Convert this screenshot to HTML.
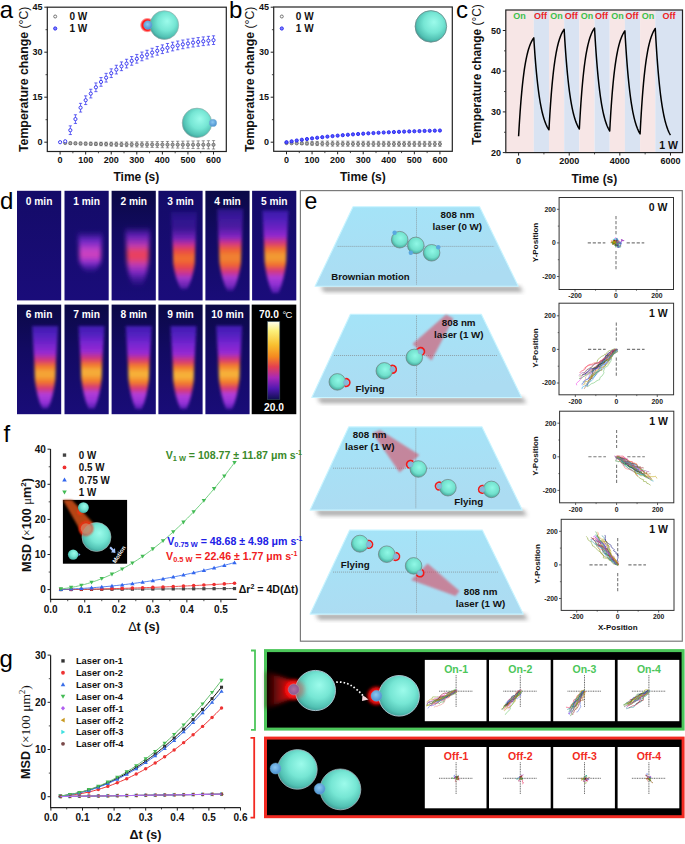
<!DOCTYPE html>
<html><head><meta charset="utf-8"><title>Figure</title>
<style>html,body{margin:0;padding:0;background:#fff;} svg{display:block;} text{font-family:"Liberation Sans", sans-serif;}</style>
</head><body>
<svg width="685" height="844" viewBox="0 0 685 844"><defs>
<radialGradient id="sph" cx="0.56" cy="0.42" r="0.62" fx="0.6" fy="0.36">
  <stop offset="0" stop-color="#9cfbeb"/>
  <stop offset="0.5" stop-color="#76e6d4"/>
  <stop offset="0.82" stop-color="#52c2b4"/>
  <stop offset="1" stop-color="#3a9690"/>
</radialGradient>
<radialGradient id="cap" cx="0.45" cy="0.4" r="0.6">
  <stop offset="0" stop-color="#8cc8f0"/>
  <stop offset="1" stop-color="#4a90d0"/>
</radialGradient>
<radialGradient id="redglow" cx="0.5" cy="0.5" r="0.5">
  <stop offset="0" stop-color="#ff2020" stop-opacity="1"/>
  <stop offset="0.7" stop-color="#ff1010" stop-opacity="0.95"/>
  <stop offset="1" stop-color="#ff0000" stop-opacity="0"/>
</radialGradient>
<filter id="blur1" x="-50%" y="-50%" width="200%" height="200%"><feGaussianBlur stdDeviation="1"/></filter>
<filter id="blur2" x="-50%" y="-50%" width="200%" height="200%"><feGaussianBlur stdDeviation="2"/></filter>
<filter id="blur3" x="-50%" y="-50%" width="200%" height="200%"><feGaussianBlur stdDeviation="3"/></filter>
<filter id="blur15" x="-50%" y="-50%" width="200%" height="200%"><feGaussianBlur stdDeviation="1.5"/></filter>


<linearGradient id="bgr1" x1="0" y1="0" x2="0" y2="1">
  <stop offset="0" stop-color="#140b68"/><stop offset="1" stop-color="#1a0c7a"/>
</linearGradient>
<linearGradient id="bgr2" x1="0" y1="0" x2="0" y2="1">
  <stop offset="0" stop-color="#0b0946"/><stop offset="0.4" stop-color="#120a62"/><stop offset="1" stop-color="#190c78"/>
</linearGradient>
<linearGradient id="cbar" x1="0" y1="0" x2="0" y2="1">
  <stop offset="0" stop-color="#fffff0"/>
  <stop offset="0.12" stop-color="#fbf07a"/>
  <stop offset="0.3" stop-color="#f8c030"/>
  <stop offset="0.45" stop-color="#f58a20"/>
  <stop offset="0.58" stop-color="#e44050"/>
  <stop offset="0.72" stop-color="#a828b8"/>
  <stop offset="0.86" stop-color="#5018b0"/>
  <stop offset="1" stop-color="#101050"/>
</linearGradient>

<linearGradient id="tg1_1" gradientUnits="userSpaceOnUse" x1="0" y1="228" x2="0" y2="274"><stop offset="0.07" stop-color="#7a2ae0" stop-opacity="0"/><stop offset="0.27" stop-color="#8a30e0" stop-opacity="0.75"/><stop offset="0.47" stop-color="#c040c8" stop-opacity="1"/><stop offset="0.6" stop-color="#d042bc" stop-opacity="1"/><stop offset="0.73" stop-color="#a436d8" stop-opacity="0.9"/><stop offset="0.86" stop-color="#8a2ee0" stop-opacity="0.45"/><stop offset="0.97" stop-color="#7a2ad8" stop-opacity="0"/></linearGradient>
<filter id="fb_tg1_1" x="-50%" y="-20%" width="200%" height="140%"><feGaussianBlur stdDeviation="2.2"/></filter>
<linearGradient id="tg1_2" gradientUnits="userSpaceOnUse" x1="0" y1="224" x2="0" y2="290"><stop offset="0.04" stop-color="#7a2ae0" stop-opacity="0"/><stop offset="0.17" stop-color="#8a2ae0" stop-opacity="0.65"/><stop offset="0.33" stop-color="#c03cb0" stop-opacity="1"/><stop offset="0.42" stop-color="#e84262" stop-opacity="1"/><stop offset="0.52" stop-color="#e84060" stop-opacity="1"/><stop offset="0.61" stop-color="#c23cb0" stop-opacity="1"/><stop offset="0.73" stop-color="#9a30d8" stop-opacity="0.8"/><stop offset="0.87" stop-color="#7a28d0" stop-opacity="0.3"/><stop offset="0.96" stop-color="#6a20c8" stop-opacity="0"/></linearGradient>
<filter id="fb_tg1_2" x="-50%" y="-20%" width="200%" height="140%"><feGaussianBlur stdDeviation="2.2"/></filter>
<linearGradient id="tg1_3" gradientUnits="userSpaceOnUse" x1="0" y1="211.5" x2="0" y2="289.4"><stop offset="0" stop-color="#4a1ec2" stop-opacity="0.23"/><stop offset="0.1" stop-color="#5822ca" stop-opacity="0.36"/><stop offset="0.21" stop-color="#7a26d6" stop-opacity="0.33"/><stop offset="0.34" stop-color="#982ad2" stop-opacity="0.72"/><stop offset="0.43" stop-color="#cb3390" stop-opacity="1"/><stop offset="0.5" stop-color="#e84848" stop-opacity="1"/><stop offset="0.58" stop-color="#f06a30" stop-opacity="1"/><stop offset="0.63" stop-color="#f06a30" stop-opacity="1"/><stop offset="0.71" stop-color="#e84848" stop-opacity="1"/><stop offset="0.79" stop-color="#cb3390" stop-opacity="1"/><stop offset="0.86" stop-color="#b23cd8" stop-opacity="0.86"/><stop offset="0.97" stop-color="#9632d8" stop-opacity="0.56"/><stop offset="1" stop-color="#6a20c4" stop-opacity="0.28"/></linearGradient>
<filter id="fb_tg1_3" x="-50%" y="-20%" width="200%" height="140%"><feGaussianBlur stdDeviation="1.6"/></filter>
<linearGradient id="tg1_4" gradientUnits="userSpaceOnUse" x1="0" y1="208.8" x2="0" y2="290.7"><stop offset="0" stop-color="#4a1ec2" stop-opacity="0.46"/><stop offset="0.1" stop-color="#5822ca" stop-opacity="0.59"/><stop offset="0.22" stop-color="#7a26d6" stop-opacity="0.56"/><stop offset="0.34" stop-color="#982ad2" stop-opacity="0.84"/><stop offset="0.42" stop-color="#d23684" stop-opacity="1"/><stop offset="0.5" stop-color="#ee6136" stop-opacity="1"/><stop offset="0.57" stop-color="#f08030" stop-opacity="1"/><stop offset="0.62" stop-color="#f08030" stop-opacity="1"/><stop offset="0.69" stop-color="#ee6136" stop-opacity="1"/><stop offset="0.77" stop-color="#d23684" stop-opacity="1"/><stop offset="0.84" stop-color="#b23cd8" stop-opacity="0.92"/><stop offset="0.94" stop-color="#9632d8" stop-opacity="0.75"/><stop offset="1" stop-color="#6a20c4" stop-opacity="0.5"/></linearGradient>
<filter id="fb_tg1_4" x="-50%" y="-20%" width="200%" height="140%"><feGaussianBlur stdDeviation="1.6"/></filter>
<linearGradient id="tg1_5" gradientUnits="userSpaceOnUse" x1="0" y1="210.4" x2="0" y2="293"><stop offset="0" stop-color="#4a1ec2" stop-opacity="0.69"/><stop offset="0.1" stop-color="#5822ca" stop-opacity="0.82"/><stop offset="0.19" stop-color="#7a26d6" stop-opacity="0.79"/><stop offset="0.31" stop-color="#982ad2" stop-opacity="0.96"/><stop offset="0.39" stop-color="#d5387a" stop-opacity="1"/><stop offset="0.47" stop-color="#f1702e" stop-opacity="1"/><stop offset="0.54" stop-color="#f29a32" stop-opacity="1"/><stop offset="0.59" stop-color="#f29a32" stop-opacity="1"/><stop offset="0.66" stop-color="#f1702e" stop-opacity="1"/><stop offset="0.73" stop-color="#d5387a" stop-opacity="1"/><stop offset="0.81" stop-color="#b23cd8" stop-opacity="0.98"/><stop offset="0.9" stop-color="#9632d8" stop-opacity="0.94"/><stop offset="1" stop-color="#6a20c4" stop-opacity="0.72"/></linearGradient>
<filter id="fb_tg1_5" x="-50%" y="-20%" width="200%" height="140%"><feGaussianBlur stdDeviation="1.6"/></filter>
<linearGradient id="tg2_0" gradientUnits="userSpaceOnUse" x1="0" y1="326" x2="0" y2="408.3"><stop offset="0" stop-color="#4a1ec2" stop-opacity="0.8"/><stop offset="0.1" stop-color="#5822ca" stop-opacity="0.9"/><stop offset="0.21" stop-color="#7a26d6" stop-opacity="0.9"/><stop offset="0.33" stop-color="#982ad2" stop-opacity="1"/><stop offset="0.42" stop-color="#d63975" stop-opacity="1"/><stop offset="0.49" stop-color="#f1752d" stop-opacity="1"/><stop offset="0.56" stop-color="#f4a435" stop-opacity="1"/><stop offset="0.61" stop-color="#f4a435" stop-opacity="1"/><stop offset="0.68" stop-color="#f1752d" stop-opacity="1"/><stop offset="0.76" stop-color="#d63975" stop-opacity="1"/><stop offset="0.83" stop-color="#b23cd8" stop-opacity="1"/><stop offset="0.93" stop-color="#9632d8" stop-opacity="1"/><stop offset="1" stop-color="#6a20c4" stop-opacity="0.8"/></linearGradient>
<filter id="fb_tg2_0" x="-50%" y="-20%" width="200%" height="140%"><feGaussianBlur stdDeviation="1.5"/></filter>
<linearGradient id="tg2_1" gradientUnits="userSpaceOnUse" x1="0" y1="326" x2="0" y2="408.5"><stop offset="0" stop-color="#4a1ec2" stop-opacity="0.85"/><stop offset="0.1" stop-color="#5822ca" stop-opacity="0.9"/><stop offset="0.19" stop-color="#7a26d6" stop-opacity="0.95"/><stop offset="0.31" stop-color="#982ad2" stop-opacity="1"/><stop offset="0.4" stop-color="#d73a72" stop-opacity="1"/><stop offset="0.47" stop-color="#f2782c" stop-opacity="1"/><stop offset="0.54" stop-color="#f5ac37" stop-opacity="1"/><stop offset="0.59" stop-color="#f5ac37" stop-opacity="1"/><stop offset="0.67" stop-color="#f2782c" stop-opacity="1"/><stop offset="0.74" stop-color="#d73a72" stop-opacity="1"/><stop offset="0.81" stop-color="#b23cd8" stop-opacity="1"/><stop offset="0.91" stop-color="#9632d8" stop-opacity="1"/><stop offset="1" stop-color="#6a20c4" stop-opacity="0.8"/></linearGradient>
<filter id="fb_tg2_1" x="-50%" y="-20%" width="200%" height="140%"><feGaussianBlur stdDeviation="1.5"/></filter>
<linearGradient id="tg2_2" gradientUnits="userSpaceOnUse" x1="0" y1="326" x2="0" y2="409"><stop offset="0" stop-color="#4a1ec2" stop-opacity="0.85"/><stop offset="0.1" stop-color="#5822ca" stop-opacity="0.9"/><stop offset="0.21" stop-color="#7a26d6" stop-opacity="0.95"/><stop offset="0.33" stop-color="#982ad2" stop-opacity="1"/><stop offset="0.41" stop-color="#d83a70" stop-opacity="1"/><stop offset="0.48" stop-color="#f27a2c" stop-opacity="1"/><stop offset="0.56" stop-color="#f6b038" stop-opacity="1"/><stop offset="0.6" stop-color="#f6b038" stop-opacity="1"/><stop offset="0.68" stop-color="#f27a2c" stop-opacity="1"/><stop offset="0.75" stop-color="#d83a70" stop-opacity="1"/><stop offset="0.82" stop-color="#b23cd8" stop-opacity="1"/><stop offset="0.92" stop-color="#9632d8" stop-opacity="1"/><stop offset="1" stop-color="#6a20c4" stop-opacity="0.8"/></linearGradient>
<filter id="fb_tg2_2" x="-50%" y="-20%" width="200%" height="140%"><feGaussianBlur stdDeviation="1.5"/></filter>
<linearGradient id="tg2_3" gradientUnits="userSpaceOnUse" x1="0" y1="326" x2="0" y2="409"><stop offset="0" stop-color="#4a1ec2" stop-opacity="0.85"/><stop offset="0.1" stop-color="#5822ca" stop-opacity="0.9"/><stop offset="0.22" stop-color="#7a26d6" stop-opacity="0.95"/><stop offset="0.34" stop-color="#982ad2" stop-opacity="1"/><stop offset="0.43" stop-color="#d83a70" stop-opacity="1"/><stop offset="0.5" stop-color="#f27a2c" stop-opacity="1"/><stop offset="0.57" stop-color="#f6b038" stop-opacity="1"/><stop offset="0.62" stop-color="#f6b038" stop-opacity="1"/><stop offset="0.69" stop-color="#f27a2c" stop-opacity="1"/><stop offset="0.77" stop-color="#d83a70" stop-opacity="1"/><stop offset="0.84" stop-color="#b23cd8" stop-opacity="1"/><stop offset="0.93" stop-color="#9632d8" stop-opacity="1"/><stop offset="1" stop-color="#6a20c4" stop-opacity="0.8"/></linearGradient>
<filter id="fb_tg2_3" x="-50%" y="-20%" width="200%" height="140%"><feGaussianBlur stdDeviation="1.5"/></filter>
<linearGradient id="tg2_4" gradientUnits="userSpaceOnUse" x1="0" y1="325.7" x2="0" y2="409"><stop offset="0" stop-color="#4a1ec2" stop-opacity="0.85"/><stop offset="0.1" stop-color="#5822ca" stop-opacity="0.9"/><stop offset="0.21" stop-color="#7a26d6" stop-opacity="0.95"/><stop offset="0.33" stop-color="#982ad2" stop-opacity="1"/><stop offset="0.41" stop-color="#d83a70" stop-opacity="1"/><stop offset="0.48" stop-color="#f27a2c" stop-opacity="1"/><stop offset="0.56" stop-color="#f6b038" stop-opacity="1"/><stop offset="0.6" stop-color="#f6b038" stop-opacity="1"/><stop offset="0.68" stop-color="#f27a2c" stop-opacity="1"/><stop offset="0.75" stop-color="#d83a70" stop-opacity="1"/><stop offset="0.82" stop-color="#b23cd8" stop-opacity="1"/><stop offset="0.92" stop-color="#9632d8" stop-opacity="1"/><stop offset="1" stop-color="#6a20c4" stop-opacity="0.8"/></linearGradient>
<filter id="fb_tg2_4" x="-50%" y="-20%" width="200%" height="140%"><feGaussianBlur stdDeviation="1.5"/></filter>

<linearGradient id="trap" x1="0" y1="0" x2="0.25" y2="1">
  <stop offset="0" stop-color="#a4e4f8"/>
  <stop offset="1" stop-color="#acdcf2"/>
</linearGradient>
<radialGradient id="sphe" cx="0.55" cy="0.4" r="0.65">
  <stop offset="0" stop-color="#90f8e6"/>
  <stop offset="0.6" stop-color="#70e0cc"/>
  <stop offset="1" stop-color="#3c9a90"/>
</radialGradient>
<linearGradient id="laser" x1="0" y1="0" x2="1" y2="0">
  <stop offset="0" stop-color="#e03050" stop-opacity="0.75"/>
  <stop offset="1" stop-color="#e03050" stop-opacity="0.55"/>
</linearGradient>


<radialGradient id="glow2" cx="0.5" cy="0.5" r="0.5">
  <stop offset="0" stop-color="#ff2a2a"/>
  <stop offset="0.55" stop-color="#ff1010" stop-opacity="0.95"/>
  <stop offset="1" stop-color="#ff0000" stop-opacity="0"/>
</radialGradient>
<linearGradient id="cone" x1="1" y1="0" x2="0" y2="0">
  <stop offset="0" stop-color="#ff1a1a" stop-opacity="0.9"/>
  <stop offset="0.5" stop-color="#b01010" stop-opacity="0.6"/>
  <stop offset="1" stop-color="#700808" stop-opacity="0.15"/>
</linearGradient>
<radialGradient id="capp" cx="0.5" cy="0.5" r="0.5">
  <stop offset="0" stop-color="#b070a0"/><stop offset="1" stop-color="#8a5a90"/>
</radialGradient>

<linearGradient id="cone2" x1="0" y1="0" x2="1" y2="0">
  <stop offset="0" stop-color="#300303" stop-opacity="0.5"/><stop offset="0.45" stop-color="#780a0a"/><stop offset="1" stop-color="#e81414"/></linearGradient>
<radialGradient id="glow3" cx="0.5" cy="0.5" r="0.5">
  <stop offset="0" stop-color="#ff2020"/><stop offset="0.6" stop-color="#ff1010"/><stop offset="0.8" stop-color="#e00808" stop-opacity="0.6"/><stop offset="1" stop-color="#a00000" stop-opacity="0"/></radialGradient></defs><text x="-0.3" y="17.9" font-size="24" font-weight="normal" text-anchor="start" fill="#000" font-family='"Liberation Sans", sans-serif' >a</text>
<rect x="47.3" y="7.2" width="179" height="144.3" fill="none" stroke="#222" stroke-width="1.2" />
<line x1="44.3" y1="142.2" x2="47.3" y2="142.2" stroke="#222" stroke-width="1" />
<text x="42.5" y="145.4" font-size="9" font-weight="bold" text-anchor="end" fill="#111" font-family='"Liberation Sans", sans-serif' >0</text>
<line x1="44.3" y1="97.2" x2="47.3" y2="97.2" stroke="#222" stroke-width="1" />
<text x="42.5" y="100.4" font-size="9" font-weight="bold" text-anchor="end" fill="#111" font-family='"Liberation Sans", sans-serif' >15</text>
<line x1="44.3" y1="52.2" x2="47.3" y2="52.2" stroke="#222" stroke-width="1" />
<text x="42.5" y="55.4" font-size="9" font-weight="bold" text-anchor="end" fill="#111" font-family='"Liberation Sans", sans-serif' >30</text>
<line x1="44.3" y1="7.2" x2="47.3" y2="7.2" stroke="#222" stroke-width="1" />
<text x="42.5" y="10.4" font-size="9" font-weight="bold" text-anchor="end" fill="#111" font-family='"Liberation Sans", sans-serif' >45</text>
<line x1="45.5" y1="119.7" x2="47.3" y2="119.7" stroke="#222" stroke-width="0.8" />
<line x1="45.5" y1="74.7" x2="47.3" y2="74.7" stroke="#222" stroke-width="0.8" />
<line x1="45.5" y1="29.7" x2="47.3" y2="29.7" stroke="#222" stroke-width="0.8" />
<line x1="60.1" y1="151.5" x2="60.1" y2="154.5" stroke="#222" stroke-width="1" />
<text x="60.1" y="162.9" font-size="9" font-weight="bold" text-anchor="middle" fill="#111" font-family='"Liberation Sans", sans-serif' >0</text>
<line x1="85.67" y1="151.5" x2="85.67" y2="154.5" stroke="#222" stroke-width="1" />
<text x="85.67" y="162.9" font-size="9" font-weight="bold" text-anchor="middle" fill="#111" font-family='"Liberation Sans", sans-serif' >100</text>
<line x1="111.24" y1="151.5" x2="111.24" y2="154.5" stroke="#222" stroke-width="1" />
<text x="111.24" y="162.9" font-size="9" font-weight="bold" text-anchor="middle" fill="#111" font-family='"Liberation Sans", sans-serif' >200</text>
<line x1="136.81" y1="151.5" x2="136.81" y2="154.5" stroke="#222" stroke-width="1" />
<text x="136.81" y="162.9" font-size="9" font-weight="bold" text-anchor="middle" fill="#111" font-family='"Liberation Sans", sans-serif' >300</text>
<line x1="162.38" y1="151.5" x2="162.38" y2="154.5" stroke="#222" stroke-width="1" />
<text x="162.38" y="162.9" font-size="9" font-weight="bold" text-anchor="middle" fill="#111" font-family='"Liberation Sans", sans-serif' >400</text>
<line x1="187.95" y1="151.5" x2="187.95" y2="154.5" stroke="#222" stroke-width="1" />
<text x="187.95" y="162.9" font-size="9" font-weight="bold" text-anchor="middle" fill="#111" font-family='"Liberation Sans", sans-serif' >500</text>
<line x1="213.52" y1="151.5" x2="213.52" y2="154.5" stroke="#222" stroke-width="1" />
<text x="213.52" y="162.9" font-size="9" font-weight="bold" text-anchor="middle" fill="#111" font-family='"Liberation Sans", sans-serif' >600</text>
<line x1="72.88" y1="151.5" x2="72.88" y2="153.3" stroke="#222" stroke-width="0.8" />
<line x1="98.45" y1="151.5" x2="98.45" y2="153.3" stroke="#222" stroke-width="0.8" />
<line x1="124.02" y1="151.5" x2="124.02" y2="153.3" stroke="#222" stroke-width="0.8" />
<line x1="149.59" y1="151.5" x2="149.59" y2="153.3" stroke="#222" stroke-width="0.8" />
<line x1="175.16" y1="151.5" x2="175.16" y2="153.3" stroke="#222" stroke-width="0.8" />
<line x1="200.73" y1="151.5" x2="200.73" y2="153.3" stroke="#222" stroke-width="0.8" />
<text transform="translate(27.7,152) rotate(-90)" font-size="12.3" font-family='"Liberation Sans", sans-serif' fill="#111"><tspan font-weight="bold">Temperature change </tspan><tspan font-weight="normal">(°C)</tspan></text>
<text x="113.5" y="181" font-size="12" font-weight="bold" text-anchor="start" fill="#111" font-family='"Liberation Sans", sans-serif' >Time (s)</text>
<circle cx="65.21" cy="143" r="1.6" fill="#aaa" stroke="#555" stroke-width="0.7"/>
<line x1="70.33" y1="142.06" x2="70.33" y2="144.3" stroke="#555" stroke-width="0.6" />
<line x1="68.73" y1="142.06" x2="71.93" y2="142.06" stroke="#555" stroke-width="0.6" />
<line x1="68.73" y1="144.3" x2="71.93" y2="144.3" stroke="#555" stroke-width="0.6" />
<circle cx="70.33" cy="143.18" r="1.6" fill="#aaa" stroke="#555" stroke-width="0.7"/>
<line x1="75.44" y1="142.11" x2="75.44" y2="144.57" stroke="#555" stroke-width="0.6" />
<line x1="73.84" y1="142.11" x2="77.04" y2="142.11" stroke="#555" stroke-width="0.6" />
<line x1="73.84" y1="144.57" x2="77.04" y2="144.57" stroke="#555" stroke-width="0.6" />
<circle cx="75.44" cy="143.34" r="1.6" fill="#aaa" stroke="#555" stroke-width="0.7"/>
<line x1="80.56" y1="142.15" x2="80.56" y2="144.83" stroke="#555" stroke-width="0.6" />
<line x1="78.96" y1="142.15" x2="82.16" y2="142.15" stroke="#555" stroke-width="0.6" />
<line x1="78.96" y1="144.83" x2="82.16" y2="144.83" stroke="#555" stroke-width="0.6" />
<circle cx="80.56" cy="143.49" r="1.6" fill="#aaa" stroke="#555" stroke-width="0.7"/>
<line x1="85.67" y1="142.18" x2="85.67" y2="145.08" stroke="#555" stroke-width="0.6" />
<line x1="84.07" y1="142.18" x2="87.27" y2="142.18" stroke="#555" stroke-width="0.6" />
<line x1="84.07" y1="145.08" x2="87.27" y2="145.08" stroke="#555" stroke-width="0.6" />
<circle cx="85.67" cy="143.63" r="1.6" fill="#aaa" stroke="#555" stroke-width="0.7"/>
<line x1="90.78" y1="142.19" x2="90.78" y2="145.31" stroke="#555" stroke-width="0.6" />
<line x1="89.18" y1="142.19" x2="92.38" y2="142.19" stroke="#555" stroke-width="0.6" />
<line x1="89.18" y1="145.31" x2="92.38" y2="145.31" stroke="#555" stroke-width="0.6" />
<circle cx="90.78" cy="143.75" r="1.6" fill="#aaa" stroke="#555" stroke-width="0.7"/>
<line x1="95.9" y1="142.19" x2="95.9" y2="145.53" stroke="#555" stroke-width="0.6" />
<line x1="94.3" y1="142.19" x2="97.5" y2="142.19" stroke="#555" stroke-width="0.6" />
<line x1="94.3" y1="145.53" x2="97.5" y2="145.53" stroke="#555" stroke-width="0.6" />
<circle cx="95.9" cy="143.86" r="1.6" fill="#aaa" stroke="#555" stroke-width="0.7"/>
<line x1="101.01" y1="142.18" x2="101.01" y2="145.74" stroke="#555" stroke-width="0.6" />
<line x1="99.41" y1="142.18" x2="102.61" y2="142.18" stroke="#555" stroke-width="0.6" />
<line x1="99.41" y1="145.74" x2="102.61" y2="145.74" stroke="#555" stroke-width="0.6" />
<circle cx="101.01" cy="143.96" r="1.6" fill="#aaa" stroke="#555" stroke-width="0.7"/>
<line x1="106.13" y1="142.16" x2="106.13" y2="145.94" stroke="#555" stroke-width="0.6" />
<line x1="104.53" y1="142.16" x2="107.73" y2="142.16" stroke="#555" stroke-width="0.6" />
<line x1="104.53" y1="145.94" x2="107.73" y2="145.94" stroke="#555" stroke-width="0.6" />
<circle cx="106.13" cy="144.05" r="1.6" fill="#aaa" stroke="#555" stroke-width="0.7"/>
<line x1="111.24" y1="142.13" x2="111.24" y2="146.13" stroke="#555" stroke-width="0.6" />
<line x1="109.64" y1="142.13" x2="112.84" y2="142.13" stroke="#555" stroke-width="0.6" />
<line x1="109.64" y1="146.13" x2="112.84" y2="146.13" stroke="#555" stroke-width="0.6" />
<circle cx="111.24" cy="144.13" r="1.6" fill="#aaa" stroke="#555" stroke-width="0.7"/>
<line x1="116.35" y1="142.09" x2="116.35" y2="146.31" stroke="#555" stroke-width="0.6" />
<line x1="114.75" y1="142.09" x2="117.95" y2="142.09" stroke="#555" stroke-width="0.6" />
<line x1="114.75" y1="146.31" x2="117.95" y2="146.31" stroke="#555" stroke-width="0.6" />
<circle cx="116.35" cy="144.2" r="1.6" fill="#aaa" stroke="#555" stroke-width="0.7"/>
<line x1="121.47" y1="142.05" x2="121.47" y2="146.49" stroke="#555" stroke-width="0.6" />
<line x1="119.87" y1="142.05" x2="123.07" y2="142.05" stroke="#555" stroke-width="0.6" />
<line x1="119.87" y1="146.49" x2="123.07" y2="146.49" stroke="#555" stroke-width="0.6" />
<circle cx="121.47" cy="144.27" r="1.6" fill="#aaa" stroke="#555" stroke-width="0.7"/>
<line x1="126.58" y1="142" x2="126.58" y2="146.66" stroke="#555" stroke-width="0.6" />
<line x1="124.98" y1="142" x2="128.18" y2="142" stroke="#555" stroke-width="0.6" />
<line x1="124.98" y1="146.66" x2="128.18" y2="146.66" stroke="#555" stroke-width="0.6" />
<circle cx="126.58" cy="144.33" r="1.6" fill="#aaa" stroke="#555" stroke-width="0.7"/>
<line x1="131.7" y1="141.94" x2="131.7" y2="146.82" stroke="#555" stroke-width="0.6" />
<line x1="130.1" y1="141.94" x2="133.3" y2="141.94" stroke="#555" stroke-width="0.6" />
<line x1="130.1" y1="146.82" x2="133.3" y2="146.82" stroke="#555" stroke-width="0.6" />
<circle cx="131.7" cy="144.38" r="1.6" fill="#aaa" stroke="#555" stroke-width="0.7"/>
<line x1="136.81" y1="141.88" x2="136.81" y2="146.98" stroke="#555" stroke-width="0.6" />
<line x1="135.21" y1="141.88" x2="138.41" y2="141.88" stroke="#555" stroke-width="0.6" />
<line x1="135.21" y1="146.98" x2="138.41" y2="146.98" stroke="#555" stroke-width="0.6" />
<circle cx="136.81" cy="144.43" r="1.6" fill="#aaa" stroke="#555" stroke-width="0.7"/>
<line x1="141.92" y1="141.82" x2="141.92" y2="147.14" stroke="#555" stroke-width="0.6" />
<line x1="140.32" y1="141.82" x2="143.52" y2="141.82" stroke="#555" stroke-width="0.6" />
<line x1="140.32" y1="147.14" x2="143.52" y2="147.14" stroke="#555" stroke-width="0.6" />
<circle cx="141.92" cy="144.48" r="1.6" fill="#aaa" stroke="#555" stroke-width="0.7"/>
<line x1="147.04" y1="141.75" x2="147.04" y2="147.29" stroke="#555" stroke-width="0.6" />
<line x1="145.44" y1="141.75" x2="148.64" y2="141.75" stroke="#555" stroke-width="0.6" />
<line x1="145.44" y1="147.29" x2="148.64" y2="147.29" stroke="#555" stroke-width="0.6" />
<circle cx="147.04" cy="144.52" r="1.6" fill="#aaa" stroke="#555" stroke-width="0.7"/>
<line x1="152.15" y1="141.67" x2="152.15" y2="147.43" stroke="#555" stroke-width="0.6" />
<line x1="150.55" y1="141.67" x2="153.75" y2="141.67" stroke="#555" stroke-width="0.6" />
<line x1="150.55" y1="147.43" x2="153.75" y2="147.43" stroke="#555" stroke-width="0.6" />
<circle cx="152.15" cy="144.55" r="1.6" fill="#aaa" stroke="#555" stroke-width="0.7"/>
<line x1="157.27" y1="141.6" x2="157.27" y2="147.58" stroke="#555" stroke-width="0.6" />
<line x1="155.67" y1="141.6" x2="158.87" y2="141.6" stroke="#555" stroke-width="0.6" />
<line x1="155.67" y1="147.58" x2="158.87" y2="147.58" stroke="#555" stroke-width="0.6" />
<circle cx="157.27" cy="144.59" r="1.6" fill="#aaa" stroke="#555" stroke-width="0.7"/>
<line x1="162.38" y1="141.52" x2="162.38" y2="147.72" stroke="#555" stroke-width="0.6" />
<line x1="160.78" y1="141.52" x2="163.98" y2="141.52" stroke="#555" stroke-width="0.6" />
<line x1="160.78" y1="147.72" x2="163.98" y2="147.72" stroke="#555" stroke-width="0.6" />
<circle cx="162.38" cy="144.62" r="1.6" fill="#aaa" stroke="#555" stroke-width="0.7"/>
<line x1="167.49" y1="141.43" x2="167.49" y2="147.85" stroke="#555" stroke-width="0.6" />
<line x1="165.89" y1="141.43" x2="169.09" y2="141.43" stroke="#555" stroke-width="0.6" />
<line x1="165.89" y1="147.85" x2="169.09" y2="147.85" stroke="#555" stroke-width="0.6" />
<circle cx="167.49" cy="144.64" r="1.6" fill="#aaa" stroke="#555" stroke-width="0.7"/>
<line x1="172.61" y1="141.35" x2="172.61" y2="147.99" stroke="#555" stroke-width="0.6" />
<line x1="171.01" y1="141.35" x2="174.21" y2="141.35" stroke="#555" stroke-width="0.6" />
<line x1="171.01" y1="147.99" x2="174.21" y2="147.99" stroke="#555" stroke-width="0.6" />
<circle cx="172.61" cy="144.67" r="1.6" fill="#aaa" stroke="#555" stroke-width="0.7"/>
<line x1="177.72" y1="141.26" x2="177.72" y2="148.12" stroke="#555" stroke-width="0.6" />
<line x1="176.12" y1="141.26" x2="179.32" y2="141.26" stroke="#555" stroke-width="0.6" />
<line x1="176.12" y1="148.12" x2="179.32" y2="148.12" stroke="#555" stroke-width="0.6" />
<circle cx="177.72" cy="144.69" r="1.6" fill="#aaa" stroke="#555" stroke-width="0.7"/>
<line x1="182.84" y1="141.17" x2="182.84" y2="148.25" stroke="#555" stroke-width="0.6" />
<line x1="181.24" y1="141.17" x2="184.44" y2="141.17" stroke="#555" stroke-width="0.6" />
<line x1="181.24" y1="148.25" x2="184.44" y2="148.25" stroke="#555" stroke-width="0.6" />
<circle cx="182.84" cy="144.71" r="1.6" fill="#aaa" stroke="#555" stroke-width="0.7"/>
<line x1="187.95" y1="141.08" x2="187.95" y2="148.38" stroke="#555" stroke-width="0.6" />
<line x1="186.35" y1="141.08" x2="189.55" y2="141.08" stroke="#555" stroke-width="0.6" />
<line x1="186.35" y1="148.38" x2="189.55" y2="148.38" stroke="#555" stroke-width="0.6" />
<circle cx="187.95" cy="144.73" r="1.6" fill="#aaa" stroke="#555" stroke-width="0.7"/>
<line x1="193.06" y1="140.98" x2="193.06" y2="148.5" stroke="#555" stroke-width="0.6" />
<line x1="191.46" y1="140.98" x2="194.66" y2="140.98" stroke="#555" stroke-width="0.6" />
<line x1="191.46" y1="148.5" x2="194.66" y2="148.5" stroke="#555" stroke-width="0.6" />
<circle cx="193.06" cy="144.74" r="1.6" fill="#aaa" stroke="#555" stroke-width="0.7"/>
<line x1="198.18" y1="140.89" x2="198.18" y2="148.63" stroke="#555" stroke-width="0.6" />
<line x1="196.58" y1="140.89" x2="199.78" y2="140.89" stroke="#555" stroke-width="0.6" />
<line x1="196.58" y1="148.63" x2="199.78" y2="148.63" stroke="#555" stroke-width="0.6" />
<circle cx="198.18" cy="144.76" r="1.6" fill="#aaa" stroke="#555" stroke-width="0.7"/>
<line x1="203.29" y1="140.79" x2="203.29" y2="148.75" stroke="#555" stroke-width="0.6" />
<line x1="201.69" y1="140.79" x2="204.89" y2="140.79" stroke="#555" stroke-width="0.6" />
<line x1="201.69" y1="148.75" x2="204.89" y2="148.75" stroke="#555" stroke-width="0.6" />
<circle cx="203.29" cy="144.77" r="1.6" fill="#aaa" stroke="#555" stroke-width="0.7"/>
<line x1="208.41" y1="140.69" x2="208.41" y2="148.87" stroke="#555" stroke-width="0.6" />
<line x1="206.81" y1="140.69" x2="210.01" y2="140.69" stroke="#555" stroke-width="0.6" />
<line x1="206.81" y1="148.87" x2="210.01" y2="148.87" stroke="#555" stroke-width="0.6" />
<circle cx="208.41" cy="144.78" r="1.6" fill="#aaa" stroke="#555" stroke-width="0.7"/>
<line x1="213.52" y1="140.6" x2="213.52" y2="149" stroke="#555" stroke-width="0.6" />
<line x1="211.92" y1="140.6" x2="215.12" y2="140.6" stroke="#555" stroke-width="0.6" />
<line x1="211.92" y1="149" x2="215.12" y2="149" stroke="#555" stroke-width="0.6" />
<circle cx="213.52" cy="144.8" r="1.6" fill="#aaa" stroke="#555" stroke-width="0.7"/>
<circle cx="60.1" cy="142.2" r="1.6" fill="#fff" stroke="#2b2bee" stroke-width="0.9"/>
<circle cx="65.21" cy="141.3" r="1.6" fill="#fff" stroke="#2b2bee" stroke-width="0.9"/>
<line x1="70.33" y1="125.85" x2="70.33" y2="134.55" stroke="#2b2bee" stroke-width="0.7" />
<line x1="68.73" y1="125.85" x2="71.93" y2="125.85" stroke="#2b2bee" stroke-width="0.7" />
<line x1="68.73" y1="134.55" x2="71.93" y2="134.55" stroke="#2b2bee" stroke-width="0.7" />
<circle cx="70.33" cy="130.2" r="1.6" fill="#fff" stroke="#2b2bee" stroke-width="0.9"/>
<line x1="75.44" y1="114.75" x2="75.44" y2="123.45" stroke="#2b2bee" stroke-width="0.7" />
<line x1="73.84" y1="114.75" x2="77.04" y2="114.75" stroke="#2b2bee" stroke-width="0.7" />
<line x1="73.84" y1="123.45" x2="77.04" y2="123.45" stroke="#2b2bee" stroke-width="0.7" />
<circle cx="75.44" cy="119.1" r="1.6" fill="#fff" stroke="#2b2bee" stroke-width="0.9"/>
<line x1="80.56" y1="103.35" x2="80.56" y2="112.05" stroke="#2b2bee" stroke-width="0.7" />
<line x1="78.96" y1="103.35" x2="82.16" y2="103.35" stroke="#2b2bee" stroke-width="0.7" />
<line x1="78.96" y1="112.05" x2="82.16" y2="112.05" stroke="#2b2bee" stroke-width="0.7" />
<circle cx="80.56" cy="107.7" r="1.6" fill="#fff" stroke="#2b2bee" stroke-width="0.9"/>
<line x1="85.67" y1="95.85" x2="85.67" y2="104.55" stroke="#2b2bee" stroke-width="0.7" />
<line x1="84.07" y1="95.85" x2="87.27" y2="95.85" stroke="#2b2bee" stroke-width="0.7" />
<line x1="84.07" y1="104.55" x2="87.27" y2="104.55" stroke="#2b2bee" stroke-width="0.7" />
<circle cx="85.67" cy="100.2" r="1.6" fill="#fff" stroke="#2b2bee" stroke-width="0.9"/>
<line x1="90.78" y1="89.25" x2="90.78" y2="97.95" stroke="#2b2bee" stroke-width="0.7" />
<line x1="89.18" y1="89.25" x2="92.38" y2="89.25" stroke="#2b2bee" stroke-width="0.7" />
<line x1="89.18" y1="97.95" x2="92.38" y2="97.95" stroke="#2b2bee" stroke-width="0.7" />
<circle cx="90.78" cy="93.6" r="1.6" fill="#fff" stroke="#2b2bee" stroke-width="0.9"/>
<line x1="95.9" y1="82.95" x2="95.9" y2="91.65" stroke="#2b2bee" stroke-width="0.7" />
<line x1="94.3" y1="82.95" x2="97.5" y2="82.95" stroke="#2b2bee" stroke-width="0.7" />
<line x1="94.3" y1="91.65" x2="97.5" y2="91.65" stroke="#2b2bee" stroke-width="0.7" />
<circle cx="95.9" cy="87.3" r="1.6" fill="#fff" stroke="#2b2bee" stroke-width="0.9"/>
<line x1="101.01" y1="77.55" x2="101.01" y2="86.25" stroke="#2b2bee" stroke-width="0.7" />
<line x1="99.41" y1="77.55" x2="102.61" y2="77.55" stroke="#2b2bee" stroke-width="0.7" />
<line x1="99.41" y1="86.25" x2="102.61" y2="86.25" stroke="#2b2bee" stroke-width="0.7" />
<circle cx="101.01" cy="81.9" r="1.6" fill="#fff" stroke="#2b2bee" stroke-width="0.9"/>
<line x1="106.13" y1="73.35" x2="106.13" y2="82.05" stroke="#2b2bee" stroke-width="0.7" />
<line x1="104.53" y1="73.35" x2="107.73" y2="73.35" stroke="#2b2bee" stroke-width="0.7" />
<line x1="104.53" y1="82.05" x2="107.73" y2="82.05" stroke="#2b2bee" stroke-width="0.7" />
<circle cx="106.13" cy="77.7" r="1.6" fill="#fff" stroke="#2b2bee" stroke-width="0.9"/>
<line x1="111.24" y1="68.85" x2="111.24" y2="77.55" stroke="#2b2bee" stroke-width="0.7" />
<line x1="109.64" y1="68.85" x2="112.84" y2="68.85" stroke="#2b2bee" stroke-width="0.7" />
<line x1="109.64" y1="77.55" x2="112.84" y2="77.55" stroke="#2b2bee" stroke-width="0.7" />
<circle cx="111.24" cy="73.2" r="1.6" fill="#fff" stroke="#2b2bee" stroke-width="0.9"/>
<line x1="116.35" y1="65.25" x2="116.35" y2="73.95" stroke="#2b2bee" stroke-width="0.7" />
<line x1="114.75" y1="65.25" x2="117.95" y2="65.25" stroke="#2b2bee" stroke-width="0.7" />
<line x1="114.75" y1="73.95" x2="117.95" y2="73.95" stroke="#2b2bee" stroke-width="0.7" />
<circle cx="116.35" cy="69.6" r="1.6" fill="#fff" stroke="#2b2bee" stroke-width="0.9"/>
<line x1="121.47" y1="61.95" x2="121.47" y2="70.65" stroke="#2b2bee" stroke-width="0.7" />
<line x1="119.87" y1="61.95" x2="123.07" y2="61.95" stroke="#2b2bee" stroke-width="0.7" />
<line x1="119.87" y1="70.65" x2="123.07" y2="70.65" stroke="#2b2bee" stroke-width="0.7" />
<circle cx="121.47" cy="66.3" r="1.6" fill="#fff" stroke="#2b2bee" stroke-width="0.9"/>
<line x1="126.58" y1="59.25" x2="126.58" y2="67.95" stroke="#2b2bee" stroke-width="0.7" />
<line x1="124.98" y1="59.25" x2="128.18" y2="59.25" stroke="#2b2bee" stroke-width="0.7" />
<line x1="124.98" y1="67.95" x2="128.18" y2="67.95" stroke="#2b2bee" stroke-width="0.7" />
<circle cx="126.58" cy="63.6" r="1.6" fill="#fff" stroke="#2b2bee" stroke-width="0.9"/>
<line x1="131.7" y1="56.55" x2="131.7" y2="65.25" stroke="#2b2bee" stroke-width="0.7" />
<line x1="130.1" y1="56.55" x2="133.3" y2="56.55" stroke="#2b2bee" stroke-width="0.7" />
<line x1="130.1" y1="65.25" x2="133.3" y2="65.25" stroke="#2b2bee" stroke-width="0.7" />
<circle cx="131.7" cy="60.9" r="1.6" fill="#fff" stroke="#2b2bee" stroke-width="0.9"/>
<line x1="136.81" y1="54.45" x2="136.81" y2="63.15" stroke="#2b2bee" stroke-width="0.7" />
<line x1="135.21" y1="54.45" x2="138.41" y2="54.45" stroke="#2b2bee" stroke-width="0.7" />
<line x1="135.21" y1="63.15" x2="138.41" y2="63.15" stroke="#2b2bee" stroke-width="0.7" />
<circle cx="136.81" cy="58.8" r="1.6" fill="#fff" stroke="#2b2bee" stroke-width="0.9"/>
<line x1="141.92" y1="52.05" x2="141.92" y2="60.75" stroke="#2b2bee" stroke-width="0.7" />
<line x1="140.32" y1="52.05" x2="143.52" y2="52.05" stroke="#2b2bee" stroke-width="0.7" />
<line x1="140.32" y1="60.75" x2="143.52" y2="60.75" stroke="#2b2bee" stroke-width="0.7" />
<circle cx="141.92" cy="56.4" r="1.6" fill="#fff" stroke="#2b2bee" stroke-width="0.9"/>
<line x1="147.04" y1="50.25" x2="147.04" y2="58.95" stroke="#2b2bee" stroke-width="0.7" />
<line x1="145.44" y1="50.25" x2="148.64" y2="50.25" stroke="#2b2bee" stroke-width="0.7" />
<line x1="145.44" y1="58.95" x2="148.64" y2="58.95" stroke="#2b2bee" stroke-width="0.7" />
<circle cx="147.04" cy="54.6" r="1.6" fill="#fff" stroke="#2b2bee" stroke-width="0.9"/>
<line x1="152.15" y1="48.26" x2="152.15" y2="56.96" stroke="#2b2bee" stroke-width="0.7" />
<line x1="150.55" y1="48.26" x2="153.75" y2="48.26" stroke="#2b2bee" stroke-width="0.7" />
<line x1="150.55" y1="56.96" x2="153.75" y2="56.96" stroke="#2b2bee" stroke-width="0.7" />
<circle cx="152.15" cy="52.61" r="1.6" fill="#fff" stroke="#2b2bee" stroke-width="0.9"/>
<line x1="157.27" y1="46.48" x2="157.27" y2="55.18" stroke="#2b2bee" stroke-width="0.7" />
<line x1="155.67" y1="46.48" x2="158.87" y2="46.48" stroke="#2b2bee" stroke-width="0.7" />
<line x1="155.67" y1="55.18" x2="158.87" y2="55.18" stroke="#2b2bee" stroke-width="0.7" />
<circle cx="157.27" cy="50.83" r="1.6" fill="#fff" stroke="#2b2bee" stroke-width="0.9"/>
<line x1="162.38" y1="44.89" x2="162.38" y2="53.59" stroke="#2b2bee" stroke-width="0.7" />
<line x1="160.78" y1="44.89" x2="163.98" y2="44.89" stroke="#2b2bee" stroke-width="0.7" />
<line x1="160.78" y1="53.59" x2="163.98" y2="53.59" stroke="#2b2bee" stroke-width="0.7" />
<circle cx="162.38" cy="49.24" r="1.6" fill="#fff" stroke="#2b2bee" stroke-width="0.9"/>
<line x1="167.49" y1="43.47" x2="167.49" y2="52.17" stroke="#2b2bee" stroke-width="0.7" />
<line x1="165.89" y1="43.47" x2="169.09" y2="43.47" stroke="#2b2bee" stroke-width="0.7" />
<line x1="165.89" y1="52.17" x2="169.09" y2="52.17" stroke="#2b2bee" stroke-width="0.7" />
<circle cx="167.49" cy="47.82" r="1.6" fill="#fff" stroke="#2b2bee" stroke-width="0.9"/>
<line x1="172.61" y1="42.19" x2="172.61" y2="50.89" stroke="#2b2bee" stroke-width="0.7" />
<line x1="171.01" y1="42.19" x2="174.21" y2="42.19" stroke="#2b2bee" stroke-width="0.7" />
<line x1="171.01" y1="50.89" x2="174.21" y2="50.89" stroke="#2b2bee" stroke-width="0.7" />
<circle cx="172.61" cy="46.54" r="1.6" fill="#fff" stroke="#2b2bee" stroke-width="0.9"/>
<line x1="177.72" y1="41.05" x2="177.72" y2="49.75" stroke="#2b2bee" stroke-width="0.7" />
<line x1="176.12" y1="41.05" x2="179.32" y2="41.05" stroke="#2b2bee" stroke-width="0.7" />
<line x1="176.12" y1="49.75" x2="179.32" y2="49.75" stroke="#2b2bee" stroke-width="0.7" />
<circle cx="177.72" cy="45.4" r="1.6" fill="#fff" stroke="#2b2bee" stroke-width="0.9"/>
<line x1="182.84" y1="40.03" x2="182.84" y2="48.73" stroke="#2b2bee" stroke-width="0.7" />
<line x1="181.24" y1="40.03" x2="184.44" y2="40.03" stroke="#2b2bee" stroke-width="0.7" />
<line x1="181.24" y1="48.73" x2="184.44" y2="48.73" stroke="#2b2bee" stroke-width="0.7" />
<circle cx="182.84" cy="44.38" r="1.6" fill="#fff" stroke="#2b2bee" stroke-width="0.9"/>
<line x1="187.95" y1="39.12" x2="187.95" y2="47.82" stroke="#2b2bee" stroke-width="0.7" />
<line x1="186.35" y1="39.12" x2="189.55" y2="39.12" stroke="#2b2bee" stroke-width="0.7" />
<line x1="186.35" y1="47.82" x2="189.55" y2="47.82" stroke="#2b2bee" stroke-width="0.7" />
<circle cx="187.95" cy="43.47" r="1.6" fill="#fff" stroke="#2b2bee" stroke-width="0.9"/>
<line x1="193.06" y1="38.3" x2="193.06" y2="47" stroke="#2b2bee" stroke-width="0.7" />
<line x1="191.46" y1="38.3" x2="194.66" y2="38.3" stroke="#2b2bee" stroke-width="0.7" />
<line x1="191.46" y1="47" x2="194.66" y2="47" stroke="#2b2bee" stroke-width="0.7" />
<circle cx="193.06" cy="42.65" r="1.6" fill="#fff" stroke="#2b2bee" stroke-width="0.9"/>
<line x1="198.18" y1="37.57" x2="198.18" y2="46.27" stroke="#2b2bee" stroke-width="0.7" />
<line x1="196.58" y1="37.57" x2="199.78" y2="37.57" stroke="#2b2bee" stroke-width="0.7" />
<line x1="196.58" y1="46.27" x2="199.78" y2="46.27" stroke="#2b2bee" stroke-width="0.7" />
<circle cx="198.18" cy="41.92" r="1.6" fill="#fff" stroke="#2b2bee" stroke-width="0.9"/>
<line x1="203.29" y1="36.92" x2="203.29" y2="45.62" stroke="#2b2bee" stroke-width="0.7" />
<line x1="201.69" y1="36.92" x2="204.89" y2="36.92" stroke="#2b2bee" stroke-width="0.7" />
<line x1="201.69" y1="45.62" x2="204.89" y2="45.62" stroke="#2b2bee" stroke-width="0.7" />
<circle cx="203.29" cy="41.27" r="1.6" fill="#fff" stroke="#2b2bee" stroke-width="0.9"/>
<line x1="208.41" y1="36.33" x2="208.41" y2="45.03" stroke="#2b2bee" stroke-width="0.7" />
<line x1="206.81" y1="36.33" x2="210.01" y2="36.33" stroke="#2b2bee" stroke-width="0.7" />
<line x1="206.81" y1="45.03" x2="210.01" y2="45.03" stroke="#2b2bee" stroke-width="0.7" />
<circle cx="208.41" cy="40.68" r="1.6" fill="#fff" stroke="#2b2bee" stroke-width="0.9"/>
<line x1="213.52" y1="35.81" x2="213.52" y2="44.51" stroke="#2b2bee" stroke-width="0.7" />
<line x1="211.92" y1="35.81" x2="215.12" y2="35.81" stroke="#2b2bee" stroke-width="0.7" />
<line x1="211.92" y1="44.51" x2="215.12" y2="44.51" stroke="#2b2bee" stroke-width="0.7" />
<circle cx="213.52" cy="40.16" r="1.6" fill="#fff" stroke="#2b2bee" stroke-width="0.9"/>
<circle cx="55.2" cy="16.5" r="1.5" fill="#fff" stroke="#555" stroke-width="0.8"/>
<circle cx="55.2" cy="28.5" r="1.6" fill="#8080ff" stroke="#2b2bee" stroke-width="1"/>
<text x="69.5" y="19.9" font-size="10" font-weight="bold" text-anchor="start" fill="#111" font-family='"Liberation Sans", sans-serif' >0 W</text>
<text x="69.5" y="32" font-size="10" font-weight="bold" text-anchor="start" fill="#111" font-family='"Liberation Sans", sans-serif' >1 W</text>
<circle cx="147.4" cy="25.1" r="7.6" fill="url(#redglow)"/>
<circle cx="164.3" cy="25.1" r="14.4" fill="url(#sph)" stroke="#9aa8a8" stroke-width="0.6"/>
<circle cx="147.9" cy="25.1" r="4.3" fill="url(#cap)" stroke="#7ab0d0" stroke-width="0.4"/>
<circle cx="197" cy="122.9" r="14.8" fill="url(#sph)" stroke="#9aa8a8" stroke-width="0.6"/>
<circle cx="213" cy="122.9" r="3.7" fill="url(#cap)" stroke="#7ab0d0" stroke-width="0.4"/>
<text x="229" y="18" font-size="24" font-weight="normal" text-anchor="start" fill="#000" font-family='"Liberation Sans", sans-serif' >b</text>
<rect x="273.7" y="7" width="178.6" height="144.3" fill="none" stroke="#222" stroke-width="1.2" />
<line x1="270.7" y1="142.2" x2="273.7" y2="142.2" stroke="#222" stroke-width="1" />
<text x="268.9" y="145.4" font-size="9" font-weight="bold" text-anchor="end" fill="#111" font-family='"Liberation Sans", sans-serif' >0</text>
<line x1="270.7" y1="97.2" x2="273.7" y2="97.2" stroke="#222" stroke-width="1" />
<text x="268.9" y="100.4" font-size="9" font-weight="bold" text-anchor="end" fill="#111" font-family='"Liberation Sans", sans-serif' >15</text>
<line x1="270.7" y1="52.2" x2="273.7" y2="52.2" stroke="#222" stroke-width="1" />
<text x="268.9" y="55.4" font-size="9" font-weight="bold" text-anchor="end" fill="#111" font-family='"Liberation Sans", sans-serif' >30</text>
<line x1="270.7" y1="7.2" x2="273.7" y2="7.2" stroke="#222" stroke-width="1" />
<text x="268.9" y="10.4" font-size="9" font-weight="bold" text-anchor="end" fill="#111" font-family='"Liberation Sans", sans-serif' >45</text>
<line x1="271.9" y1="119.7" x2="273.7" y2="119.7" stroke="#222" stroke-width="0.8" />
<line x1="271.9" y1="74.7" x2="273.7" y2="74.7" stroke="#222" stroke-width="0.8" />
<line x1="271.9" y1="29.7" x2="273.7" y2="29.7" stroke="#222" stroke-width="0.8" />
<line x1="286.5" y1="151.3" x2="286.5" y2="154.3" stroke="#222" stroke-width="1" />
<text x="286.5" y="162.7" font-size="9" font-weight="bold" text-anchor="middle" fill="#111" font-family='"Liberation Sans", sans-serif' >0</text>
<line x1="312.07" y1="151.3" x2="312.07" y2="154.3" stroke="#222" stroke-width="1" />
<text x="312.07" y="162.7" font-size="9" font-weight="bold" text-anchor="middle" fill="#111" font-family='"Liberation Sans", sans-serif' >100</text>
<line x1="337.64" y1="151.3" x2="337.64" y2="154.3" stroke="#222" stroke-width="1" />
<text x="337.64" y="162.7" font-size="9" font-weight="bold" text-anchor="middle" fill="#111" font-family='"Liberation Sans", sans-serif' >200</text>
<line x1="363.21" y1="151.3" x2="363.21" y2="154.3" stroke="#222" stroke-width="1" />
<text x="363.21" y="162.7" font-size="9" font-weight="bold" text-anchor="middle" fill="#111" font-family='"Liberation Sans", sans-serif' >300</text>
<line x1="388.78" y1="151.3" x2="388.78" y2="154.3" stroke="#222" stroke-width="1" />
<text x="388.78" y="162.7" font-size="9" font-weight="bold" text-anchor="middle" fill="#111" font-family='"Liberation Sans", sans-serif' >400</text>
<line x1="414.35" y1="151.3" x2="414.35" y2="154.3" stroke="#222" stroke-width="1" />
<text x="414.35" y="162.7" font-size="9" font-weight="bold" text-anchor="middle" fill="#111" font-family='"Liberation Sans", sans-serif' >500</text>
<line x1="439.92" y1="151.3" x2="439.92" y2="154.3" stroke="#222" stroke-width="1" />
<text x="439.92" y="162.7" font-size="9" font-weight="bold" text-anchor="middle" fill="#111" font-family='"Liberation Sans", sans-serif' >600</text>
<line x1="299.29" y1="151.3" x2="299.29" y2="153.1" stroke="#222" stroke-width="0.8" />
<line x1="324.86" y1="151.3" x2="324.86" y2="153.1" stroke="#222" stroke-width="0.8" />
<line x1="350.43" y1="151.3" x2="350.43" y2="153.1" stroke="#222" stroke-width="0.8" />
<line x1="376" y1="151.3" x2="376" y2="153.1" stroke="#222" stroke-width="0.8" />
<line x1="401.56" y1="151.3" x2="401.56" y2="153.1" stroke="#222" stroke-width="0.8" />
<line x1="427.13" y1="151.3" x2="427.13" y2="153.1" stroke="#222" stroke-width="0.8" />
<text transform="translate(254.1,152) rotate(-90)" font-size="12.3" font-family='"Liberation Sans", sans-serif' fill="#111"><tspan font-weight="bold">Temperature change </tspan><tspan font-weight="normal">(°C)</tspan></text>
<text x="340" y="181" font-size="12" font-weight="bold" text-anchor="start" fill="#111" font-family='"Liberation Sans", sans-serif' >Time (s)</text>
<circle cx="286.5" cy="143.1" r="1.6" fill="#aaa" stroke="#555" stroke-width="0.7"/>
<circle cx="291.61" cy="143.21" r="1.6" fill="#aaa" stroke="#555" stroke-width="0.7"/>
<circle cx="296.73" cy="143.31" r="1.6" fill="#aaa" stroke="#555" stroke-width="0.7"/>
<line x1="301.84" y1="142.07" x2="301.84" y2="144.52" stroke="#555" stroke-width="0.6" />
<line x1="300.24" y1="142.07" x2="303.44" y2="142.07" stroke="#555" stroke-width="0.6" />
<line x1="300.24" y1="144.52" x2="303.44" y2="144.52" stroke="#555" stroke-width="0.6" />
<circle cx="301.84" cy="143.4" r="1.6" fill="#aaa" stroke="#555" stroke-width="0.7"/>
<line x1="306.96" y1="141.86" x2="306.96" y2="144.88" stroke="#555" stroke-width="0.6" />
<line x1="305.36" y1="141.86" x2="308.56" y2="141.86" stroke="#555" stroke-width="0.6" />
<line x1="305.36" y1="144.88" x2="308.56" y2="144.88" stroke="#555" stroke-width="0.6" />
<circle cx="306.96" cy="143.47" r="1.6" fill="#aaa" stroke="#555" stroke-width="0.7"/>
<line x1="312.07" y1="141.64" x2="312.07" y2="145.24" stroke="#555" stroke-width="0.6" />
<line x1="310.47" y1="141.64" x2="313.67" y2="141.64" stroke="#555" stroke-width="0.6" />
<line x1="310.47" y1="145.24" x2="313.67" y2="145.24" stroke="#555" stroke-width="0.6" />
<circle cx="312.07" cy="143.54" r="1.6" fill="#aaa" stroke="#555" stroke-width="0.7"/>
<line x1="317.18" y1="141.41" x2="317.18" y2="145.58" stroke="#555" stroke-width="0.6" />
<line x1="315.58" y1="141.41" x2="318.78" y2="141.41" stroke="#555" stroke-width="0.6" />
<line x1="315.58" y1="145.58" x2="318.78" y2="145.58" stroke="#555" stroke-width="0.6" />
<circle cx="317.18" cy="143.6" r="1.6" fill="#aaa" stroke="#555" stroke-width="0.7"/>
<line x1="322.3" y1="141.17" x2="322.3" y2="145.92" stroke="#555" stroke-width="0.6" />
<line x1="320.7" y1="141.17" x2="323.9" y2="141.17" stroke="#555" stroke-width="0.6" />
<line x1="320.7" y1="145.92" x2="323.9" y2="145.92" stroke="#555" stroke-width="0.6" />
<circle cx="322.3" cy="143.65" r="1.6" fill="#aaa" stroke="#555" stroke-width="0.7"/>
<line x1="327.41" y1="141.07" x2="327.41" y2="146.11" stroke="#555" stroke-width="0.6" />
<line x1="325.81" y1="141.07" x2="329.01" y2="141.07" stroke="#555" stroke-width="0.6" />
<line x1="325.81" y1="146.11" x2="329.01" y2="146.11" stroke="#555" stroke-width="0.6" />
<circle cx="327.41" cy="143.69" r="1.6" fill="#aaa" stroke="#555" stroke-width="0.7"/>
<line x1="332.53" y1="141.11" x2="332.53" y2="146.15" stroke="#555" stroke-width="0.6" />
<line x1="330.93" y1="141.11" x2="334.13" y2="141.11" stroke="#555" stroke-width="0.6" />
<line x1="330.93" y1="146.15" x2="334.13" y2="146.15" stroke="#555" stroke-width="0.6" />
<circle cx="332.53" cy="143.73" r="1.6" fill="#aaa" stroke="#555" stroke-width="0.7"/>
<line x1="337.64" y1="141.14" x2="337.64" y2="146.18" stroke="#555" stroke-width="0.6" />
<line x1="336.04" y1="141.14" x2="339.24" y2="141.14" stroke="#555" stroke-width="0.6" />
<line x1="336.04" y1="146.18" x2="339.24" y2="146.18" stroke="#555" stroke-width="0.6" />
<circle cx="337.64" cy="143.76" r="1.6" fill="#aaa" stroke="#555" stroke-width="0.7"/>
<line x1="342.75" y1="141.17" x2="342.75" y2="146.21" stroke="#555" stroke-width="0.6" />
<line x1="341.15" y1="141.17" x2="344.35" y2="141.17" stroke="#555" stroke-width="0.6" />
<line x1="341.15" y1="146.21" x2="344.35" y2="146.21" stroke="#555" stroke-width="0.6" />
<circle cx="342.75" cy="143.79" r="1.6" fill="#aaa" stroke="#555" stroke-width="0.7"/>
<line x1="347.87" y1="141.2" x2="347.87" y2="146.24" stroke="#555" stroke-width="0.6" />
<line x1="346.27" y1="141.2" x2="349.47" y2="141.2" stroke="#555" stroke-width="0.6" />
<line x1="346.27" y1="146.24" x2="349.47" y2="146.24" stroke="#555" stroke-width="0.6" />
<circle cx="347.87" cy="143.82" r="1.6" fill="#aaa" stroke="#555" stroke-width="0.7"/>
<line x1="352.98" y1="141.22" x2="352.98" y2="146.26" stroke="#555" stroke-width="0.6" />
<line x1="351.38" y1="141.22" x2="354.58" y2="141.22" stroke="#555" stroke-width="0.6" />
<line x1="351.38" y1="146.26" x2="354.58" y2="146.26" stroke="#555" stroke-width="0.6" />
<circle cx="352.98" cy="143.84" r="1.6" fill="#aaa" stroke="#555" stroke-width="0.7"/>
<line x1="358.1" y1="141.24" x2="358.1" y2="146.28" stroke="#555" stroke-width="0.6" />
<line x1="356.5" y1="141.24" x2="359.7" y2="141.24" stroke="#555" stroke-width="0.6" />
<line x1="356.5" y1="146.28" x2="359.7" y2="146.28" stroke="#555" stroke-width="0.6" />
<circle cx="358.1" cy="143.86" r="1.6" fill="#aaa" stroke="#555" stroke-width="0.7"/>
<line x1="363.21" y1="141.26" x2="363.21" y2="146.3" stroke="#555" stroke-width="0.6" />
<line x1="361.61" y1="141.26" x2="364.81" y2="141.26" stroke="#555" stroke-width="0.6" />
<line x1="361.61" y1="146.3" x2="364.81" y2="146.3" stroke="#555" stroke-width="0.6" />
<circle cx="363.21" cy="143.88" r="1.6" fill="#aaa" stroke="#555" stroke-width="0.7"/>
<line x1="368.32" y1="141.27" x2="368.32" y2="146.31" stroke="#555" stroke-width="0.6" />
<line x1="366.72" y1="141.27" x2="369.92" y2="141.27" stroke="#555" stroke-width="0.6" />
<line x1="366.72" y1="146.31" x2="369.92" y2="146.31" stroke="#555" stroke-width="0.6" />
<circle cx="368.32" cy="143.89" r="1.6" fill="#aaa" stroke="#555" stroke-width="0.7"/>
<line x1="373.44" y1="141.29" x2="373.44" y2="146.33" stroke="#555" stroke-width="0.6" />
<line x1="371.84" y1="141.29" x2="375.04" y2="141.29" stroke="#555" stroke-width="0.6" />
<line x1="371.84" y1="146.33" x2="375.04" y2="146.33" stroke="#555" stroke-width="0.6" />
<circle cx="373.44" cy="143.91" r="1.6" fill="#aaa" stroke="#555" stroke-width="0.7"/>
<line x1="378.55" y1="141.3" x2="378.55" y2="146.34" stroke="#555" stroke-width="0.6" />
<line x1="376.95" y1="141.3" x2="380.15" y2="141.3" stroke="#555" stroke-width="0.6" />
<line x1="376.95" y1="146.34" x2="380.15" y2="146.34" stroke="#555" stroke-width="0.6" />
<circle cx="378.55" cy="143.92" r="1.6" fill="#aaa" stroke="#555" stroke-width="0.7"/>
<line x1="383.67" y1="141.31" x2="383.67" y2="146.35" stroke="#555" stroke-width="0.6" />
<line x1="382.07" y1="141.31" x2="385.27" y2="141.31" stroke="#555" stroke-width="0.6" />
<line x1="382.07" y1="146.35" x2="385.27" y2="146.35" stroke="#555" stroke-width="0.6" />
<circle cx="383.67" cy="143.93" r="1.6" fill="#aaa" stroke="#555" stroke-width="0.7"/>
<line x1="388.78" y1="141.32" x2="388.78" y2="146.36" stroke="#555" stroke-width="0.6" />
<line x1="387.18" y1="141.32" x2="390.38" y2="141.32" stroke="#555" stroke-width="0.6" />
<line x1="387.18" y1="146.36" x2="390.38" y2="146.36" stroke="#555" stroke-width="0.6" />
<circle cx="388.78" cy="143.94" r="1.6" fill="#aaa" stroke="#555" stroke-width="0.7"/>
<line x1="393.89" y1="141.33" x2="393.89" y2="146.37" stroke="#555" stroke-width="0.6" />
<line x1="392.29" y1="141.33" x2="395.49" y2="141.33" stroke="#555" stroke-width="0.6" />
<line x1="392.29" y1="146.37" x2="395.49" y2="146.37" stroke="#555" stroke-width="0.6" />
<circle cx="393.89" cy="143.95" r="1.6" fill="#aaa" stroke="#555" stroke-width="0.7"/>
<line x1="399.01" y1="141.33" x2="399.01" y2="146.37" stroke="#555" stroke-width="0.6" />
<line x1="397.41" y1="141.33" x2="400.61" y2="141.33" stroke="#555" stroke-width="0.6" />
<line x1="397.41" y1="146.37" x2="400.61" y2="146.37" stroke="#555" stroke-width="0.6" />
<circle cx="399.01" cy="143.95" r="1.6" fill="#aaa" stroke="#555" stroke-width="0.7"/>
<line x1="404.12" y1="141.34" x2="404.12" y2="146.38" stroke="#555" stroke-width="0.6" />
<line x1="402.52" y1="141.34" x2="405.72" y2="141.34" stroke="#555" stroke-width="0.6" />
<line x1="402.52" y1="146.38" x2="405.72" y2="146.38" stroke="#555" stroke-width="0.6" />
<circle cx="404.12" cy="143.96" r="1.6" fill="#aaa" stroke="#555" stroke-width="0.7"/>
<line x1="409.24" y1="141.34" x2="409.24" y2="146.38" stroke="#555" stroke-width="0.6" />
<line x1="407.64" y1="141.34" x2="410.84" y2="141.34" stroke="#555" stroke-width="0.6" />
<line x1="407.64" y1="146.38" x2="410.84" y2="146.38" stroke="#555" stroke-width="0.6" />
<circle cx="409.24" cy="143.96" r="1.6" fill="#aaa" stroke="#555" stroke-width="0.7"/>
<line x1="414.35" y1="141.35" x2="414.35" y2="146.39" stroke="#555" stroke-width="0.6" />
<line x1="412.75" y1="141.35" x2="415.95" y2="141.35" stroke="#555" stroke-width="0.6" />
<line x1="412.75" y1="146.39" x2="415.95" y2="146.39" stroke="#555" stroke-width="0.6" />
<circle cx="414.35" cy="143.97" r="1.6" fill="#aaa" stroke="#555" stroke-width="0.7"/>
<line x1="419.46" y1="141.35" x2="419.46" y2="146.39" stroke="#555" stroke-width="0.6" />
<line x1="417.86" y1="141.35" x2="421.06" y2="141.35" stroke="#555" stroke-width="0.6" />
<line x1="417.86" y1="146.39" x2="421.06" y2="146.39" stroke="#555" stroke-width="0.6" />
<circle cx="419.46" cy="143.97" r="1.6" fill="#aaa" stroke="#555" stroke-width="0.7"/>
<line x1="424.58" y1="141.36" x2="424.58" y2="146.4" stroke="#555" stroke-width="0.6" />
<line x1="422.98" y1="141.36" x2="426.18" y2="141.36" stroke="#555" stroke-width="0.6" />
<line x1="422.98" y1="146.4" x2="426.18" y2="146.4" stroke="#555" stroke-width="0.6" />
<circle cx="424.58" cy="143.98" r="1.6" fill="#aaa" stroke="#555" stroke-width="0.7"/>
<line x1="429.69" y1="141.36" x2="429.69" y2="146.4" stroke="#555" stroke-width="0.6" />
<line x1="428.09" y1="141.36" x2="431.29" y2="141.36" stroke="#555" stroke-width="0.6" />
<line x1="428.09" y1="146.4" x2="431.29" y2="146.4" stroke="#555" stroke-width="0.6" />
<circle cx="429.69" cy="143.98" r="1.6" fill="#aaa" stroke="#555" stroke-width="0.7"/>
<line x1="434.81" y1="141.36" x2="434.81" y2="146.4" stroke="#555" stroke-width="0.6" />
<line x1="433.21" y1="141.36" x2="436.41" y2="141.36" stroke="#555" stroke-width="0.6" />
<line x1="433.21" y1="146.4" x2="436.41" y2="146.4" stroke="#555" stroke-width="0.6" />
<circle cx="434.81" cy="143.98" r="1.6" fill="#aaa" stroke="#555" stroke-width="0.7"/>
<line x1="439.92" y1="141.36" x2="439.92" y2="146.4" stroke="#555" stroke-width="0.6" />
<line x1="438.32" y1="141.36" x2="441.52" y2="141.36" stroke="#555" stroke-width="0.6" />
<line x1="438.32" y1="146.4" x2="441.52" y2="146.4" stroke="#555" stroke-width="0.6" />
<circle cx="439.92" cy="143.98" r="1.6" fill="#aaa" stroke="#555" stroke-width="0.7"/>
<circle cx="286.5" cy="142.2" r="1.6" fill="#5555ff" stroke="#2020ee" stroke-width="0.9"/>
<circle cx="291.61" cy="141.33" r="1.6" fill="#5555ff" stroke="#2020ee" stroke-width="0.9"/>
<circle cx="296.73" cy="140.51" r="1.6" fill="#5555ff" stroke="#2020ee" stroke-width="0.9"/>
<circle cx="301.84" cy="139.75" r="1.6" fill="#5555ff" stroke="#2020ee" stroke-width="0.9"/>
<circle cx="306.96" cy="139.04" r="1.6" fill="#5555ff" stroke="#2020ee" stroke-width="0.9"/>
<circle cx="312.07" cy="138.37" r="1.6" fill="#5555ff" stroke="#2020ee" stroke-width="0.9"/>
<circle cx="317.18" cy="137.75" r="1.6" fill="#5555ff" stroke="#2020ee" stroke-width="0.9"/>
<circle cx="322.3" cy="137.17" r="1.6" fill="#5555ff" stroke="#2020ee" stroke-width="0.9"/>
<circle cx="327.41" cy="136.62" r="1.6" fill="#5555ff" stroke="#2020ee" stroke-width="0.9"/>
<circle cx="332.53" cy="136.11" r="1.6" fill="#5555ff" stroke="#2020ee" stroke-width="0.9"/>
<circle cx="337.64" cy="135.63" r="1.6" fill="#5555ff" stroke="#2020ee" stroke-width="0.9"/>
<circle cx="342.75" cy="135.18" r="1.6" fill="#5555ff" stroke="#2020ee" stroke-width="0.9"/>
<circle cx="347.87" cy="134.77" r="1.6" fill="#5555ff" stroke="#2020ee" stroke-width="0.9"/>
<circle cx="352.98" cy="134.37" r="1.6" fill="#5555ff" stroke="#2020ee" stroke-width="0.9"/>
<circle cx="358.1" cy="134.01" r="1.6" fill="#5555ff" stroke="#2020ee" stroke-width="0.9"/>
<circle cx="363.21" cy="133.67" r="1.6" fill="#5555ff" stroke="#2020ee" stroke-width="0.9"/>
<circle cx="368.32" cy="133.35" r="1.6" fill="#5555ff" stroke="#2020ee" stroke-width="0.9"/>
<circle cx="373.44" cy="133.05" r="1.6" fill="#5555ff" stroke="#2020ee" stroke-width="0.9"/>
<circle cx="378.55" cy="132.77" r="1.6" fill="#5555ff" stroke="#2020ee" stroke-width="0.9"/>
<circle cx="383.67" cy="132.5" r="1.6" fill="#5555ff" stroke="#2020ee" stroke-width="0.9"/>
<circle cx="388.78" cy="132.26" r="1.6" fill="#5555ff" stroke="#2020ee" stroke-width="0.9"/>
<circle cx="393.89" cy="132.03" r="1.6" fill="#5555ff" stroke="#2020ee" stroke-width="0.9"/>
<circle cx="399.01" cy="131.81" r="1.6" fill="#5555ff" stroke="#2020ee" stroke-width="0.9"/>
<circle cx="404.12" cy="131.61" r="1.6" fill="#5555ff" stroke="#2020ee" stroke-width="0.9"/>
<circle cx="409.24" cy="131.43" r="1.6" fill="#5555ff" stroke="#2020ee" stroke-width="0.9"/>
<circle cx="414.35" cy="131.25" r="1.6" fill="#5555ff" stroke="#2020ee" stroke-width="0.9"/>
<circle cx="419.46" cy="131.09" r="1.6" fill="#5555ff" stroke="#2020ee" stroke-width="0.9"/>
<circle cx="424.58" cy="130.93" r="1.6" fill="#5555ff" stroke="#2020ee" stroke-width="0.9"/>
<circle cx="429.69" cy="130.79" r="1.6" fill="#5555ff" stroke="#2020ee" stroke-width="0.9"/>
<circle cx="434.81" cy="130.65" r="1.6" fill="#5555ff" stroke="#2020ee" stroke-width="0.9"/>
<circle cx="439.92" cy="130.53" r="1.6" fill="#5555ff" stroke="#2020ee" stroke-width="0.9"/>
<circle cx="281.8" cy="16.5" r="1.5" fill="#fff" stroke="#555" stroke-width="0.8"/>
<circle cx="281.8" cy="28.5" r="1.6" fill="#8080ff" stroke="#2b2bee" stroke-width="1"/>
<text x="295.8" y="19.9" font-size="10" font-weight="bold" text-anchor="start" fill="#111" font-family='"Liberation Sans", sans-serif' >0 W</text>
<text x="295.8" y="32" font-size="10" font-weight="bold" text-anchor="start" fill="#111" font-family='"Liberation Sans", sans-serif' >1 W</text>
<circle cx="430.9" cy="26.4" r="15.8" fill="url(#sph)" stroke="#6a8888" stroke-width="0.8"/>
<text x="456" y="18" font-size="24" font-weight="normal" text-anchor="start" fill="#000" font-family='"Liberation Sans", sans-serif' >c</text>
<rect x="505.8" y="10" width="27.99" height="142.6" fill="#f7e6e6" stroke="none" stroke-width="1" />
<rect x="533.79" y="10" width="15.19" height="142.6" fill="#d9e3f2" stroke="none" stroke-width="1" />
<rect x="548.97" y="10" width="15.19" height="142.6" fill="#f7e6e6" stroke="none" stroke-width="1" />
<rect x="564.16" y="10" width="15.19" height="142.6" fill="#d9e3f2" stroke="none" stroke-width="1" />
<rect x="579.34" y="10" width="15.19" height="142.6" fill="#f7e6e6" stroke="none" stroke-width="1" />
<rect x="594.53" y="10" width="15.19" height="142.6" fill="#d9e3f2" stroke="none" stroke-width="1" />
<rect x="609.72" y="10" width="15.19" height="142.6" fill="#f7e6e6" stroke="none" stroke-width="1" />
<rect x="624.9" y="10" width="15.19" height="142.6" fill="#d9e3f2" stroke="none" stroke-width="1" />
<rect x="640.09" y="10" width="15.19" height="142.6" fill="#f7e6e6" stroke="none" stroke-width="1" />
<rect x="655.27" y="10" width="27.23" height="142.6" fill="#d9e3f2" stroke="none" stroke-width="1" />
<polyline points="518.6,136.32 518.98,129.61 519.36,123.32 519.74,117.43 520.12,111.91 520.5,106.73 520.88,101.89 521.26,97.35 521.64,93.1 522.02,89.11 522.4,85.38 522.78,81.89 523.16,78.61 523.54,75.54 523.92,72.66 524.29,69.97 524.67,67.45 525.05,65.08 525.43,62.87 525.81,60.79 526.19,58.85 526.57,57.03 526.95,55.32 527.33,53.72 527.71,52.22 528.09,50.82 528.47,49.51 528.85,48.27 529.23,47.12 529.61,46.04 529.99,45.03 530.37,44.08 530.75,43.19 531.13,42.36 531.51,41.58 531.89,40.84 532.27,40.16 532.65,39.52 533.03,38.92 533.41,38.35 533.79,37.83 533.79,37.83 534.17,43.72 534.55,49.27 534.92,54.49 535.3,59.41 535.68,64.04 536.06,68.41 536.44,72.52 536.82,76.39 537.2,80.03 537.58,83.47 537.96,86.7 538.34,89.75 538.72,92.61 539.1,95.31 539.48,97.86 539.86,100.25 540.24,102.51 540.62,104.63 541,106.63 541.38,108.52 541.76,110.29 542.14,111.96 542.52,113.54 542.9,115.02 543.28,116.41 543.66,117.73 544.04,118.97 544.42,120.13 544.8,121.23 545.18,122.26 545.56,123.24 545.93,124.15 546.31,125.02 546.69,125.83 547.07,126.6 547.45,127.32 547.83,128 548.21,128.64 548.59,129.24 548.97,129.81 548.97,129.81 549.35,122.96 549.73,116.54 550.11,110.52 550.49,104.89 550.87,99.61 551.25,94.67 551.63,90.03 552.01,85.69 552.39,81.63 552.77,77.82 553.15,74.25 553.53,70.9 553.91,67.77 554.29,64.84 554.67,62.09 555.05,59.51 555.43,57.1 555.81,54.84 556.19,52.72 556.57,50.74 556.94,48.88 557.32,47.13 557.7,45.5 558.08,43.97 558.46,42.54 558.84,41.2 559.22,39.94 559.6,38.76 559.98,37.66 560.36,36.63 560.74,35.66 561.12,34.75 561.5,33.9 561.88,33.11 562.26,32.36 562.64,31.66 563.02,31.01 563.4,30.39 563.78,29.82 564.16,29.28 564.16,29.28 564.54,35.67 564.92,41.68 565.3,47.34 565.68,52.68 566.06,57.7 566.44,62.43 566.82,66.89 567.2,71.08 567.57,75.04 567.95,78.76 568.33,82.26 568.71,85.56 569.09,88.67 569.47,91.6 569.85,94.36 570.23,96.95 570.61,99.4 570.99,101.7 571.37,103.87 571.75,105.91 572.13,107.84 572.51,109.65 572.89,111.35 573.27,112.96 573.65,114.47 574.03,115.9 574.41,117.24 574.79,118.5 575.17,119.69 575.55,120.82 575.93,121.87 576.31,122.87 576.69,123.8 577.07,124.68 577.45,125.51 577.83,126.3 578.21,127.03 578.58,127.73 578.96,128.38 579.34,128.99 579.34,128.99 579.72,122.11 580.1,115.67 580.48,109.63 580.86,103.98 581.24,98.68 581.62,93.71 582,89.06 582.38,84.7 582.76,80.62 583.14,76.79 583.52,73.21 583.9,69.85 584.28,66.71 584.66,63.76 585.04,61 585.42,58.41 585.8,55.99 586.18,53.72 586.56,51.59 586.94,49.6 587.32,47.73 587.7,45.99 588.08,44.35 588.46,42.81 588.84,41.37 589.21,40.03 589.59,38.76 589.97,37.58 590.35,36.47 590.73,35.44 591.11,34.46 591.49,33.55 591.87,32.7 592.25,31.9 592.63,31.15 593.01,30.45 593.39,29.79 593.77,29.18 594.15,28.6 594.53,28.06 594.53,28.06 594.91,34.65 595.29,40.86 595.67,46.71 596.05,52.22 596.43,57.41 596.81,62.29 597.19,66.9 597.57,71.23 597.95,75.31 598.33,79.15 598.71,82.77 599.09,86.18 599.47,89.39 599.85,92.41 600.22,95.26 600.6,97.94 600.98,100.47 601.36,102.85 601.74,105.08 602.12,107.19 602.5,109.18 602.88,111.05 603.26,112.81 603.64,114.47 604.02,116.03 604.4,117.51 604.78,118.89 605.16,120.2 605.54,121.43 605.92,122.58 606.3,123.67 606.68,124.7 607.06,125.67 607.44,126.58 607.82,127.43 608.2,128.24 608.58,129 608.96,129.72 609.34,130.39 609.72,131.03 609.72,131.03 610.1,124.21 610.48,117.81 610.85,111.82 611.23,106.21 611.61,100.95 611.99,96.03 612.37,91.42 612.75,87.09 613.13,83.04 613.51,79.25 613.89,75.69 614.27,72.36 614.65,69.24 615.03,66.32 615.41,63.58 615.79,61.02 616.17,58.61 616.55,56.36 616.93,54.25 617.31,52.28 617.69,50.42 618.07,48.69 618.45,47.06 618.83,45.54 619.21,44.12 619.59,42.78 619.97,41.53 620.35,40.35 620.73,39.26 621.11,38.23 621.49,37.26 621.86,36.36 622.24,35.51 622.62,34.72 623,33.98 623.38,33.28 623.76,32.63 624.14,32.02 624.52,31.44 624.9,30.91 624.9,30.91 625.28,37.5 625.66,43.71 626.04,49.56 626.42,55.07 626.8,60.26 627.18,65.14 627.56,69.74 627.94,74.08 628.32,78.16 628.7,82 629.08,85.62 629.46,89.03 629.84,92.24 630.22,95.26 630.6,98.11 630.98,100.79 631.36,103.32 631.74,105.69 632.12,107.93 632.5,110.04 632.87,112.03 633.25,113.9 633.63,115.66 634.01,117.32 634.39,118.88 634.77,120.35 635.15,121.74 635.53,123.05 635.91,124.27 636.29,125.43 636.67,126.52 637.05,127.55 637.43,128.52 637.81,129.43 638.19,130.28 638.57,131.09 638.95,131.85 639.33,132.57 639.71,133.24 640.09,133.88 640.09,133.88 640.47,126.69 640.85,119.96 641.23,113.66 641.61,107.75 641.99,102.21 642.37,97.03 642.75,92.17 643.13,87.62 643.5,83.36 643.88,79.36 644.26,75.62 644.64,72.11 645.02,68.83 645.4,65.75 645.78,62.87 646.16,60.17 646.54,57.64 646.92,55.27 647.3,53.04 647.68,50.96 648.06,49.01 648.44,47.19 648.82,45.48 649.2,43.87 649.58,42.37 649.96,40.96 650.34,39.65 650.72,38.41 651.1,37.25 651.48,36.17 651.86,35.16 652.24,34.2 652.62,33.31 653,32.48 653.38,31.7 653.76,30.96 654.14,30.28 654.51,29.63 654.89,29.03 655.27,28.46 655.27,28.46 655.65,35.29 656.03,41.73 656.41,47.78 656.79,53.49 657.17,58.86 657.55,63.92 657.93,68.68 658.31,73.17 658.69,77.4 659.07,81.38 659.45,85.13 659.83,88.65 660.21,91.98 660.59,95.11 660.97,98.06 661.35,100.83 661.73,103.45 662.11,105.91 662.49,108.23 662.87,110.42 663.25,112.47 663.63,114.41 664.01,116.23 664.39,117.95 664.77,119.57 665.14,121.09 665.52,122.53 665.9,123.88 666.28,125.15 666.66,126.35 667.04,127.48 667.42,128.54 667.8,129.55 668.18,130.49 668.56,131.38 668.94,132.21 669.32,133 669.7,133.74 670.08,134.44 670.46,135.1" fill="none" stroke="#000" stroke-width="1.5" stroke-linejoin="round"/>
<rect x="505.8" y="10" width="176.7" height="142.6" fill="none" stroke="#222" stroke-width="1.2" />
<line x1="502.8" y1="152.6" x2="505.8" y2="152.6" stroke="#222" stroke-width="1" />
<text x="501" y="155.8" font-size="9" font-weight="bold" text-anchor="end" fill="#111" font-family='"Liberation Sans", sans-serif' >20</text>
<line x1="502.8" y1="111.9" x2="505.8" y2="111.9" stroke="#222" stroke-width="1" />
<text x="501" y="115.1" font-size="9" font-weight="bold" text-anchor="end" fill="#111" font-family='"Liberation Sans", sans-serif' >30</text>
<line x1="502.8" y1="71.2" x2="505.8" y2="71.2" stroke="#222" stroke-width="1" />
<text x="501" y="74.4" font-size="9" font-weight="bold" text-anchor="end" fill="#111" font-family='"Liberation Sans", sans-serif' >40</text>
<line x1="502.8" y1="30.5" x2="505.8" y2="30.5" stroke="#222" stroke-width="1" />
<text x="501" y="33.7" font-size="9" font-weight="bold" text-anchor="end" fill="#111" font-family='"Liberation Sans", sans-serif' >50</text>
<line x1="504" y1="132.25" x2="505.8" y2="132.25" stroke="#222" stroke-width="0.8" />
<line x1="504" y1="91.55" x2="505.8" y2="91.55" stroke="#222" stroke-width="0.8" />
<line x1="504" y1="50.85" x2="505.8" y2="50.85" stroke="#222" stroke-width="0.8" />
<line x1="518.6" y1="152.6" x2="518.6" y2="155.6" stroke="#222" stroke-width="1" />
<text x="518.6" y="164" font-size="9" font-weight="bold" text-anchor="middle" fill="#111" font-family='"Liberation Sans", sans-serif' >0</text>
<line x1="569.22" y1="152.6" x2="569.22" y2="155.6" stroke="#222" stroke-width="1" />
<text x="569.22" y="164" font-size="9" font-weight="bold" text-anchor="middle" fill="#111" font-family='"Liberation Sans", sans-serif' >2000</text>
<line x1="619.84" y1="152.6" x2="619.84" y2="155.6" stroke="#222" stroke-width="1" />
<text x="619.84" y="164" font-size="9" font-weight="bold" text-anchor="middle" fill="#111" font-family='"Liberation Sans", sans-serif' >4000</text>
<line x1="670.46" y1="152.6" x2="670.46" y2="155.6" stroke="#222" stroke-width="1" />
<text x="670.46" y="164" font-size="9" font-weight="bold" text-anchor="middle" fill="#111" font-family='"Liberation Sans", sans-serif' >6000</text>
<line x1="543.91" y1="152.6" x2="543.91" y2="154.4" stroke="#222" stroke-width="0.8" />
<line x1="594.53" y1="152.6" x2="594.53" y2="154.4" stroke="#222" stroke-width="0.8" />
<line x1="645.15" y1="152.6" x2="645.15" y2="154.4" stroke="#222" stroke-width="0.8" />
<text x="519.6" y="19" font-size="9" font-weight="bold" text-anchor="middle" fill="#3cc04a" font-family='"Liberation Sans", sans-serif' >On</text>
<text x="540.5" y="19" font-size="9" font-weight="bold" text-anchor="middle" fill="#ee2222" font-family='"Liberation Sans", sans-serif' >Off</text>
<text x="556.6" y="19" font-size="9" font-weight="bold" text-anchor="middle" fill="#3cc04a" font-family='"Liberation Sans", sans-serif' >On</text>
<text x="571.3" y="19" font-size="9" font-weight="bold" text-anchor="middle" fill="#ee2222" font-family='"Liberation Sans", sans-serif' >Off</text>
<text x="587.1" y="19" font-size="9" font-weight="bold" text-anchor="middle" fill="#3cc04a" font-family='"Liberation Sans", sans-serif' >On</text>
<text x="601.5" y="19" font-size="9" font-weight="bold" text-anchor="middle" fill="#ee2222" font-family='"Liberation Sans", sans-serif' >Off</text>
<text x="617.6" y="19" font-size="9" font-weight="bold" text-anchor="middle" fill="#3cc04a" font-family='"Liberation Sans", sans-serif' >On</text>
<text x="632.1" y="19" font-size="9" font-weight="bold" text-anchor="middle" fill="#ee2222" font-family='"Liberation Sans", sans-serif' >Off</text>
<text x="647.9" y="19" font-size="9" font-weight="bold" text-anchor="middle" fill="#3cc04a" font-family='"Liberation Sans", sans-serif' >On</text>
<text x="669.1" y="19" font-size="9" font-weight="bold" text-anchor="middle" fill="#ee2222" font-family='"Liberation Sans", sans-serif' >Off</text>
<text x="678" y="148.9" font-size="10.5" font-weight="bold" text-anchor="end" fill="#111" font-family='"Liberation Sans", sans-serif' >1 W</text>
<text transform="translate(481,144.9) rotate(-90)" font-size="11.9" font-family='"Liberation Sans", sans-serif' fill="#111"><tspan font-weight="bold">Temperature change </tspan><tspan font-weight="normal">(°C)</tspan></text>
<text x="571.5" y="182.5" font-size="12" font-weight="bold" text-anchor="start" fill="#111" font-family='"Liberation Sans", sans-serif' >Time (s)</text>
<text x="0" y="209.3" font-size="24" font-weight="normal" text-anchor="start" fill="#000" font-family='"Liberation Sans", sans-serif' >d</text>
<rect x="17" y="190.8" width="44.2" height="109.6" fill="url(#bgr1)" stroke="none" stroke-width="1" />
<text x="39.1" y="204.9" font-size="10.2" font-weight="bold" text-anchor="middle" fill="#fff" font-family='"Liberation Sans", sans-serif' >0 min</text>
<rect x="64.5" y="190.8" width="44.2" height="109.6" fill="url(#bgr1)" stroke="none" stroke-width="1" />
<clipPath id="cl1_1"><rect x="64.5" y="190.8" width="44.2" height="109.6"/></clipPath>
<g clip-path="url(#cl1_1)">
<path d="M77.2,228 L103.2,228 L101.45,245.4 L100.95,261.4 Q98.8,267.82 93.2,274 L87.2,274 Q81.6,267.82 79.45,261.4 L78.95,245.4 Z" fill="url(#tg1_1)" filter="url(#fb_tg1_1)"/>
</g>
<text x="86.6" y="204.9" font-size="10.2" font-weight="bold" text-anchor="middle" fill="#fff" font-family='"Liberation Sans", sans-serif' >1 min</text>
<rect x="111.6" y="190.8" width="44.2" height="109.6" fill="url(#bgr2)" stroke="none" stroke-width="1" />
<clipPath id="cl1_2"><rect x="111.6" y="190.8" width="44.2" height="109.6"/></clipPath>
<g clip-path="url(#cl1_2)">
<path d="M124.7,224 L150.7,224 L148.95,246.5 L148.45,262.5 Q146.3,279.35 140.7,290 L134.7,290 Q129.1,279.35 126.95,262.5 L126.45,246.5 Z" fill="url(#tg1_2)" filter="url(#fb_tg1_2)"/>
</g>
<text x="133.7" y="204.9" font-size="10.2" font-weight="bold" text-anchor="middle" fill="#fff" font-family='"Liberation Sans", sans-serif' >2 min</text>
<rect x="158.4" y="190.8" width="44.2" height="109.6" fill="url(#bgr1)" stroke="none" stroke-width="1" />
<clipPath id="cl1_3"><rect x="158.4" y="190.8" width="44.2" height="109.6"/></clipPath>
<g clip-path="url(#cl1_3)">
<path d="M171,211.5 L197,211.5 L195.25,247.8 L194.75,263.8 Q192.6,279.32 187,289.4 L181,289.4 Q175.4,279.32 173.25,263.8 L172.75,247.8 Z" fill="url(#tg1_3)" filter="url(#fb_tg1_3)"/>
</g>
<text x="180.5" y="204.9" font-size="10.2" font-weight="bold" text-anchor="middle" fill="#fff" font-family='"Liberation Sans", sans-serif' >3 min</text>
<rect x="205.4" y="190.8" width="44.2" height="109.6" fill="url(#bgr2)" stroke="none" stroke-width="1" />
<clipPath id="cl1_4"><rect x="205.4" y="190.8" width="44.2" height="109.6"/></clipPath>
<g clip-path="url(#cl1_4)">
<path d="M217.2,208.8 L243.2,208.8 L241.45,246.5 L240.95,262.5 Q238.8,279.84 233.2,290.7 L227.2,290.7 Q221.6,279.84 219.45,262.5 L218.95,246.5 Z" fill="url(#tg1_4)" filter="url(#fb_tg1_4)"/>
</g>
<text x="227.5" y="204.9" font-size="10.2" font-weight="bold" text-anchor="middle" fill="#fff" font-family='"Liberation Sans", sans-serif' >4 min</text>
<rect x="252.1" y="190.8" width="44.2" height="109.6" fill="url(#bgr1)" stroke="none" stroke-width="1" />
<clipPath id="cl1_5"><rect x="252.1" y="190.8" width="44.2" height="109.6"/></clipPath>
<g clip-path="url(#cl1_5)">
<path d="M262.4,210.4 L288.4,210.4 L286.65,246 L286.15,262 Q284,281.3 278.4,293 L272.4,293 Q266.8,281.3 264.65,262 L264.15,246 Z" fill="url(#tg1_5)" filter="url(#fb_tg1_5)"/>
</g>
<text x="274.2" y="204.9" font-size="10.2" font-weight="bold" text-anchor="middle" fill="#fff" font-family='"Liberation Sans", sans-serif' >5 min</text>
<rect x="17" y="304.6" width="44.2" height="109.6" fill="url(#bgr2)" stroke="none" stroke-width="1" />
<clipPath id="cl2_0"><rect x="17" y="304.6" width="44.2" height="109.6"/></clipPath>
<g clip-path="url(#cl2_0)">
<path d="M32.1,326 L58.1,326 L55.85,363.2 L55.35,379.2 Q53.3,397.17 48.1,408.3 L42.1,408.3 Q36.9,397.17 34.85,379.2 L34.35,363.2 Z" fill="url(#tg2_0)" filter="url(#fb_tg2_0)"/>
</g>
<text x="39.1" y="318" font-size="10.2" font-weight="bold" text-anchor="middle" fill="#fff" font-family='"Liberation Sans", sans-serif' >6 min</text>
<rect x="64.5" y="304.6" width="44.2" height="109.6" fill="url(#bgr2)" stroke="none" stroke-width="1" />
<clipPath id="cl2_1"><rect x="64.5" y="304.6" width="44.2" height="109.6"/></clipPath>
<g clip-path="url(#cl2_1)">
<path d="M78.5,326 L104.5,326 L102.25,361.9 L101.75,377.9 Q99.7,396.92 94.5,408.5 L88.5,408.5 Q83.3,396.92 81.25,377.9 L80.75,361.9 Z" fill="url(#tg2_1)" filter="url(#fb_tg2_1)"/>
</g>
<text x="86.6" y="318" font-size="10.2" font-weight="bold" text-anchor="middle" fill="#fff" font-family='"Liberation Sans", sans-serif' >7 min</text>
<rect x="111.6" y="304.6" width="44.2" height="109.6" fill="url(#bgr2)" stroke="none" stroke-width="1" />
<clipPath id="cl2_2"><rect x="111.6" y="304.6" width="44.2" height="109.6"/></clipPath>
<g clip-path="url(#cl2_2)">
<path d="M125.7,326 L151.7,326 L149.45,363.2 L148.95,379.2 Q146.9,397.66 141.7,409 L135.7,409 Q130.5,397.66 128.45,379.2 L127.95,363.2 Z" fill="url(#tg2_2)" filter="url(#fb_tg2_2)"/>
</g>
<text x="133.7" y="318" font-size="10.2" font-weight="bold" text-anchor="middle" fill="#fff" font-family='"Liberation Sans", sans-serif' >8 min</text>
<rect x="158.4" y="304.6" width="44.2" height="109.6" fill="url(#bgr2)" stroke="none" stroke-width="1" />
<clipPath id="cl2_3"><rect x="158.4" y="304.6" width="44.2" height="109.6"/></clipPath>
<g clip-path="url(#cl2_3)">
<path d="M170.5,326 L196.5,326 L194.25,364.6 L193.75,380.6 Q191.7,398.08 186.5,409 L180.5,409 Q175.3,398.08 173.25,380.6 L172.75,364.6 Z" fill="url(#tg2_3)" filter="url(#fb_tg2_3)"/>
</g>
<text x="180.5" y="318" font-size="10.2" font-weight="bold" text-anchor="middle" fill="#fff" font-family='"Liberation Sans", sans-serif' >9 min</text>
<rect x="205.4" y="304.6" width="44.2" height="109.6" fill="url(#bgr2)" stroke="none" stroke-width="1" />
<clipPath id="cl2_4"><rect x="205.4" y="304.6" width="44.2" height="109.6"/></clipPath>
<g clip-path="url(#cl2_4)">
<path d="M216.2,325.7 L242.2,325.7 L239.95,363 L239.45,379 Q237.4,397.6 232.2,409 L226.2,409 Q221,397.6 218.95,379 L218.45,363 Z" fill="url(#tg2_4)" filter="url(#fb_tg2_4)"/>
</g>
<text x="227.5" y="318" font-size="10.2" font-weight="bold" text-anchor="middle" fill="#fff" font-family='"Liberation Sans", sans-serif' >10 min</text>
<rect x="251.7" y="304.6" width="44.6" height="109.6" fill="#000" stroke="none" stroke-width="1" />
<rect x="267.4" y="321.5" width="12.4" height="78" fill="url(#cbar)" stroke="#3a5060" stroke-width="0.6" />
<text x="259" y="317.6" font-size="10.2" font-weight="bold" text-anchor="start" fill="#fff" font-family='"Liberation Sans", sans-serif' >70.0</text>
<text x="282.6" y="317.6" font-size="9.5" font-weight="normal" text-anchor="start" fill="#fff" font-family='"Liberation Sans", sans-serif' letter-spacing="-0.8">°C</text>
<text x="274" y="410.6" font-size="10.2" font-weight="bold" text-anchor="middle" fill="#fff" font-family='"Liberation Sans", sans-serif' >20.0</text>
<rect x="300.4" y="190.6" width="381.9" height="450.6" fill="#fff" stroke="#7a7a7a" stroke-width="1.2" />
<text x="304.5" y="209" font-size="23" font-weight="normal" text-anchor="start" fill="#000" font-family='"Liberation Sans", sans-serif' >e</text>
<path d="M320.1,286.3 L519.3,286.3 L523.3,291.8 L324.1,291.8 Z" fill="#6a6a6a" filter="url(#blur2)" opacity="0.6"/>
<path d="M353,206.8 L479.6,206.8 L518.3,286.3 L315.1,286.3 Z" fill="url(#trap)" stroke="#c8f4ff" stroke-width="1.1" stroke-linejoin="round"/>
<line x1="416.5" y1="208.3" x2="416.5" y2="284.8" stroke="#808080" stroke-width="0.6" stroke-dasharray="1.1,0.9"/>
<line x1="337.6" y1="246.4" x2="494.1" y2="246.4" stroke="#808080" stroke-width="0.6" stroke-dasharray="1.1,0.9"/>
<circle cx="399.7" cy="239.7" r="8.3" fill="url(#sphe)" stroke="#6f7f7f" stroke-width="0.7"/>
<circle cx="394.6" cy="232.8" r="2.2" fill="#5aa8e0"/>
<circle cx="415.8" cy="245.4" r="8.3" fill="url(#sphe)" stroke="#6f7f7f" stroke-width="0.7"/>
<circle cx="410.8" cy="252.8" r="2.2" fill="#5aa8e0"/>
<circle cx="431.6" cy="252.8" r="8.3" fill="url(#sphe)" stroke="#6f7f7f" stroke-width="0.7"/>
<circle cx="438.2" cy="247.2" r="2.2" fill="#5aa8e0"/>
<text x="457.5" y="218" font-size="9.8" font-weight="bold" text-anchor="middle" fill="#111" font-family='"Liberation Sans", sans-serif' >808 nm</text>
<text x="457.3" y="229.7" font-size="9.8" font-weight="bold" text-anchor="middle" fill="#111" font-family='"Liberation Sans", sans-serif' >laser (0 W)</text>
<text x="370.5" y="280" font-size="9.6" font-weight="bold" text-anchor="middle" fill="#111" font-family='"Liberation Sans", sans-serif' >Brownian motion</text>
<path d="M316.8,397.5 L522.6,397.5 L526.6,403 L320.8,403 Z" fill="#6a6a6a" filter="url(#blur2)" opacity="0.6"/>
<path d="M350.4,314.2 L481.3,314.2 L521.6,397.5 L311.8,397.5 Z" fill="url(#trap)" stroke="#c8f4ff" stroke-width="1.1" stroke-linejoin="round"/>
<line x1="416.5" y1="315.7" x2="416.5" y2="396" stroke="#808080" stroke-width="0.6" stroke-dasharray="1.1,0.9"/>
<line x1="334" y1="355.5" x2="497" y2="355.5" stroke="#808080" stroke-width="0.6" stroke-dasharray="1.1,0.9"/>
<path d="M446,314.5 L453.5,318.5 L431.5,360.5 L412.5,344 Z" fill="#dc3c55" opacity="0.55" filter="url(#blur1)"/>
<circle cx="337.3" cy="381.9" r="8.3" fill="url(#sphe)" stroke="#6f7f7f" stroke-width="0.7"/>
<path d="M345.25,378.67 A3.9,3.9 0 1 1 344.73,386.19" fill="none" stroke="#f01a1a" stroke-width="1.6"/>
<circle cx="346" cy="382.5" r="2.6" fill="#84b8dc" stroke="#9aa0b0" stroke-width="0.3"/>
<circle cx="384.3" cy="370.9" r="8.3" fill="url(#sphe)" stroke="#6f7f7f" stroke-width="0.7"/>
<path d="M390.68,365.8 A3.9,3.9 0 1 1 392.14,373.19" fill="none" stroke="#f01a1a" stroke-width="1.6"/>
<circle cx="392.4" cy="369.3" r="2.6" fill="#84b8dc" stroke="#9aa0b0" stroke-width="0.3"/>
<circle cx="414.3" cy="357.4" r="8.3" fill="url(#sphe)" stroke="#6f7f7f" stroke-width="0.7"/>
<path d="M417.29,349.44 A3.9,3.9 0 1 1 422.44,354.94" fill="none" stroke="#f01a1a" stroke-width="1.6"/>
<circle cx="420.6" cy="351.5" r="2.6" fill="#84b8dc" stroke="#9aa0b0" stroke-width="0.3"/>
<text x="458.7" y="326" font-size="9.8" font-weight="bold" text-anchor="middle" fill="#111" font-family='"Liberation Sans", sans-serif' >808 nm</text>
<text x="458.8" y="337.6" font-size="9.8" font-weight="bold" text-anchor="middle" fill="#111" font-family='"Liberation Sans", sans-serif' >laser (1 W)</text>
<text x="370" y="391.7" font-size="9.8" font-weight="bold" text-anchor="middle" fill="#111" font-family='"Liberation Sans", sans-serif' >Flying</text>
<path d="M315.1,510.1 L523.3,510.1 L527.3,515.6 L319.1,515.6 Z" fill="#6a6a6a" filter="url(#blur2)" opacity="0.6"/>
<path d="M348.7,426.9 L482,426.9 L522.3,510.1 L310.1,510.1 Z" fill="url(#trap)" stroke="#c8f4ff" stroke-width="1.1" stroke-linejoin="round"/>
<line x1="415.8" y1="428.4" x2="415.8" y2="508.6" stroke="#808080" stroke-width="0.6" stroke-dasharray="1.1,0.9"/>
<line x1="333" y1="468.2" x2="497" y2="468.2" stroke="#808080" stroke-width="0.6" stroke-dasharray="1.1,0.9"/>
<path d="M372.5,433 L380,430 L419.5,455 L399.5,472.5 Z" fill="#dc3c55" opacity="0.55" filter="url(#blur1)"/>
<circle cx="418.3" cy="469" r="8.3" fill="url(#sphe)" stroke="#6f7f7f" stroke-width="0.7"/>
<path d="M409.46,468.16 A3.9,3.9 0 1 1 413.28,461.67" fill="none" stroke="#f01a1a" stroke-width="1.6"/>
<circle cx="410.5" cy="464.4" r="2.6" fill="#84b8dc" stroke="#9aa0b0" stroke-width="0.3"/>
<circle cx="447.9" cy="487.7" r="8.3" fill="url(#sphe)" stroke="#6f7f7f" stroke-width="0.7"/>
<path d="M439.6,489.99 A3.9,3.9 0 1 1 440.98,482.58" fill="none" stroke="#f01a1a" stroke-width="1.6"/>
<circle cx="439.3" cy="486.1" r="2.6" fill="#84b8dc" stroke="#9aa0b0" stroke-width="0.3"/>
<circle cx="491.4" cy="489.4" r="8.3" fill="url(#sphe)" stroke="#6f7f7f" stroke-width="0.7"/>
<path d="M483.51,493.17 A3.9,3.9 0 1 1 483.51,485.63" fill="none" stroke="#f01a1a" stroke-width="1.6"/>
<circle cx="482.5" cy="489.4" r="2.6" fill="#84b8dc" stroke="#9aa0b0" stroke-width="0.3"/>
<text x="369.7" y="438.2" font-size="9.8" font-weight="bold" text-anchor="middle" fill="#111" font-family='"Liberation Sans", sans-serif' >808 nm</text>
<text x="369.8" y="449.9" font-size="9.8" font-weight="bold" text-anchor="middle" fill="#111" font-family='"Liberation Sans", sans-serif' >laser (1 W)</text>
<text x="468.8" y="504.6" font-size="9.8" font-weight="bold" text-anchor="middle" fill="#111" font-family='"Liberation Sans", sans-serif' >Flying</text>
<path d="M315.1,614.1 L524.3,614.1 L528.3,619.6 L319.1,619.6 Z" fill="#6a6a6a" filter="url(#blur2)" opacity="0.6"/>
<path d="M349.7,530.1 L482.3,530.1 L523.3,614.1 L310.1,614.1 Z" fill="url(#trap)" stroke="#c8f4ff" stroke-width="1.1" stroke-linejoin="round"/>
<line x1="416.5" y1="531.6" x2="416.5" y2="612.6" stroke="#808080" stroke-width="0.6" stroke-dasharray="1.1,0.9"/>
<line x1="333" y1="572.1" x2="498" y2="572.1" stroke="#808080" stroke-width="0.6" stroke-dasharray="1.1,0.9"/>
<path d="M427.6,563.5 L459.5,591 L455.5,596 L411.2,580 Z" fill="#dc3c55" opacity="0.55" filter="url(#blur1)"/>
<circle cx="359.9" cy="543.7" r="8.5" fill="url(#sphe)" stroke="#6f7f7f" stroke-width="0.7"/>
<path d="M367.99,540.56 A3.9,3.9 0 1 1 367.4,548.08" fill="none" stroke="#f01a1a" stroke-width="1.6"/>
<circle cx="368.7" cy="544.4" r="2.6" fill="#84b8dc" stroke="#9aa0b0" stroke-width="0.3"/>
<circle cx="386.7" cy="554.2" r="8.3" fill="url(#sphe)" stroke="#6f7f7f" stroke-width="0.7"/>
<path d="M395.57,552.6 A3.9,3.9 0 1 1 393.68,559.89" fill="none" stroke="#f01a1a" stroke-width="1.6"/>
<circle cx="395.6" cy="556.5" r="2.6" fill="#84b8dc" stroke="#9aa0b0" stroke-width="0.3"/>
<circle cx="413.6" cy="565.9" r="8.3" fill="url(#sphe)" stroke="#6f7f7f" stroke-width="0.7"/>
<path d="M422.02,569.63 A3.9,3.9 0 1 1 416.42,574.67" fill="none" stroke="#f01a1a" stroke-width="1.6"/>
<circle cx="419.9" cy="572.9" r="2.6" fill="#84b8dc" stroke="#9aa0b0" stroke-width="0.3"/>
<text x="355.2" y="568.2" font-size="9.8" font-weight="bold" text-anchor="middle" fill="#111" font-family='"Liberation Sans", sans-serif' >Flying</text>
<text x="480.6" y="595.1" font-size="9.8" font-weight="bold" text-anchor="middle" fill="#111" font-family='"Liberation Sans", sans-serif' >808 nm</text>
<text x="480.5" y="606.8" font-size="9.8" font-weight="bold" text-anchor="middle" fill="#111" font-family='"Liberation Sans", sans-serif' >laser (1 W)</text>
<rect x="559.1" y="197.5" width="114.4" height="92" fill="#fff" stroke="#333" stroke-width="1" />
<line x1="575.04" y1="289.5" x2="575.04" y2="291.7" stroke="#222" stroke-width="0.7" />
<text x="575.04" y="298.3" font-size="6.8" font-weight="bold" text-anchor="middle" fill="#222" font-family='"Liberation Sans", sans-serif' >-200</text>
<line x1="556.9" y1="276.5" x2="559.1" y2="276.5" stroke="#222" stroke-width="0.7" />
<text x="555.8" y="278.9" font-size="6.8" font-weight="bold" text-anchor="end" fill="#222" font-family='"Liberation Sans", sans-serif' >-200</text>
<line x1="616" y1="289.5" x2="616" y2="291.7" stroke="#222" stroke-width="0.7" />
<text x="616" y="298.3" font-size="6.8" font-weight="bold" text-anchor="middle" fill="#222" font-family='"Liberation Sans", sans-serif' >0</text>
<line x1="556.9" y1="242.9" x2="559.1" y2="242.9" stroke="#222" stroke-width="0.7" />
<text x="555.8" y="245.3" font-size="6.8" font-weight="bold" text-anchor="end" fill="#222" font-family='"Liberation Sans", sans-serif' >0</text>
<line x1="656.96" y1="289.5" x2="656.96" y2="291.7" stroke="#222" stroke-width="0.7" />
<text x="656.96" y="298.3" font-size="6.8" font-weight="bold" text-anchor="middle" fill="#222" font-family='"Liberation Sans", sans-serif' >200</text>
<line x1="556.9" y1="209.3" x2="559.1" y2="209.3" stroke="#222" stroke-width="0.7" />
<text x="555.8" y="211.7" font-size="6.8" font-weight="bold" text-anchor="end" fill="#222" font-family='"Liberation Sans", sans-serif' >200</text>
<line x1="595.52" y1="289.5" x2="595.52" y2="290.8" stroke="#222" stroke-width="0.6" />
<line x1="557.8" y1="259.7" x2="559.1" y2="259.7" stroke="#222" stroke-width="0.6" />
<line x1="636.48" y1="289.5" x2="636.48" y2="290.8" stroke="#222" stroke-width="0.6" />
<line x1="557.8" y1="226.1" x2="559.1" y2="226.1" stroke="#222" stroke-width="0.6" />
<line x1="616" y1="216.02" x2="616" y2="234.84" stroke="#7a7a7a" stroke-width="1.1" stroke-dasharray="3.2,1.8"/>
<line x1="616" y1="250.96" x2="616" y2="269.78" stroke="#7a7a7a" stroke-width="1.1" stroke-dasharray="3.2,1.8"/>
<line x1="587.74" y1="242.9" x2="605.35" y2="242.9" stroke="#7a7a7a" stroke-width="1.1" stroke-dasharray="3.2,1.8"/>
<line x1="626.65" y1="242.9" x2="644.26" y2="242.9" stroke="#7a7a7a" stroke-width="1.1" stroke-dasharray="3.2,1.8"/>
<polyline points="616,242.9 616.26,243.19 615.98,243.29 614.74,243.41 614.21,241.74 614.34,241.91 614.17,242.25 613.52,242.45 613.82,242.57 614.41,242.67 614.42,241.89 614.76,242.14 614.65,241.87 615.83,242.01 615.69,241.5 615.14,241.65 615.68,241.36 615.74,241.02 614,240.51 613.41,241.35 613.58,240.99 613.31,241.54 613.32,241.56 614.19,241.19 614.31,240.63 614.18,241.09 614.54,240.8 614.41,241.19 614.55,242.45 614.97,242.2" fill="none" stroke="#e6194b" stroke-width="0.55" stroke-linejoin="round" opacity="0.95"/>
<polyline points="616,242.9 615.41,242.52 614.16,242.98 614.59,242.4 613.27,242.65 613.47,242.95 614.45,243.55 614.66,244.08 615.53,244.09 615.3,244.96 616.33,244.58 616.8,244.01 617.01,244.33 616.52,244.73 617.36,245.47 616.99,245.63 617.13,245.34 616.36,246.21 616.36,245.6 616.83,245.49 616.63,245.34 616.48,244.93 615.99,244.86 615.93,244.59 616.06,243.31 616.99,242.55 615.73,242.72 615.36,242.45 613.96,241.86 614.61,242.52" fill="none" stroke="#3cb44b" stroke-width="0.55" stroke-linejoin="round" opacity="0.95"/>
<polyline points="616,242.9 616.03,242.58 617.28,242.68 617.76,242.6 618.84,242.22 619.68,242.77 619.56,243.18 620.49,242.85 620.3,243.07 620.6,243.43 620.02,243.18 621.54,243.31 621.2,243.9 620.38,243.63 620.9,243.63 621.1,243.57 621.19,244.34 620.91,244.28 620.42,244.52 619.92,244.69 620.45,244.9 620.35,244.49 620.75,243.63 619.46,243.2 619.17,243.13 619.68,242.59 620.32,242.51 621.31,242.65 621.22,242.25 620.88,241.16" fill="none" stroke="#4363d8" stroke-width="0.55" stroke-linejoin="round" opacity="0.95"/>
<polyline points="616,242.9 615.98,243.09 616.09,242.72 615.73,242.53 615.72,241.72 615.31,241.19 614.91,241.67 614.48,242.27 614.57,241.75 614.67,241.44 615.67,241.3 615.79,241.44 614.8,241.06 613.72,240.73 613.71,240.16 613.67,240.58 613.89,240.86 613.78,240.84 613.7,240.93 613.19,241.03 611.87,241.11 611.14,240.54 611.92,241.53 612.01,241.59 611.36,241.32 611.08,242.21 610.92,242.29 610.98,242.91 611.36,242.54 610.65,242.87" fill="none" stroke="#f58231" stroke-width="0.55" stroke-linejoin="round" opacity="0.95"/>
<polyline points="616,242.9 617.07,242.79 616.45,243.19 616.42,242.04 616.31,241.97 616.62,241.99 618.02,242.26 618.48,242.18 618.86,242.77 619.95,242.83 619.97,243.3 619.52,243.02 620.13,242.64 620.87,242.28 620.89,241.86 621.25,241.91 621.7,241.26 621.84,241.44 622.28,240.48 622.15,240.53 622.07,239.91 620.94,239.73 621.67,240.14 622.59,239.87 622.25,239.77 621.31,240.05 622.43,240.5 623.56,240.54 624.18,240.52 622.8,240.81" fill="none" stroke="#911eb4" stroke-width="0.55" stroke-linejoin="round" opacity="0.95"/>
<polyline points="616,242.9 615.17,242.72 614.77,243.57 614.35,243.14 614.06,242.67 615,242.65 614.31,243.3 614.29,242.86 614.46,242.58 614.18,242.43 613.89,242.6 613.1,243.39 612.8,243.95 612.21,243.61 612.15,242.14 612.72,242.46 613.2,242.28 612.77,241.72 612.3,243.27 612.79,243.58 613.7,243.9 612.97,243.12 612.31,243.02 613.2,242.96 613.15,242.91 613.67,243.32 614.04,243.03 615.48,243.2 614.92,242.83 614.67,242.68" fill="none" stroke="#46a0a0" stroke-width="0.55" stroke-linejoin="round" opacity="0.95"/>
<polyline points="616,242.9 615.6,242.95 614.03,243.4 614.97,243.74 614.54,244.35 614.9,244.26 614.17,243.93 614.33,243.55 613.93,242.67 614.19,242.73 613.87,242.85 614.39,242.99 615.06,242.7 615.88,242.29 615.85,243.25 616.03,242.85 616.13,242.57 615.84,242.76 615.26,242.07 615.36,242.32 614.54,242.4 615.43,242.17 614.98,241.45 615.86,240.95 616.34,240.37 616.68,239.98 616.2,239.22 616.34,238.2 615.08,237.85 615.69,238.02" fill="none" stroke="#f032e6" stroke-width="0.55" stroke-linejoin="round" opacity="0.95"/>
<polyline points="616,242.9 616.35,243.17 616.27,242.66 617.05,242.61 617.1,242.51 617.74,243.04 616.92,242.98 616.24,243.27 616.29,243.03 615.64,242.62 614.55,242.35 613.58,242.99 613.97,243.2 613.48,243.42 613.77,243.45 613.75,242.92 613.31,243.15 612.99,242.57 613.6,241.92 613.58,242 614.1,242.19 614.61,241.83 614.18,241.87 614.11,241 615.7,241.05 615.71,242.2 615.84,242.2 615.18,241.81 614.22,241.91 614.3,242.54" fill="none" stroke="#7a9a1a" stroke-width="0.55" stroke-linejoin="round" opacity="0.95"/>
<polyline points="616,242.9 615.15,243.61 615.52,243.62 614.77,243.77 614.71,243.85 615.22,243.65 616.3,242.96 616.72,242.42 617.53,242.06 616.78,241.63 616.82,240.81 616.88,240.55 617.08,239.7 617.19,239.84 617.38,240.06 617.48,240.06 617.65,239.09 617.4,239.07 617.28,238.73 616.55,239.08 616.53,238.81 616.5,239.06 615.97,238.8 616.85,238.64 616.97,238.42 616.39,238.57 616.22,238.42 616.21,239.04 616.9,238.18 616.73,237.98" fill="none" stroke="#e08080" stroke-width="0.55" stroke-linejoin="round" opacity="0.95"/>
<polyline points="616,242.9 615.09,242.09 614.8,241.45 614.85,241.65 614.77,241.19 614.24,241.38 613.94,242.25 614.74,241.96 614.73,241.37 614.14,241.41 615.2,240.91 613.83,242.59 613.19,242.06 612.9,242.17 613.28,242.61 613.41,242.21 613.69,242.01 613.32,241.76 613.06,241.1 614.64,241.47 613.3,241.68 613.54,241.16 614.2,241.55 613.71,240.91 613.04,240.36 612.9,239.98 613.34,239.58 613.84,240.08 614.02,240.08 614.21,239.45" fill="none" stroke="#008080" stroke-width="0.55" stroke-linejoin="round" opacity="0.95"/>
<polyline points="616,242.9 615.55,243.06 616.02,243.47 616.73,243.32 616.59,243.99 616.74,243.64 615.65,243.04 616.67,242.87 616.97,241.66 617.73,242.11 617.72,242.19 617.62,243.38 618.09,243.7 618.19,243.77 618.72,243.92 618.23,243.65 619.1,243.81 619.94,243.68 619.61,242.91 619.11,242.4 618.8,242.17 618.04,242.59 618.7,242.5 618.72,242.72 619,243.42 618.31,243.5 617.8,243.86 617.75,243.93 617.62,243.09 618.24,242.47" fill="none" stroke="#9a6324" stroke-width="0.55" stroke-linejoin="round" opacity="0.95"/>
<polyline points="616,242.9 615.11,243.08 613.83,243.37 614.29,242.55 614.89,242.99 615.19,243.38 615.7,243.44 616.22,242.14 616.79,240.97 616.9,241.13 617.72,240.27 617.38,240.23 616.5,240.33 617.04,240.37 616.69,241.08 616.92,240.68 617.29,240.55 616.5,239.66 616.47,239.73 616.92,240.82 616.88,240.89 617.11,240.21 617.4,241.14 617.19,241.03 617.28,241.68 616.26,241.4 616.47,241.41 615.41,240.52 613.63,240.7 614.91,240.78" fill="none" stroke="#800000" stroke-width="0.55" stroke-linejoin="round" opacity="0.95"/>
<polyline points="616,242.9 616.83,243.55 616.99,243.48 616.35,243.04 615.48,243.38 615.46,243.59 615.75,243.12 615.56,243.4 615.25,243.58 615.74,243.69 616,243.74 615.48,243.3 614.84,243.3 615.75,243.85 615.72,244.65 615.41,245.4 615.18,245.67 615.26,244.87 615.44,244.54 615.41,244.66 614.89,245.57 614.94,244.75 615.23,245.02 616.24,245.24 615.86,245.85 615.27,245.97 616.5,246.08 615.87,246.38 615.73,247.25 615.81,246.89" fill="none" stroke="#308030" stroke-width="0.55" stroke-linejoin="round" opacity="0.95"/>
<polyline points="616,242.9 615.21,243.76 616,243.2 615.05,243.1 615.07,242.83 615.2,243.08 615.32,243 615.29,243.93 613.44,244.33 612.44,244.2 612.88,244.07 612.65,244.04 613.37,244.4 613.94,244.05 614.1,243.32 613.66,242.84 613.09,243.23 612.44,243 611.86,242.98 611.16,242.44 612.29,242.32 613.3,242.04 614.63,241.99 613.67,241.24 613.59,241.76 613.18,242.58 613.08,243.12 613.99,242.79 612.97,243.55 612.62,244.52" fill="none" stroke="#808000" stroke-width="0.55" stroke-linejoin="round" opacity="0.95"/>
<polyline points="616,242.9 615.53,243.18 615.83,242.46 616.75,242.44 617.28,242.81 617.53,243.3 617.98,243.92 617.38,243.93 617.73,244.65 617.4,244.58 617.54,245.01 617.6,245.14 618.46,244.86 617.65,245.97 617.71,245.37 617.81,244.93 617.52,245.62 617.98,245.57 618.4,246.26 618.51,246.58 619,246.87 618.63,247.17 619.41,247.15 618.94,247.67 618.3,246.93 617.18,247.36 617.58,246.76 617.48,246.37 617.95,245.87 617.98,245.04" fill="none" stroke="#000075" stroke-width="0.55" stroke-linejoin="round" opacity="0.95"/>
<polyline points="616,242.9 615.33,242.42 614.58,243.16 614.9,243.56 615.19,244.09 616.2,244.06 615.53,243.95 616.1,244.32 616.44,243.27 617,243.25 616.68,242.93 615.78,244.43 615.41,244.95 616.51,244.85 615.94,245.41 616.29,245.8 615.96,245.82 616.06,245.73 616.17,245.04 617.25,245.84 618.88,245.74 619.69,246.08 619.93,245.94 620.05,245.47 620.48,245.94 620.45,245.53 620.92,245.66 620.79,245.7 620.16,246.32 621.17,246.48" fill="none" stroke="#505050" stroke-width="0.55" stroke-linejoin="round" opacity="0.95"/>
<polyline points="616,242.9 616.84,241.98 616.75,241.68 616.34,240.75 616.95,241.14 617.77,240.92 618.07,240.7 617.7,240.94 618.13,240.92 617.59,239.86 617.51,240.11 617.12,239.73 617.76,239.57 618.34,240.29 618.15,240.49 618.2,240.21 616.98,238.6 616.49,238.4 617.04,237.94 617.22,239.37 616.59,238.96 616.06,239.47 614.64,238.83 614.98,239.26 614.93,239.29 614.26,239.41 614.44,239.12 615.24,239.09 614.97,238.87 614.6,239.49" fill="none" stroke="#20a0e0" stroke-width="0.55" stroke-linejoin="round" opacity="0.95"/>
<polyline points="616,242.9 616.09,242.56 615.42,242.23 615.71,242.27 615.96,242.64 614.62,242.77 614.07,242.33 614.24,242.58 614.28,241.89 614.99,241.7 615.27,241.83 615.2,241.52 615.14,241.36 614.46,242.2 613.43,242.41 614.25,241.81 613.65,242.58 614.15,242.34 613.32,241.8 613.43,241.12 613.65,240.67 613.86,241.14 613.73,241.47 614.24,241.97 613.31,241.62 614.02,240.88 614.7,241.64 614.28,241.91 614.28,242.98 614.28,242.84" fill="none" stroke="#c0a000" stroke-width="0.55" stroke-linejoin="round" opacity="0.95"/>
<polyline points="616,242.9 616.74,242.87 617.4,242.35 617.65,242.16 617.43,241.52 617.15,241.87 617.59,242.23 617.86,241.69 617.92,241.63 618.49,241.25 617.55,241.9 618.38,241.7 617.11,242.37 617.13,242.85 617.43,242.81 617.74,243.39 618.13,242.39 617.66,241.72 618.27,241.38 618.25,241.96 617.72,241.56 618.34,240.93 618.94,240.47 618.69,241.06 618.83,240.8 618.89,241.55 618.59,242.29 618.69,242.8 618.61,242.63 618.71,241.93" fill="none" stroke="#ff6060" stroke-width="0.55" stroke-linejoin="round" opacity="0.95"/>
<polyline points="616,242.9 616.6,242.18 617.49,242.02 617.84,241.95 617.06,242.22 617.39,242.5 618.58,243.26 618.33,242.68 617.97,243.24 617.16,243.59 618.1,243.37 618.44,243.61 618.98,243.54 618.43,243.76 618.58,243.15 618.56,242.88 619.82,243.27 619.08,242.75 619.37,242.79 619.55,242.93 619.89,243.09 620.41,243.66 619.92,243.58 619.66,243.21 619.65,243.47 619.81,243.72 618.87,244.27 618.4,244.49 618.48,244.01 618.85,243.09" fill="none" stroke="#60c060" stroke-width="0.55" stroke-linejoin="round" opacity="0.95"/>
<polyline points="616,242.9 617.04,242.28 616.79,242.1 617.49,241.96 618.14,241.74 618.6,241.87 618.86,242.03 619.31,242.86 619.54,242.21 619.93,242.2 620.29,242.6 619.8,242.76 619.74,242.25 619.22,241.72 618.28,242.09 618.29,241.48 617.94,242.54 618.23,242.53 617.59,243.03 617.19,242.96 617.63,243.68 619.07,243.68 618.86,243.32 618.96,242.12 619.66,242.28 619.45,242.51 619.27,242.15 618.9,241.31 618.87,241.36 619.48,242.34" fill="none" stroke="#6060ff" stroke-width="0.55" stroke-linejoin="round" opacity="0.95"/>
<polyline points="616,242.9 616.03,242.88 616.3,243.17 616.22,243.83 615.1,243.17 614.55,243.51 615.43,242.96 615.14,243.2 615.11,243.67 615.47,243.57 615.58,243.17 616.04,242.23 617,243.07 617.57,243.61 616.72,243.23 616.31,243.37 616.99,243.69 616.47,243.5 617.24,243.22 616.31,243.53 616.24,242.54 616.81,242.09 617.57,242.22 617.89,241.96 617.32,241.95 617.69,242.47 618.21,242.07 618.87,242.44 618.96,241.69 619.47,242.07" fill="none" stroke="#a0a000" stroke-width="0.55" stroke-linejoin="round" opacity="0.95"/>
<polyline points="616,242.9 615.98,242.69 617.58,242.69 617.53,243.18 617.15,242.41 617.09,242.99 616.54,242.97 617.03,243.33 617.48,243.56 617.72,243.29 618.11,243.49 618.02,243.22 617.24,243.13 617.56,242.59 617.55,242.68 617.64,243.05 617.52,242.84 617.7,243.36 617.5,244.42 617.99,244.69 618.14,245.25 618.08,245.03 618.68,245.72 619.19,245.81 618.71,245.57 618.52,245.73 618.08,245.62 618.09,245.72 617.49,245.99 617.73,245.35" fill="none" stroke="#a040a0" stroke-width="0.55" stroke-linejoin="round" opacity="0.95"/>
<polyline points="616,242.9 615.98,243.46 616.36,243.96 616.59,243.43 616.39,243.48 617.89,243.37 618.04,242.99 617.97,243.04 618.19,244.25 619.05,244.8 618.38,244.54 618.38,245.18 618.5,245.76 618.06,246.53 617.55,246.33 617.61,246.19 618.17,246.22 617.75,246.37 618.75,246.36 618.93,246.42 619.07,246.21 619.06,246.3 618.57,246.73 618.8,246.36 619.36,246.35 618.84,246.04 619.21,246.8 619.69,246.52 620.7,247.1 619.9,246.71" fill="none" stroke="#40a0a0" stroke-width="0.55" stroke-linejoin="round" opacity="0.95"/>
<text x="667.5" y="210.8" font-size="10.5" font-weight="bold" text-anchor="end" fill="#111" font-family='"Liberation Sans", sans-serif' >0 W</text>
<text transform="translate(537.6,242.5) rotate(-90)" font-size="8.1" font-weight="bold" text-anchor="middle" font-family='"Liberation Sans", sans-serif' fill="#111">Y-Position</text>
<rect x="559" y="303.2" width="114.6" height="91.6" fill="#fff" stroke="#333" stroke-width="1" />
<line x1="575.34" y1="394.8" x2="575.34" y2="397" stroke="#222" stroke-width="0.7" />
<text x="575.34" y="403.6" font-size="6.8" font-weight="bold" text-anchor="middle" fill="#222" font-family='"Liberation Sans", sans-serif' >-200</text>
<line x1="556.8" y1="383" x2="559" y2="383" stroke="#222" stroke-width="0.7" />
<text x="555.7" y="385.4" font-size="6.8" font-weight="bold" text-anchor="end" fill="#222" font-family='"Liberation Sans", sans-serif' >-200</text>
<line x1="616.3" y1="394.8" x2="616.3" y2="397" stroke="#222" stroke-width="0.7" />
<text x="616.3" y="403.6" font-size="6.8" font-weight="bold" text-anchor="middle" fill="#222" font-family='"Liberation Sans", sans-serif' >0</text>
<line x1="556.8" y1="349.4" x2="559" y2="349.4" stroke="#222" stroke-width="0.7" />
<text x="555.7" y="351.8" font-size="6.8" font-weight="bold" text-anchor="end" fill="#222" font-family='"Liberation Sans", sans-serif' >0</text>
<line x1="657.26" y1="394.8" x2="657.26" y2="397" stroke="#222" stroke-width="0.7" />
<text x="657.26" y="403.6" font-size="6.8" font-weight="bold" text-anchor="middle" fill="#222" font-family='"Liberation Sans", sans-serif' >200</text>
<line x1="556.8" y1="315.8" x2="559" y2="315.8" stroke="#222" stroke-width="0.7" />
<text x="555.7" y="318.2" font-size="6.8" font-weight="bold" text-anchor="end" fill="#222" font-family='"Liberation Sans", sans-serif' >200</text>
<line x1="595.82" y1="394.8" x2="595.82" y2="396.1" stroke="#222" stroke-width="0.6" />
<line x1="557.7" y1="366.2" x2="559" y2="366.2" stroke="#222" stroke-width="0.6" />
<line x1="636.78" y1="394.8" x2="636.78" y2="396.1" stroke="#222" stroke-width="0.6" />
<line x1="557.7" y1="332.6" x2="559" y2="332.6" stroke="#222" stroke-width="0.6" />
<line x1="616.3" y1="322.52" x2="616.3" y2="341.34" stroke="#7a7a7a" stroke-width="1.1" stroke-dasharray="3.2,1.8"/>
<line x1="616.3" y1="357.46" x2="616.3" y2="376.28" stroke="#7a7a7a" stroke-width="1.1" stroke-dasharray="3.2,1.8"/>
<line x1="588.04" y1="349.4" x2="605.65" y2="349.4" stroke="#7a7a7a" stroke-width="1.1" stroke-dasharray="3.2,1.8"/>
<line x1="626.95" y1="349.4" x2="644.56" y2="349.4" stroke="#7a7a7a" stroke-width="1.1" stroke-dasharray="3.2,1.8"/>
<polyline points="614.93,349.55 614.26,350.09 613.22,351.1 612.9,351.59 612.29,353.3 611.19,354.77 610.08,355.45 607.92,356.14 607.4,356.65 606.47,357.95 604.63,359.39 603.38,359.49 602.34,360.28 600.19,360.82 598.67,362.72 596.09,363.71 594.1,363.54 592.78,364.94 591.09,364.8 589.07,365.14 588.03,365.07 587.07,366.09 586.1,366.84 585.45,367.67 585.52,368.52 584.49,369.69 583.23,370.46 582.02,370.72 580.29,372 579.74,372.95" fill="none" stroke="#e6194b" stroke-width="0.55" stroke-linejoin="round" opacity="0.95"/>
<polyline points="616.04,348.93 615.49,350.32 615.47,351.86 614.16,352.87 613.01,353.48 612.6,354.59 612.46,356.07 611.17,356.14 610.1,356.6 608.66,357.83 607.45,358.81 606.07,359.88 605.42,360.25 604.36,360.94 603.88,362.65 601.63,362.78 601.44,363.82 600.56,365.44 598.44,366.33 596.25,366.87 594.63,367.77 594.88,367.75 593.56,368.2 591.69,369.61 590.82,369.88 589.28,370.64 588.22,372.45 586.99,372.65 585.79,373.44 585.25,374.95" fill="none" stroke="#3cb44b" stroke-width="0.55" stroke-linejoin="round" opacity="0.95"/>
<polyline points="615.99,349.73 614.45,351.49 612.9,352.14 612.96,353.75 612.56,355.72 611.34,357.54 609.19,358.74 608.26,360.21 606.9,362.03 605.82,363.62 605,365.56 604.18,366.5 604.08,367.12 603.22,368.76 600.92,370 600.94,370.27 598.13,371.95 596.88,373.81 596.02,375.03 594.66,376.29 592.53,378.1 590.89,378.81 588.73,380.18 588.3,381.45 587.88,383.08 587.2,383.79 587.81,384.6 587.83,385.84 586.91,386.15 586.34,386.56" fill="none" stroke="#4363d8" stroke-width="0.55" stroke-linejoin="round" opacity="0.95"/>
<polyline points="617.64,349.14 616.86,350.24 616.25,351.94 614.6,353.43 613.69,353.92 613.09,354.74 611.55,356.81 610.72,357.76 609.85,357.96 608.61,359.11 605.83,359.82 604.67,361.29 603.83,362.94 602.33,362.82 601.75,363.31 601.17,363.97 600.19,363.66 599.01,364.26 597.74,365.5 594.87,367.67 594.85,367.84 593.42,368.89 592.73,370.52 592.88,372.17 591.23,374.84 591.19,375.84 591.23,377.48 590.34,378.48 589.36,378.3 589.85,378.53" fill="none" stroke="#f58231" stroke-width="0.55" stroke-linejoin="round" opacity="0.95"/>
<polyline points="616.72,349.11 615.17,349.63 615.42,350.87 614.58,351.04 612.7,351.79 610.58,352.8 608.67,353.99 607.41,354.82 606.36,356.9 606.59,357.73 604.9,358.77 604.22,360.02 603.01,360.97 602.49,362.07 601.9,362.54 600.89,362.48 599.99,363.84 599.3,364.43 598.36,364.96 599.13,365.49 598.55,366.31 598.58,367.01 597.1,368.39 596.57,368.62 594.52,369.72 594.07,369.78 592.21,370.69 591.9,371.67 590.67,372.66 588.82,373.3" fill="none" stroke="#911eb4" stroke-width="0.55" stroke-linejoin="round" opacity="0.95"/>
<polyline points="616.45,348.84 614.98,349.21 613.34,349.28 611.95,350.88 610.23,352.3 608.8,353.88 607.49,354.67 607.05,356.04 606.86,357.8 605.05,359.64 604.41,361.73 602.33,362.16 602.48,362.54 600.34,363.72 599.86,364.84 597.62,366.22 595.33,368.12 595.79,368.9 593.66,370.96 592.91,372.5 592.24,374.06 591.02,375.1 589.2,377.41 587.27,379 586.04,380.22 584.91,381.1 583.19,381.46 583.54,382.42 582.59,382.87 581.97,383.95" fill="none" stroke="#46a0a0" stroke-width="0.55" stroke-linejoin="round" opacity="0.95"/>
<polyline points="617.14,350.03 615.57,350.91 613.75,352.37 611.95,354.54 610.39,355.72 610.4,356.18 608.63,357.2 608.35,357.26 606.96,358.35 604.41,359.55 602.77,361 602.49,363.11 600.88,363.88 599.68,363.9 597.16,365.35 595.71,366.28 593.91,367.74 593.17,369.37 591.24,369.54 590.96,370.04 588.83,371.55 586.67,373.23 584.85,373.49 583.49,374.95 581.42,376.65 580.76,378.85 579.44,380.71 577.16,382.6 576.33,383.67 576.77,385.29" fill="none" stroke="#f032e6" stroke-width="0.55" stroke-linejoin="round" opacity="0.95"/>
<polyline points="614.83,348.57 614.02,349.18 612.38,349.64 610.76,350.46 609.41,350.56 607.85,351.61 607.42,352.33 606.18,353.32 605.64,354.55 604.75,354.2 603.81,355.52 601.71,356.28 599.6,358.07 597.83,359.57 597.22,361.28 597.12,362.58 595.97,363.04 594.9,363.48 592.95,365.67 591.57,367.52 589.91,367.83 588.52,369.04 586.47,370.08 585.1,371.87 584.07,373.37 582.98,374.5 582.44,374.87 581.2,375.8 580.26,375.85 579.78,376.62" fill="none" stroke="#7a9a1a" stroke-width="0.55" stroke-linejoin="round" opacity="0.95"/>
<polyline points="615.61,348.63 614.07,349.82 612.1,350.93 611.48,351.05 609.39,352.42 611.02,352.97 609.84,353.77 606.76,353.92 605.71,355.86 605.39,357.33 603.49,358.12 602.61,359.48 601.4,361.37 599.2,361.93 598.99,362.77 598.1,364.09 596.85,365.74 596.95,367.17 596.09,368.26 593.92,368.21 592.5,369.76 591.42,371.38 590.28,373.03 589.53,374.09 587.39,374.58 586.37,376.32 585.47,377.16 585.65,378.75 585.11,379.9 584.4,381.14" fill="none" stroke="#e08080" stroke-width="0.55" stroke-linejoin="round" opacity="0.95"/>
<polyline points="616.3,349.66 615.44,350.28 614.36,350.57 613.41,351.5 613.08,352.15 612.1,353.07 610.65,354.42 609.81,354.93 608.58,355.43 609.07,355.15 608.18,355.51 607.71,356.03 607.41,356.7 607.1,357.57 606.02,358.39 605.48,358.65 604.85,359.19 604.98,360.71 603.9,361.37 603.02,362.94 602.84,363.96 601.22,363.81 599.41,364.8 598.03,365.71 597.54,367.17 596.56,368.23 594.94,368.52 594.17,369.67 592.79,370.85 591.99,372.1" fill="none" stroke="#008080" stroke-width="0.55" stroke-linejoin="round" opacity="0.95"/>
<polyline points="615.01,349.41 613.3,350.42 612.36,350.99 611.79,351.6 610.94,352.31 610.07,354.01 607.94,356.06 607.05,358.81 605.94,360.6 605.24,361.83 603.47,363.17 600.6,364.35 599.71,366.78 599.09,368.19 597.98,370.37 597.19,371.37 595.94,373.3 595.26,373.9 594.32,374.65 592.68,375.9 591.72,377.15 592.53,378.24 590.91,379.08 588.92,380.19 588.26,381.8 586.83,383.67 585.72,385.39 585.76,386.33 584.4,388.48 584.67,389.02" fill="none" stroke="#9a6324" stroke-width="0.55" stroke-linejoin="round" opacity="0.95"/>
<polyline points="617.72,349.22 615.68,350.62 612.81,351.24 612.34,351.21 612.83,352.68 612.14,353.11 611.69,354.42 611.25,355.15 611.21,356.18 610.02,357.5 608.73,358.97 607.46,359.69 606.77,359.93 606.52,360.59 604.67,361.28 604.47,363.07 602.64,364.66 600.86,365.86 599.14,366.67 597.23,367.78 595.83,369.39 595.52,370.41 594.86,371.65 594.32,372.33 593.16,374.41 592.7,375.04 591.78,375.94 590.83,376.87 589.06,377.94 588.24,379.34" fill="none" stroke="#800000" stroke-width="0.55" stroke-linejoin="round" opacity="0.95"/>
<polyline points="615.99,350.92 613.81,352.15 613.57,354.45 611.91,354.41 611.23,355.26 610.93,356.41 609.64,357.08 609.09,358.79 609.03,360.9 607.37,360.18 605.85,360.88 603.97,362.15 602.3,363.47 601.61,363.53 601.08,363.7 599.56,363.92 598.81,364.2 597.35,365.42 597.17,366.15 596.09,367.64 594.86,368.44 594.21,369.86 592.8,370.7 590.84,371.25 589.66,372.43 586.75,374.47 584.81,375.93 582.83,376.83 581.73,378.11 579.07,378.41" fill="none" stroke="#308030" stroke-width="0.55" stroke-linejoin="round" opacity="0.95"/>
<polyline points="616.8,349.26 616.88,350.08 617.71,351.9 616.71,352.04 615.92,353.01 614.05,353.02 612.08,353.43 611.61,353.63 612.04,354.76 610.85,355.66 609.01,355.9 608.11,356.52 606.68,357.24 605.62,358.01 604.21,358.13 603.12,360.36 602.96,361.26 601.7,360.52 601.03,362.04 599.96,362.55 599.16,362.55 599.3,363.75 598.69,364.1 597.76,365.11 597.76,365.57 596.13,366.63 595.2,367.43 594.05,367.37 592.73,368.75 592.25,370.8" fill="none" stroke="#808000" stroke-width="0.55" stroke-linejoin="round" opacity="0.95"/>
<polyline points="617.05,349.15 615.75,349.94 613.93,350.68 612.45,350.13 611.5,351.25 610.13,352.14 607.81,353.54 607.58,355.28 605.83,355.6 605.59,357.12 605.31,358.25 605.17,358.87 603.64,359.35 602.72,360.72 602.94,361.83 602.45,363.03 599.82,364.6 598.42,365.11 598.37,365.97 596.84,367.6 595.49,368.34 592.58,368.48 592.08,368.05 590.11,368.94 588.79,370.63 586.86,372.13 585.91,372.79 585.55,373.94 583.23,374.59 582.17,375.12" fill="none" stroke="#000075" stroke-width="0.55" stroke-linejoin="round" opacity="0.95"/>
<polyline points="616.4,349.01 615.33,349.99 613.35,351.48 612.47,353.3 610.88,352.98 610.08,354.58 608.35,354.88 605.34,356.22 604.76,357.7 604.1,359.47 603.04,360.61 602,361.69 600.98,362.2 599.74,363.72 598.48,365.07 596.32,367.37 594.29,368.37 592.75,369.79 593.75,370.3 592.53,371.85 592.46,373.48 592.28,374.31 592.21,375.92 591.8,378.16 590.61,378.7 590.04,380.96 589.47,381.87 588.36,383.47 587.09,384.99 586.7,385.89" fill="none" stroke="#505050" stroke-width="0.55" stroke-linejoin="round" opacity="0.95"/>
<polyline points="617.74,350.14 616.73,351.9 614.88,353.09 614.34,353.94 613.46,354.69 611.08,355.52 610.16,356.93 608.94,358.75 608.57,360.5 606.3,361.81 604.68,363.16 604.55,364.55 603.43,364.53 601.21,365.62 600.84,366.03 601.25,367.72 600.48,369.09 598.95,370.82 596.7,371.92 596.04,373.85 595.38,375.48 593.45,378.33 593.05,379.21 591.62,380.74 589.48,381.74 588.24,382.72 587.17,384.85 584.85,385.89 582.44,387.03 581.9,389.08" fill="none" stroke="#20a0e0" stroke-width="0.55" stroke-linejoin="round" opacity="0.95"/>
<polyline points="616.22,349.2 616.26,350.06 615.34,352.13 614.3,353.82 612.98,354.95 612.41,355.88 611.28,357.2 611,359.01 609.77,359.47 608.37,360.25 607.76,360.36 607.32,362.61 606.06,363.72 605.4,364.77 605.5,365.4 603.38,367.06 600.61,367.33 599.24,368.71 596.81,370.28 595.82,371.84 594.22,373.53 594.34,375.19 591.96,376.84 590.36,378.25 588.84,380.27 587.34,381.4 584.96,381.58 584.84,384.02 583.21,384.79 582.82,385.09" fill="none" stroke="#c0a000" stroke-width="0.55" stroke-linejoin="round" opacity="0.95"/>
<polyline points="615.38,349.25 614.6,349.76 612.56,350.58 611.52,351.76 611.37,352.86 611.34,354.13 611.5,354.06 609.83,354.77 608.99,356.26 608.5,356.81 606.81,357.64 606.4,358.63 604.84,358.54 603.08,359.22 602.86,359.63 600.49,360.7 599.37,361.7 598.8,362.24 597.88,362.94 597.61,363.05 595.23,362.6 593.83,362.98 591.65,364.14 589.74,364.33 589.39,365.17 588.28,365.78 586.61,366.99 585.07,367.34 584.1,368.94 583.36,369.47" fill="none" stroke="#ff6060" stroke-width="0.55" stroke-linejoin="round" opacity="0.95"/>
<polyline points="616.05,349.63 615.66,351.16 614.9,352.7 613.57,353.42 612.54,355.26 611.56,356.58 611.02,357.27 611.54,359.24 610.59,361.57 609.98,362.51 608.73,364.3 607.23,366.45 606.91,366.57 605.3,366.85 604.43,368.94 604.05,369.75 603.54,371.18 603.95,372.61 603.61,373.5 602.16,375.87 600.1,377.38 599.55,379.72 598.22,380.08 596.11,381.09 595.55,381.9 593.67,382.98 591.84,383.47 590.39,384.53 588.99,385.73 587.06,386.85" fill="none" stroke="#60c060" stroke-width="0.55" stroke-linejoin="round" opacity="0.95"/>
<polyline points="616.8,349.16 616.75,350.83 615.14,352.24 614.18,353.36 613.37,354.47 611.59,355.78 610.5,358.42 610.11,360.03 608.45,361.14 606.87,363.28 605.3,363.72 604.68,364.24 602.88,365.63 602.27,365.99 600.91,367.82 598.12,368.22 595.64,369.21 594.92,368.5 593.7,369.81 592.67,370.73 592.3,371.55 590.39,374.06 589.25,375.69 588.94,377.71 587.74,379.38 585.75,379.6 584.53,380.93 583.73,382.63 582.11,384.24 582.23,385.27" fill="none" stroke="#6060ff" stroke-width="0.55" stroke-linejoin="round" opacity="0.95"/>
<polyline points="615.09,349.11 614.39,350.08 614.39,351.89 613.8,353.44 612.06,354.29 612.15,355.74 610.52,357.2 611.12,357.6 610.52,357.06 609.81,359.07 608.54,360.52 609.15,362.1 608.49,363.14 607.26,363.85 606.27,364.99 604.45,366.11 602.78,367.38 601.97,368.2 601.43,369.07 601.96,370.24 600.32,370.34 598.89,370.99 598.72,371.78 597.55,371.91 596.9,372.96 595.11,373.92 592.97,375.18 591.25,375.73 590.91,376.86 589.68,378.26" fill="none" stroke="#a0a000" stroke-width="0.55" stroke-linejoin="round" opacity="0.95"/>
<polyline points="616.72,349.58 613.38,350.04 613.06,350.5 612.43,350.86 613.13,351.68 612.99,352.2 612.2,353.3 610.65,355 609.79,356.2 607.6,357.68 605.43,357.72 603.95,358.67 601.76,360.31 601.24,361.47 600.12,361.36 600.38,361.95 599.45,362.82 597.95,362.6 595.75,363.66 593.03,365.45 592.04,366.18 591,367.39 589.18,368.73 587.61,369.08 587.4,369.82 585.71,371.4 584.65,372.55 582,372.73 580.7,373.93 578.77,375.48" fill="none" stroke="#a040a0" stroke-width="0.55" stroke-linejoin="round" opacity="0.95"/>
<polyline points="617.67,349.03 616.74,350.22 616.46,350.52 615.23,351.08 614.21,352.99 612.55,353.42 612.71,353.92 611.65,355.28 611.13,355.99 609.02,356.51 607.58,357.02 607.06,357.5 606.95,357.98 605.25,359.52 605.12,360.15 603.03,362.3 602.79,361.85 602.49,362.92 601.78,365.5 600.12,365.8 599.85,368.01 599.82,368.6 599.61,369.64 598.7,371.22 598.03,371.59 596.42,372.28 595.11,372.56 594.93,374.92 594.36,375.21 593.03,376.26" fill="none" stroke="#40a0a0" stroke-width="0.55" stroke-linejoin="round" opacity="0.95"/>
<text x="667.6" y="316.5" font-size="10.5" font-weight="bold" text-anchor="end" fill="#111" font-family='"Liberation Sans", sans-serif' >1 W</text>
<text transform="translate(537.5,348) rotate(-90)" font-size="8.1" font-weight="bold" text-anchor="middle" font-family='"Liberation Sans", sans-serif' fill="#111">Y-Position</text>
<rect x="559.6" y="411.2" width="114.2" height="91.6" fill="#fff" stroke="#333" stroke-width="1" />
<line x1="575.64" y1="502.8" x2="575.64" y2="505" stroke="#222" stroke-width="0.7" />
<text x="575.64" y="511.6" font-size="6.8" font-weight="bold" text-anchor="middle" fill="#222" font-family='"Liberation Sans", sans-serif' >-200</text>
<line x1="557.4" y1="490.4" x2="559.6" y2="490.4" stroke="#222" stroke-width="0.7" />
<text x="556.3" y="492.8" font-size="6.8" font-weight="bold" text-anchor="end" fill="#222" font-family='"Liberation Sans", sans-serif' >-200</text>
<line x1="616.6" y1="502.8" x2="616.6" y2="505" stroke="#222" stroke-width="0.7" />
<text x="616.6" y="511.6" font-size="6.8" font-weight="bold" text-anchor="middle" fill="#222" font-family='"Liberation Sans", sans-serif' >0</text>
<line x1="557.4" y1="456.8" x2="559.6" y2="456.8" stroke="#222" stroke-width="0.7" />
<text x="556.3" y="459.2" font-size="6.8" font-weight="bold" text-anchor="end" fill="#222" font-family='"Liberation Sans", sans-serif' >0</text>
<line x1="657.56" y1="502.8" x2="657.56" y2="505" stroke="#222" stroke-width="0.7" />
<text x="657.56" y="511.6" font-size="6.8" font-weight="bold" text-anchor="middle" fill="#222" font-family='"Liberation Sans", sans-serif' >200</text>
<line x1="557.4" y1="423.2" x2="559.6" y2="423.2" stroke="#222" stroke-width="0.7" />
<text x="556.3" y="425.6" font-size="6.8" font-weight="bold" text-anchor="end" fill="#222" font-family='"Liberation Sans", sans-serif' >200</text>
<line x1="596.12" y1="502.8" x2="596.12" y2="504.1" stroke="#222" stroke-width="0.6" />
<line x1="558.3" y1="473.6" x2="559.6" y2="473.6" stroke="#222" stroke-width="0.6" />
<line x1="637.08" y1="502.8" x2="637.08" y2="504.1" stroke="#222" stroke-width="0.6" />
<line x1="558.3" y1="440" x2="559.6" y2="440" stroke="#222" stroke-width="0.6" />
<line x1="616.6" y1="429.92" x2="616.6" y2="448.74" stroke="#7a7a7a" stroke-width="1.1" stroke-dasharray="3.2,1.8"/>
<line x1="616.6" y1="464.86" x2="616.6" y2="483.68" stroke="#7a7a7a" stroke-width="1.1" stroke-dasharray="3.2,1.8"/>
<line x1="588.34" y1="456.8" x2="605.95" y2="456.8" stroke="#7a7a7a" stroke-width="1.1" stroke-dasharray="3.2,1.8"/>
<line x1="627.25" y1="456.8" x2="644.86" y2="456.8" stroke="#7a7a7a" stroke-width="1.1" stroke-dasharray="3.2,1.8"/>
<polyline points="616.96,455.87 618.94,455.91 620.28,456.21 623.03,456.09 624.52,457.29 625.08,457.92 626.65,459.82 628.07,460.39 629.54,461.5 632.5,461.74 632.73,462.96 634.57,463.42 635.91,464.22 636.99,465.28 637.46,465.71 636.63,466.95 638.78,468.22 639.12,467.86 641.12,468.74 641.91,469.68 642.87,470.63 643.53,471.11 644.33,473.02 644.59,473.82 645.04,476.14 647.36,476.65 648.21,477.78 649.79,477.76 650.52,478.33 651.25,478.95" fill="none" stroke="#e6194b" stroke-width="0.55" stroke-linejoin="round" opacity="0.95"/>
<polyline points="617.08,457.25 618.71,457.88 620.47,458.77 622.2,459.5 622.92,459.6 622.21,460.93 624.19,462.54 624.43,462.89 626.12,463.89 626.83,465.26 627.16,465.32 628.02,466.02 628.95,466.62 629.69,467.51 629.59,467.78 629.35,467.84 631.55,467.59 633.89,468.9 634.7,470.08 634.78,471.79 634.51,471.94 635.66,471.88 637.13,472.07 637.18,472.8 638.36,472.7 638.73,473.65 639.06,473.34 640.13,474.18 640.21,474.57 639.62,475.36" fill="none" stroke="#3cb44b" stroke-width="0.55" stroke-linejoin="round" opacity="0.95"/>
<polyline points="618.84,456.74 619.97,457.68 619.37,457.45 621.44,458.51 622.01,458.29 622.7,460.19 624.08,460.73 625.24,461.76 626.52,461.58 626.61,461.73 626.77,462.48 626.73,463.2 626.86,462.94 627.32,464.07 628.96,464.19 630.32,464.67 631.47,465.18 631.4,465.56 632.14,465.92 633.39,467.41 634.25,468.33 634.68,468.5 635.37,469.35 636.57,469.82 637.9,469.51 638.29,470.6 639,470.54 639.88,471.67 639.29,472.66 639.25,472.72" fill="none" stroke="#4363d8" stroke-width="0.55" stroke-linejoin="round" opacity="0.95"/>
<polyline points="616.65,456.43 617.46,456.77 619.36,456.91 621.41,457.88 622.86,457.46 624.16,458.16 625.1,459.08 626.32,458.84 627.77,459.46 628.31,460.74 631.16,461.63 632.35,462.52 633.58,463.38 634.77,463.12 635.34,463.42 636.4,463.6 637,463.97 637.39,465.68 637.52,466.87 637.79,467.69 639.68,469 641.08,469.55 641.64,470.74 643.02,471.1 643.84,471.83 644.9,473.25 646.04,473.71 648.38,475.11 648.81,475.7 649.45,476.59" fill="none" stroke="#f58231" stroke-width="0.55" stroke-linejoin="round" opacity="0.95"/>
<polyline points="615.43,456.47 614.62,456.14 616.11,457.18 617.67,457.94 618.8,458.17 619.88,458.85 621.15,459.64 621.7,460.87 621.23,460.61 622.62,462.11 623.73,462.66 622.98,463.82 623.73,463.48 625.35,463.41 626.41,463.49 626.4,463.79 627.76,465.2 628.78,464.97 631,464.8 631.33,465.51 631.8,465.45 632.04,466.73 631.72,467.27 632.88,468.28 633.18,469.05 635,470.5 635.81,471.03 636.93,470.94 638.38,471.44 640.28,471.41" fill="none" stroke="#911eb4" stroke-width="0.55" stroke-linejoin="round" opacity="0.95"/>
<polyline points="617.48,457.23 617.72,457.72 617.53,458.57 618.22,458.7 619.04,458.8 621.22,458.65 621.44,460.03 621.82,460.9 621.43,462.26 621.23,462.96 623.27,462.32 623.55,462.95 623.56,464.29 624.5,464.64 625.03,464.66 625.76,464.42 626.37,464.32 627.19,464.65 628.6,465.84 629.02,466.28 629.78,466.54 630.16,467.73 631.04,467.97 631.41,467.66 632.87,467.56 634.39,468.47 636.88,469.28 638.13,469.24 639.36,469.5 639.79,470.1" fill="none" stroke="#46a0a0" stroke-width="0.55" stroke-linejoin="round" opacity="0.95"/>
<polyline points="616.92,456.74 617.45,457.2 617.15,457.51 618.32,458.18 619.65,458.35 620.08,458.21 620.66,457.14 620.89,457.97 621.4,458.18 623.2,458.47 623.88,457.7 625.58,458.22 626.46,459.47 627.45,458.81 627.57,460 628.62,461.77 630.57,463.02 631,463.48 632.8,463.62 632.37,464.99 633.44,466.61 634.15,467.48 635.63,467.18 634.73,467.33 636.09,468.18 636.55,469.3 637.19,469.48 639.03,469.05 639.71,469.95 641.3,472" fill="none" stroke="#f032e6" stroke-width="0.55" stroke-linejoin="round" opacity="0.95"/>
<polyline points="616.65,457.48 617.87,458.67 618.6,459.58 619.75,460.43 620.89,462.28 622.27,462.91 622.99,463.26 624.6,464.6 625.91,465.98 626.56,466.57 628.5,467.97 629.66,469.22 631.45,469.49 632.28,470.43 633.56,471.23 635.89,472.87 635.72,474.09 635.87,474.23 636.67,475.52 638.15,476.51 639.16,477.63 641.15,478.93 643.79,479.83 643.41,480.42 643.46,481.34 646.4,481.81 646.9,483.4 648.23,483.65 649.03,484.11 650.57,485.28" fill="none" stroke="#7a9a1a" stroke-width="0.55" stroke-linejoin="round" opacity="0.95"/>
<polyline points="617.26,456.2 617.38,457.47 617.6,457.87 618.18,457.75 619.78,458.32 620.97,458.72 622.62,459.44 623.85,459.7 624.85,459.84 625.8,461.02 626.98,460.77 629.09,462.44 630.36,463.46 631.16,464.4 632.03,465.44 632.87,466.05 633.04,467.51 633.27,468.92 634.72,470.31 635.7,471.01 637.24,471.73 639.03,472.5 640.23,472.8 640.22,473.31 642.33,473.98 643.18,473.6 644.29,473.62 643.61,474.29 644.28,474.81 646.16,475.63" fill="none" stroke="#e08080" stroke-width="0.55" stroke-linejoin="round" opacity="0.95"/>
<polyline points="616.71,457.08 617.85,457.04 619.19,456.39 619.67,457.76 620.9,457.59 621.45,458.16 621.86,459.47 622.21,461.26 623.29,461.56 624.8,462.62 625.21,464.18 625.04,464.24 627.94,465.43 628.53,465.46 628.9,465.7 629.55,466.45 631.07,467.18 631.04,467.27 631.93,468.18 632.22,468.41 632.58,468.92 634.17,469.56 635.82,470.95 637.13,471.21 639.35,471.77 640.86,472.44 640.98,473.53 641.34,473.65 641.66,474.2 643.18,474.05" fill="none" stroke="#008080" stroke-width="0.55" stroke-linejoin="round" opacity="0.95"/>
<polyline points="616.83,456.14 618.56,457.14 619.8,458.65 621.76,460.24 623.29,460.15 625.31,461.63 626.84,462.38 628,461.95 629.58,463.33 630.18,463.46 631.72,464.67 631.89,465.53 632.95,465.6 633.88,465.75 636.12,467.24 637.06,466.87 638.11,467.43 640.16,468.43 641.23,469.96 642.98,470.8 644.07,472.87 646.11,473.03 646.89,472.87 646.48,473.47 646.61,472.44 646.07,473.73 646.86,473.83 648.79,474.18 649.94,473.49 650.76,473.89" fill="none" stroke="#9a6324" stroke-width="0.55" stroke-linejoin="round" opacity="0.95"/>
<polyline points="616.88,457.62 617.84,456.95 618.59,456.95 619.62,457.83 621.71,457.74 623.5,458.3 624.51,458.64 625.76,459.33 626.33,459.03 626.47,459.77 627.13,460.55 627.18,461.49 628.69,462.18 629.08,461.68 629.04,461.55 630.22,462.83 630.86,463.54 632.71,463.49 633.44,464.66 633.14,465.25 633.05,465.84 633.83,466.1 635.47,466.52 636.73,467.1 638.41,467.11 640.48,466.78 640.87,468.12 642.26,467.93 642.7,467.53 643.69,468.07" fill="none" stroke="#800000" stroke-width="0.55" stroke-linejoin="round" opacity="0.95"/>
<polyline points="615.68,456.87 616.52,458.82 616.78,458.95 615.94,459.59 615.79,461.19 617.42,461 617.94,461.74 619.76,461.48 620.57,461.41 621.47,462.05 622.73,462.75 623.98,463.34 624.46,464.13 625.61,464.03 626.73,464.99 627.99,465.97 628,466.54 629.4,466.59 630.62,466.22 632.06,466.88 633.45,467.48 634.57,467.57 635.35,468.88 636.09,469.49 636.85,470.16 636.9,471.53 638.22,471.49 639.34,471.93 641.6,471.96 642.47,471.89" fill="none" stroke="#308030" stroke-width="0.55" stroke-linejoin="round" opacity="0.95"/>
<polyline points="616.6,457.1 618.29,457.39 618.97,458.64 619.52,459.07 620.7,459.49 621.47,459.95 622.4,461.15 624.12,462.32 625.03,462.73 626.33,462.94 629.47,464.2 630.57,466.02 631.07,466.61 632.63,467.38 634.3,468.8 634.44,469.1 635.96,469.37 637.29,469.86 638.26,470.79 639.49,471.5 641.83,472.05 641.13,473.04 642.48,473.5 643.93,474.84 644.72,475.96 645.57,476.06 647.35,476.95 649.39,476.63 650.59,477.57 651.73,479.21" fill="none" stroke="#808000" stroke-width="0.55" stroke-linejoin="round" opacity="0.95"/>
<polyline points="617.2,457.26 618.85,458.6 619.66,458.63 621.47,458.77 623.91,458.93 624.68,459.83 625.08,460.46 625.5,461.58 625.75,463.33 628.46,463.58 627.94,464.09 628.5,466.1 629.3,466.74 630.66,466.86 631.01,467.65 632.44,468.1 633.67,468.8 635.5,470.3 635.4,470.04 636.66,470.16 637.78,471.12 638.42,471.8 639.05,472.59 639.96,472.86 641.5,472.68 641.97,473.44 643.63,473.98 642.89,474.51 643.87,475.52 644.56,476.67" fill="none" stroke="#000075" stroke-width="0.55" stroke-linejoin="round" opacity="0.95"/>
<polyline points="617.31,457.24 617.27,458.32 618.51,458.82 620.08,459 620.66,460.21 621.19,459.4 621.43,460.35 622,460.04 622.7,461.16 622.99,461.72 623.78,461.6 626.26,461.29 627.44,461.78 627.6,461.92 629.23,461.92 629.87,462.01 630.44,462.58 631,463.01 631.67,462.91 632.4,463.45 633.85,463.53 635.36,464.46 637,464.95 636.97,465.53 636.81,466.6 637.23,466.55 636.99,466.88 637.5,466.49 638.33,466.65 640.01,467.78" fill="none" stroke="#505050" stroke-width="0.55" stroke-linejoin="round" opacity="0.95"/>
<polyline points="616.51,456.55 617.82,457.71 619.31,459 620.11,460.69 621.6,461.23 622.3,462.29 622.26,463.78 623.84,465.34 625.68,466.39 627.46,467.53 628,468.37 630.02,469.49 631.81,470.72 633.09,470.84 634.6,472.21 636.5,473.01 637.65,473.44 637.15,473.94 639.99,474.6 640.21,474.65 643.48,475.15 644.26,476.36 645.7,477.07 648.05,477.56 648.02,478.55 649.46,478.31 650.59,479.92 651.92,480.58 652.18,480.78 653.62,481.12" fill="none" stroke="#20a0e0" stroke-width="0.55" stroke-linejoin="round" opacity="0.95"/>
<polyline points="616.29,456.86 618.49,457.53 619.55,458.24 620.43,459.29 619.52,459.98 622.28,460.32 624.24,460.97 625.2,461.45 626.72,462.28 628.38,463.36 629.96,463.74 632.14,464.41 634.2,465.06 634.11,466.91 635.46,468.3 637.35,469.81 638.55,470.88 639.52,471.96 641,472.66 642.12,473.31 643.98,474.18 644.99,475.31 646.15,476.37 647.7,475.58 649.98,476.3 651.89,476.71 654.28,476.63 655.11,476.09 656.02,476.78 656.95,478.48" fill="none" stroke="#c0a000" stroke-width="0.55" stroke-linejoin="round" opacity="0.95"/>
<polyline points="615.84,455.93 615.83,456.2 617.92,456.3 619.62,456.7 619.09,457.71 618.5,458.06 618.24,458.52 618.55,459.46 619.56,460.28 619.63,460.25 620.25,461.65 621.73,463.01 622.54,463.26 622.99,464.29 623.41,465.04 623.27,465.1 623.48,466.07 625.09,467.05 624.64,467.65 625.29,468.19 627.39,469.07 628.98,469.11 630.64,469.72 631.06,470.38 631.93,470.37 633.74,471.94 635.15,472.27 635.84,473.41 636.74,475 638.27,476.07" fill="none" stroke="#ff6060" stroke-width="0.55" stroke-linejoin="round" opacity="0.95"/>
<polyline points="617.21,456.54 619.41,457.05 620.43,458.83 621.28,458.55 622.06,459.52 623.07,459.7 622.93,459.34 624.46,459.6 625.56,459.14 626.36,459.35 627.54,460.76 628.55,461.02 629.46,461.94 630.56,463.12 630.88,463.76 631.33,464.11 632.94,464.04 634.74,464.88 636.15,466.23 637.56,467.19 639.63,468.28 640.86,469.4 642.41,469.71 642.81,469.26 644.27,470.76 644.74,472.5 644.43,473.27 644.06,473.73 644.01,474.63 646.32,475.53" fill="none" stroke="#60c060" stroke-width="0.55" stroke-linejoin="round" opacity="0.95"/>
<polyline points="616.04,457.01 616.96,457.33 617.24,457.53 618.5,457.49 619.35,458.38 620.66,458.21 620.78,459.88 621.47,459.63 622.9,460.65 624.66,461.51 626.13,462.1 627.63,462.15 628.27,462.09 628.61,462.66 629.19,463.5 630.65,463.31 631.46,464.22 632.59,464.41 633.83,464.77 634.47,464.32 634.83,464.79 634.36,465.37 634.81,465.93 636.01,466.64 637.1,467.23 637.56,468.67 638.63,468.68 638.71,469.41 638.19,470 638.17,470.17" fill="none" stroke="#6060ff" stroke-width="0.55" stroke-linejoin="round" opacity="0.95"/>
<polyline points="616.47,457.2 619.12,458.01 621.5,458.64 622.63,460.46 623.83,461.04 625.25,461.79 626.82,463.5 628.4,464.9 629.74,465.04 629.71,466.13 631.31,466.44 632.73,467.86 634.65,468.46 634.77,469.35 634.93,471.81 635.6,473.28 635.47,473.12 635.92,473.82 637.82,473.47 638.98,473.44 639.57,474.36 640.7,475.84 642.35,475.62 645.28,476.11 645.89,477.47 647.75,478.02 649.57,479.07 650.35,479.69 651.76,479.75 652.69,480.14" fill="none" stroke="#a0a000" stroke-width="0.55" stroke-linejoin="round" opacity="0.95"/>
<polyline points="615.75,456.72 616.22,458.74 618.37,459.07 620.21,459.58 622.14,460.04 623.34,459.53 623.62,459.83 623.59,459.57 624.53,460.9 624.33,461.65 626.84,461.98 626.81,463.8 629.94,464.77 629.98,465.31 631.49,465 632.43,466.05 634.01,467.15 635.36,467.68 637.15,468.72 637.75,469.18 639.17,470.68 639.68,471.21 640.49,470.5 642.09,470.39 643.12,470.97 644.29,470.97 645.14,470.67 645.69,470.71 646.97,471.56 649.2,471.61" fill="none" stroke="#a040a0" stroke-width="0.55" stroke-linejoin="round" opacity="0.95"/>
<polyline points="616.98,457.34 617.98,458.46 618.75,458.08 620.92,458.97 621.64,460.56 622.77,460.49 623.08,461.64 624.25,462.57 625.3,462.26 626.55,462.46 628.83,462.91 630.26,463.47 630.63,463.12 630.56,463.67 630.64,464.75 630.64,465.5 631.9,465.33 631.47,465.79 632.1,466.75 632.94,467.23 633.79,467.83 636.29,468.36 637.46,469.63 639.18,470.53 640.03,471.58 640.9,472.72 640.9,474.13 641.55,474.72 642.99,474.34 645.25,475.3" fill="none" stroke="#40a0a0" stroke-width="0.55" stroke-linejoin="round" opacity="0.95"/>
<text x="667.8" y="424.5" font-size="10.5" font-weight="bold" text-anchor="end" fill="#111" font-family='"Liberation Sans", sans-serif' >1 W</text>
<text transform="translate(538.1,456) rotate(-90)" font-size="8.1" font-weight="bold" text-anchor="middle" font-family='"Liberation Sans", sans-serif' fill="#111">Y-Position</text>
<rect x="561.2" y="519.3" width="112.8" height="91.1" fill="#fff" stroke="#333" stroke-width="1" />
<line x1="576.74" y1="610.4" x2="576.74" y2="612.6" stroke="#222" stroke-width="0.7" />
<text x="576.74" y="619.2" font-size="6.8" font-weight="bold" text-anchor="middle" fill="#222" font-family='"Liberation Sans", sans-serif' >-200</text>
<line x1="559" y1="598.5" x2="561.2" y2="598.5" stroke="#222" stroke-width="0.7" />
<text x="557.9" y="600.9" font-size="6.8" font-weight="bold" text-anchor="end" fill="#222" font-family='"Liberation Sans", sans-serif' >-200</text>
<line x1="617.7" y1="610.4" x2="617.7" y2="612.6" stroke="#222" stroke-width="0.7" />
<text x="617.7" y="619.2" font-size="6.8" font-weight="bold" text-anchor="middle" fill="#222" font-family='"Liberation Sans", sans-serif' >0</text>
<line x1="559" y1="564.9" x2="561.2" y2="564.9" stroke="#222" stroke-width="0.7" />
<text x="557.9" y="567.3" font-size="6.8" font-weight="bold" text-anchor="end" fill="#222" font-family='"Liberation Sans", sans-serif' >0</text>
<line x1="658.66" y1="610.4" x2="658.66" y2="612.6" stroke="#222" stroke-width="0.7" />
<text x="658.66" y="619.2" font-size="6.8" font-weight="bold" text-anchor="middle" fill="#222" font-family='"Liberation Sans", sans-serif' >200</text>
<line x1="559" y1="531.3" x2="561.2" y2="531.3" stroke="#222" stroke-width="0.7" />
<text x="557.9" y="533.7" font-size="6.8" font-weight="bold" text-anchor="end" fill="#222" font-family='"Liberation Sans", sans-serif' >200</text>
<line x1="597.22" y1="610.4" x2="597.22" y2="611.7" stroke="#222" stroke-width="0.6" />
<line x1="559.9" y1="581.7" x2="561.2" y2="581.7" stroke="#222" stroke-width="0.6" />
<line x1="638.18" y1="610.4" x2="638.18" y2="611.7" stroke="#222" stroke-width="0.6" />
<line x1="559.9" y1="548.1" x2="561.2" y2="548.1" stroke="#222" stroke-width="0.6" />
<line x1="617.7" y1="538.02" x2="617.7" y2="556.84" stroke="#7a7a7a" stroke-width="1.1" stroke-dasharray="3.2,1.8"/>
<line x1="617.7" y1="572.96" x2="617.7" y2="591.78" stroke="#7a7a7a" stroke-width="1.1" stroke-dasharray="3.2,1.8"/>
<line x1="589.44" y1="564.9" x2="607.05" y2="564.9" stroke="#7a7a7a" stroke-width="1.1" stroke-dasharray="3.2,1.8"/>
<line x1="628.35" y1="564.9" x2="645.96" y2="564.9" stroke="#7a7a7a" stroke-width="1.1" stroke-dasharray="3.2,1.8"/>
<polyline points="618.46,565.45 618.42,563.74 618.17,563.04 617.49,561.89 616.4,560.82 615.67,560.38 614.41,559.18 613.2,558.17 611.32,557.41 610.84,556.33 610.96,555.14 610.8,554.43 609.5,554.23 608.4,553.21 608.56,552.13 608.15,550.8 607.36,549.82 606.73,548.82 606.02,548.7 605.19,548.29 605.86,546.58 604.86,546.21 604.31,546.21 604.63,545.37 603.73,543.89 604.07,542.93 604.22,543.04 603.11,542.67 601.38,541.3 602.5,541.21" fill="none" stroke="#e6194b" stroke-width="0.55" stroke-linejoin="round" opacity="0.95"/>
<polyline points="617.7,565.36 617.25,564.78 617.1,563.33 616.69,562.64 615.85,561.22 614.53,560.65 612.23,559.81 611.43,558.12 609.89,557.82 610.05,556.05 608.55,555.2 606.57,554.1 606.79,552.5 605.35,551.2 604.15,549.87 603.07,548.37 603.27,547.04 602.84,545.67 602.77,544.77 601.96,543.71 602.21,542.47 601.93,541.54 600.29,540.57 599.94,539.61 598.86,538.67 598.55,537.28 597.87,536.68 596.7,533.43 595.9,531.93 595.44,531.58" fill="none" stroke="#3cb44b" stroke-width="0.55" stroke-linejoin="round" opacity="0.95"/>
<polyline points="617.3,564.71 615.72,564.02 615.54,563.51 613.89,563.2 613.72,563.32 612.08,562.09 611.5,561.33 610.53,560.31 610.46,559.27 608.56,558.12 606.74,556.34 605.76,555.2 605.34,554.79 605.52,553.87 606.37,552.69 605.96,550.43 606.31,549.62 605.11,547.69 605.35,546.17 604.5,545.7 603.25,544.22 602.52,543.02 600.36,541.6 599.22,542.37 597.68,541.33 598.13,542.13 596.51,541.26 594.75,540.72 593.36,539.88 591.64,539.31" fill="none" stroke="#4363d8" stroke-width="0.55" stroke-linejoin="round" opacity="0.95"/>
<polyline points="617.85,563.88 616.04,563.07 615.93,562.04 613.39,560.88 612.38,558.46 611.65,557.09 610.31,555.71 607.66,555.34 606.73,555.31 606.79,554.32 607.32,554.18 606.07,552.82 605.06,551.35 604.88,550.81 604.32,549.51 603.85,548.65 602.86,547.8 602.92,545.6 601.26,545.21 600.5,543.37 599.25,541.01 600.25,541.43 600.11,540.08 599.18,540.18 598.75,539.42 598.97,538.08 597.67,535.92 598.38,534.03 597.82,532.46 597.29,531.77" fill="none" stroke="#f58231" stroke-width="0.55" stroke-linejoin="round" opacity="0.95"/>
<polyline points="616.76,564.73 616.21,564.42 615.11,563.78 615.84,562.56 615.3,561.09 614.1,561.01 613.09,559.42 612.51,558.38 612.22,557.66 612.75,556.27 611.74,555.92 611.32,555.51 610.93,554.12 610.57,553.06 609.82,552.59 608.67,550.87 607.72,549.87 607.4,548.66 606.76,548.67 607.88,548.36 607.92,548.06 608.01,547.75 608.85,546.52 607.29,544.57 605.51,543.82 605.92,543.11 606.46,542.14 605.62,540.44 605.25,539.78 605.54,538.99" fill="none" stroke="#911eb4" stroke-width="0.55" stroke-linejoin="round" opacity="0.95"/>
<polyline points="616.54,564.43 616.91,563.54 616.86,563.1 616.07,561.41 615.47,560.45 614.73,560.21 613.43,559.49 612.77,558.97 613.6,558.98 612.24,558.33 612.06,558.16 611.69,557.63 610.54,556.33 610.58,554.66 609.15,552.99 609.37,551.74 609.15,550.66 608.49,549.09 609.18,548.18 608.9,546.55 607.34,544.49 607.08,542.54 606.34,541.99 605.71,540.73 604.5,539.1 604.18,538.66 604.01,537.67 603.52,536.82 602.48,536.47 602.06,535.36" fill="none" stroke="#46a0a0" stroke-width="0.55" stroke-linejoin="round" opacity="0.95"/>
<polyline points="616.87,564.76 617.59,564.05 616.44,563.07 615.13,561.54 614.14,560.6 612.63,559.28 611.62,558.52 610.46,556.57 609.52,555.41 609.57,554.48 609.34,554.09 608.89,554.37 608.06,553.64 606.59,551.99 606.2,550.48 606.36,549.17 605.84,548.21 606.29,546.68 604.77,546.21 603.29,545.66 603.29,544.49 603.13,543.96 601.62,542.24 599.2,541.97 596.71,541.39 597.65,540.87 597.46,538.9 596.02,538.35 595.31,536.96 593.21,536.47" fill="none" stroke="#f032e6" stroke-width="0.55" stroke-linejoin="round" opacity="0.95"/>
<polyline points="617.45,565.01 615.93,564.43 614.38,564.43 612.9,563.58 612.31,562.85 610.72,560.74 609.6,559.9 608.11,558.92 606.37,558.25 604.64,558 603.2,557.84 603.35,557.56 603.52,556.39 603.05,554.54 600.74,552.58 600,551.88 598.35,550.68 596.09,548.62 594.88,547.16 593.88,546.41 592.53,545.91 592.37,544.91 591.68,543.61 591.11,542.32 590.97,541.68 589.2,540.73 587.9,539.66 587.7,538.06 587.06,537.49 586.39,536.35" fill="none" stroke="#7a9a1a" stroke-width="0.55" stroke-linejoin="round" opacity="0.95"/>
<polyline points="617.24,565.37 616.98,564.82 617.27,564.19 615.99,562.83 616.73,562.94 615.87,561.81 615.57,562.14 615.95,561.55 615.74,560.33 614.82,560.22 614.85,559.14 614.48,557.93 614.33,556.76 613.3,556.36 613.6,556.34 612.58,555.74 611.92,555.77 610.29,554.45 609.86,553.11 608.77,552.55 608.19,551.98 606.59,550.76 605.92,550.12 604.74,548.72 603.18,547.11 602.41,546.81 601.44,545.49 600.34,545.51 599.18,544.72 599.07,544.65" fill="none" stroke="#e08080" stroke-width="0.55" stroke-linejoin="round" opacity="0.95"/>
<polyline points="616.97,564 616.75,563.76 615.51,564.31 615.17,563.97 614.26,562.11 612.53,560.55 611.59,560.14 611.77,558.86 610.55,557.51 609.39,556.97 608.38,555.35 606.51,555.08 606.4,554.86 605.51,554.01 603.84,553.41 603,552.43 602.71,551.27 602.61,550.11 601.56,548.71 601.13,547.17 600.28,546.21 599.45,546.05 599.03,545.4 597.75,544.57 598.5,543.99 598.83,544.18 597.89,542.02 597.28,540.75 596.15,540.85 595.79,539.26" fill="none" stroke="#008080" stroke-width="0.55" stroke-linejoin="round" opacity="0.95"/>
<polyline points="616.16,565.11 615.76,563.88 616.56,562.45 616.39,562.04 615.83,561.57 615.43,560.39 614.79,560.87 613.43,558.66 613.89,558.46 613.2,557.54 612.91,556.86 611.01,557.17 610.61,556.27 610.34,554.85 609.88,554.2 609.43,553.13 608.5,551.44 607.24,550.48 607.27,549.05 605.97,549.08 605.27,548.16 605.39,549.17 604.67,548.53 604.43,547.82 603.82,547.26 601.98,546.26 599.75,545.87 598.58,545.2 597.36,544.2 597.08,543.36" fill="none" stroke="#9a6324" stroke-width="0.55" stroke-linejoin="round" opacity="0.95"/>
<polyline points="618.02,564.47 617.26,564.96 616.2,563.97 614.97,563.38 614.2,562.78 613.79,561.06 612.91,559.56 611.19,559.15 610.08,558.71 609.24,557.66 609.49,556.97 609.52,556.56 608.48,555.07 607.84,555.48 606.94,554.2 605.01,553.46 603.92,552.22 603.95,552 602.45,550.08 602.43,548.07 601.56,546.46 599,545.18 597.46,544.98 595.83,543.38 596.03,542.65 594.92,540.95 593.59,539.78 593.17,538.07 592.13,538.68 591.13,537.25" fill="none" stroke="#800000" stroke-width="0.55" stroke-linejoin="round" opacity="0.95"/>
<polyline points="617.8,564.75 616.92,563.12 616.27,562.27 614.59,561.61 613.71,559.87 613.16,559.16 612.81,557.9 611.61,556.74 609.96,555.78 610.51,554.32 610.08,552.91 609.7,552.69 608.51,552.18 607.97,550.75 608.53,549.93 606.87,548.86 605.98,547.8 605.12,546.6 603.85,545.52 603.68,544.51 603.21,543.97 602.95,543.12 601.63,542.33 600.49,541.52 599.25,539.63 599.02,538.45 598.48,537.59 598.18,536.82 597.27,536.36 597.24,534.78" fill="none" stroke="#308030" stroke-width="0.55" stroke-linejoin="round" opacity="0.95"/>
<polyline points="618.42,564.61 616.74,563.55 616.64,562.98 615.25,562.44 612.58,561.42 611.39,560.73 610.67,559.92 611.16,559.54 610.39,559.91 609.29,560.17 609.2,559.34 608.14,557.99 606.79,557.25 605.58,556.94 604.79,556.45 604.06,556.24 602.33,554.61 601.97,553.97 601.5,553.69 601.15,553.68 600.86,552.61 600.2,551.33 599.54,549.5 599.38,549.52 598.07,547.7 597.08,546.62 596.1,544.88 596.28,543.54 595.4,542.83 595.79,542.26" fill="none" stroke="#808000" stroke-width="0.55" stroke-linejoin="round" opacity="0.95"/>
<polyline points="617.9,564.55 617.57,562.42 617.96,561.69 617.39,559.98 617.58,558.99 617.9,558.29 618.01,558.13 617.88,555.77 618.47,555.06 615.91,553.72 616.19,552.48 615.88,552.1 615.02,551.67 613.61,550.83 614.12,549.46 613.06,548.4 611.88,547.59 611.5,547.31 611.18,546.54 611.43,545.94 611.05,545.31 610.89,545.18 609.99,544.55 608.33,543.63 607.66,542.85 606.41,542.12 605.37,540.37 605.21,538.47 605.36,536.27 604.89,534.94" fill="none" stroke="#000075" stroke-width="0.55" stroke-linejoin="round" opacity="0.95"/>
<polyline points="618.07,564.72 617.79,564.69 617.17,563.86 615.72,563.2 615.06,561.87 613.89,560.61 613.15,559.16 612.86,557.86 611.61,557.64 611.58,557.25 611.16,556.34 611.31,555.54 610.1,555.86 609.54,555 608.12,554.37 608.02,553.27 607.62,552.54 606.85,551.13 605.67,549.51 604.53,547.53 603.17,546.9 602.29,546.2 601.26,545.32 601.16,544.7 601.02,543.31 600.17,542.52 600.54,543.07 599.26,542.25 598.68,541.32 598.37,540.11" fill="none" stroke="#505050" stroke-width="0.55" stroke-linejoin="round" opacity="0.95"/>
<polyline points="617.36,564.7 615.84,563.77 614.77,562.71 613.42,562 612.16,561.33 611.9,559.33 611.65,558.37 612.39,557.07 611.1,556.09 610.62,554.94 610.43,555.29 609.46,553.58 609.48,553.43 608.55,552.94 606.99,554.24 606.73,554.24 605.58,554.09 604.64,553.76 605.07,553.36 604.82,552.79 605.07,552.14 602.96,550.49 603.48,549.51 601.68,548.15 601.25,548.05 600.18,546.79 599.04,546.31 597.82,545.42 596.5,544.5 595.61,542.72" fill="none" stroke="#20a0e0" stroke-width="0.55" stroke-linejoin="round" opacity="0.95"/>
<polyline points="616.58,564.81 616.26,563.51 615.55,561.73 615.95,561.04 614.59,560.17 614.43,558.6 613.04,558.05 611.09,557.69 611.35,555.49 611.36,554.6 610.67,552.47 611.04,551.36 610.18,550.82 609.69,548.76 609.04,547.97 608.75,547.14 608.95,546.75 608.51,546.19 608.61,545.13 607.56,544.49 606.98,542.69 606.83,541.58 605.55,541.56 603.85,541.01 603.55,540.08 603.77,539.83 603.02,539.08 601.7,539.47 600.52,538.04 598.65,536.64" fill="none" stroke="#c0a000" stroke-width="0.55" stroke-linejoin="round" opacity="0.95"/>
<polyline points="617.68,564.07 617.68,562.37 617.05,561.33 616.42,560.97 614.97,559.81 612.87,558.69 611.95,557.69 611.02,556.98 611.68,557.02 610.31,556.97 609.7,555.36 610.13,554.7 609.74,554.15 608.83,552.69 606.9,551.72 605.57,550.42 605.29,550.22 604.33,549.96 601.8,549.54 600.46,549.19 598.78,547.36 597.99,545.65 598.15,544.47 599.15,543.11 598.41,542.49 597.32,541.17 596.56,539.93 595.97,539.62 594.57,538.76 593.34,538.45" fill="none" stroke="#ff6060" stroke-width="0.55" stroke-linejoin="round" opacity="0.95"/>
<polyline points="617.82,566.12 616.86,564.58 616.05,563.24 615.35,562.47 614.87,561.28 614.3,560.67 613.11,561.35 612.32,561.02 610.93,559.6 610.21,558.43 608.83,557.2 607.99,556.15 607.06,554.24 605.4,553.15 604.76,551.65 604.28,550.97 603.56,549.12 603.5,548.38 602.81,547.49 602.94,546.76 603.07,544.82 602.17,542.52 601.2,541.64 600.93,540.95 600.21,540.65 599.12,539.61 597.36,538.2 597.1,537.28 596.78,535.9 595.41,534.58" fill="none" stroke="#60c060" stroke-width="0.55" stroke-linejoin="round" opacity="0.95"/>
<polyline points="615.67,564.65 615.14,562.71 614.21,561.31 612.89,561.09 611.98,560.06 611.28,558.51 611.46,558.34 610.44,556.35 610.77,556.09 609.62,553.97 608.33,552.28 606.3,551.43 604.98,550.26 605.31,549 605.47,547.33 606.08,546.15 604.11,546.1 604.18,544.76 604.37,543.99 603.42,544.14 601.97,543.3 600.82,543.36 601.19,542.46 600.68,541.51 599.97,541.25 599.89,540.71 598.45,539.09 597.83,537.86 595.76,535.95 594.46,535.74" fill="none" stroke="#6060ff" stroke-width="0.55" stroke-linejoin="round" opacity="0.95"/>
<polyline points="618.74,565.05 618.16,564.24 617.72,564.21 618.35,564.28 617.3,562.3 616.64,562.12 616.15,559.96 615.63,559.84 615.23,558.87 614.06,557.95 611.88,556.89 611.48,556.04 610.47,554.44 610.41,552.83 609.43,551.58 610.14,549.93 608.93,549.15 607.91,548.53 607.36,546.69 607.91,545.98 608,545.54 606.54,545.87 605.36,543.9 604.95,542.79 605.15,543.17 604.42,542.36 604.78,541.34 602.99,541.58 602.65,540.68 601.05,540.73" fill="none" stroke="#a0a000" stroke-width="0.55" stroke-linejoin="round" opacity="0.95"/>
<polyline points="617.5,563.74 616.23,563.39 615.18,563.81 615.07,562.42 614.46,561.43 613.72,561.36 612.91,560.38 612.82,559.22 612.86,557.82 610.72,557.28 610.49,556.54 609.79,555.04 608.38,553.93 608.87,552.91 607.67,551.9 606.72,551.64 606.51,550.62 604.48,548.9 603.12,547.85 602.77,546.93 601.18,547.31 600.1,546.17 598.54,545.41 598.79,545 601.01,543.77 599.47,542.51 598.62,540.72 597.04,539.3 595.56,538.09 595.99,536.99" fill="none" stroke="#a040a0" stroke-width="0.55" stroke-linejoin="round" opacity="0.95"/>
<polyline points="617.51,564.89 615.69,564.43 614.5,562.39 613.86,562.07 612.22,561.12 610.63,560 609.07,559.63 608.91,559.74 609.82,559.18 607.98,557.82 608.02,556.02 607.65,555.43 606.78,554.33 606.67,552.73 606.43,551.2 604.06,550.51 604.16,549.77 603.36,549.18 602.52,548.56 600.29,547.32 599.85,546.84 597.59,546.03 595.91,544.43 594.94,544.41 593.64,542.33 592.7,541.86 591.69,541.6 591.51,541.48 591.13,539.89 591.01,538.99" fill="none" stroke="#40a0a0" stroke-width="0.55" stroke-linejoin="round" opacity="0.95"/>
<text x="668" y="532.6" font-size="10.5" font-weight="bold" text-anchor="end" fill="#111" font-family='"Liberation Sans", sans-serif' >1 W</text>
<text transform="translate(539.7,563.85) rotate(-90)" font-size="8.1" font-weight="bold" text-anchor="middle" font-family='"Liberation Sans", sans-serif' fill="#111">Y-Position</text>
<text x="617.8" y="629.9" font-size="8.0" font-weight="bold" text-anchor="middle" fill="#111" font-family='"Liberation Sans", sans-serif' >X-Position</text>
<text x="3.6" y="441.5" font-size="24" font-weight="normal" text-anchor="start" fill="#000" font-family='"Liberation Sans", sans-serif' >f</text>
<line x1="50.5" y1="449" x2="50.5" y2="599.9" stroke="#222" stroke-width="1.2" />
<line x1="50" y1="599.4" x2="236.8" y2="599.4" stroke="#222" stroke-width="1.2" />
<line x1="47.5" y1="589.6" x2="50.5" y2="589.6" stroke="#222" stroke-width="1" />
<text x="45.9" y="593.2" font-size="10" font-weight="bold" text-anchor="end" fill="#111" font-family='"Liberation Sans", sans-serif' >0</text>
<line x1="47.5" y1="554.5" x2="50.5" y2="554.5" stroke="#222" stroke-width="1" />
<text x="45.9" y="558.1" font-size="10" font-weight="bold" text-anchor="end" fill="#111" font-family='"Liberation Sans", sans-serif' >10</text>
<line x1="47.5" y1="519.4" x2="50.5" y2="519.4" stroke="#222" stroke-width="1" />
<text x="45.9" y="523" font-size="10" font-weight="bold" text-anchor="end" fill="#111" font-family='"Liberation Sans", sans-serif' >20</text>
<line x1="47.5" y1="484.3" x2="50.5" y2="484.3" stroke="#222" stroke-width="1" />
<text x="45.9" y="487.9" font-size="10" font-weight="bold" text-anchor="end" fill="#111" font-family='"Liberation Sans", sans-serif' >30</text>
<line x1="47.5" y1="449.2" x2="50.5" y2="449.2" stroke="#222" stroke-width="1" />
<text x="45.9" y="452.8" font-size="10" font-weight="bold" text-anchor="end" fill="#111" font-family='"Liberation Sans", sans-serif' >40</text>
<line x1="48.7" y1="572.05" x2="50.5" y2="572.05" stroke="#222" stroke-width="0.8" />
<line x1="48.7" y1="536.95" x2="50.5" y2="536.95" stroke="#222" stroke-width="0.8" />
<line x1="48.7" y1="501.85" x2="50.5" y2="501.85" stroke="#222" stroke-width="0.8" />
<line x1="48.7" y1="466.75" x2="50.5" y2="466.75" stroke="#222" stroke-width="0.8" />
<line x1="50.7" y1="599.4" x2="50.7" y2="602.4" stroke="#222" stroke-width="1" />
<text x="50.7" y="612.6" font-size="10" font-weight="bold" text-anchor="middle" fill="#111" font-family='"Liberation Sans", sans-serif' >0.0</text>
<line x1="84.74" y1="599.4" x2="84.74" y2="602.4" stroke="#222" stroke-width="1" />
<text x="84.74" y="612.6" font-size="10" font-weight="bold" text-anchor="middle" fill="#111" font-family='"Liberation Sans", sans-serif' >0.1</text>
<line x1="118.78" y1="599.4" x2="118.78" y2="602.4" stroke="#222" stroke-width="1" />
<text x="118.78" y="612.6" font-size="10" font-weight="bold" text-anchor="middle" fill="#111" font-family='"Liberation Sans", sans-serif' >0.2</text>
<line x1="152.82" y1="599.4" x2="152.82" y2="602.4" stroke="#222" stroke-width="1" />
<text x="152.82" y="612.6" font-size="10" font-weight="bold" text-anchor="middle" fill="#111" font-family='"Liberation Sans", sans-serif' >0.3</text>
<line x1="186.86" y1="599.4" x2="186.86" y2="602.4" stroke="#222" stroke-width="1" />
<text x="186.86" y="612.6" font-size="10" font-weight="bold" text-anchor="middle" fill="#111" font-family='"Liberation Sans", sans-serif' >0.4</text>
<line x1="220.9" y1="599.4" x2="220.9" y2="602.4" stroke="#222" stroke-width="1" />
<text x="220.9" y="612.6" font-size="10" font-weight="bold" text-anchor="middle" fill="#111" font-family='"Liberation Sans", sans-serif' >0.5</text>
<line x1="67.72" y1="599.4" x2="67.72" y2="601.2" stroke="#222" stroke-width="0.8" />
<line x1="101.76" y1="599.4" x2="101.76" y2="601.2" stroke="#222" stroke-width="0.8" />
<line x1="135.8" y1="599.4" x2="135.8" y2="601.2" stroke="#222" stroke-width="0.8" />
<line x1="169.84" y1="599.4" x2="169.84" y2="601.2" stroke="#222" stroke-width="0.8" />
<line x1="203.88" y1="599.4" x2="203.88" y2="601.2" stroke="#222" stroke-width="0.8" />
<polyline points="60.91,589.54 63.85,589.53 66.8,589.51 69.74,589.49 72.68,589.48 75.62,589.46 78.57,589.44 81.51,589.43 84.45,589.41 87.39,589.39 90.34,589.38 93.28,589.36 96.22,589.34 99.16,589.33 102.11,589.31 105.05,589.29 107.99,589.28 110.93,589.26 113.88,589.24 116.82,589.23 119.76,589.21 122.7,589.19 125.65,589.17 128.59,589.16 131.53,589.14 134.47,589.12 137.42,589.11 140.36,589.09 143.3,589.07 146.24,589.06 149.19,589.04 152.13,589.02 155.07,589.01 158.01,588.99 160.95,588.97 163.9,588.96 166.84,588.94 169.78,588.92 172.72,588.91 175.67,588.89 178.61,588.87 181.55,588.86 184.49,588.84 187.44,588.82 190.38,588.81 193.32,588.79 196.26,588.77 199.21,588.76 202.15,588.74 205.09,588.72 208.03,588.71 210.98,588.69 213.92,588.67 216.86,588.66 219.8,588.64 222.75,588.62 225.69,588.61 228.63,588.59 231.57,588.57 234.52,588.56" fill="none" stroke="#555555" stroke-width="0.9" />
<rect x="59.31" y="587.94" width="3.2" height="3.2" fill="#444444" stroke="none" stroke-width="1" />
<rect x="69.52" y="587.88" width="3.2" height="3.2" fill="#444444" stroke="none" stroke-width="1" />
<rect x="79.74" y="587.83" width="3.2" height="3.2" fill="#444444" stroke="none" stroke-width="1" />
<rect x="89.95" y="587.77" width="3.2" height="3.2" fill="#444444" stroke="none" stroke-width="1" />
<rect x="100.16" y="587.71" width="3.2" height="3.2" fill="#444444" stroke="none" stroke-width="1" />
<rect x="110.37" y="587.65" width="3.2" height="3.2" fill="#444444" stroke="none" stroke-width="1" />
<rect x="120.58" y="587.59" width="3.2" height="3.2" fill="#444444" stroke="none" stroke-width="1" />
<rect x="130.8" y="587.54" width="3.2" height="3.2" fill="#444444" stroke="none" stroke-width="1" />
<rect x="141.01" y="587.48" width="3.2" height="3.2" fill="#444444" stroke="none" stroke-width="1" />
<rect x="151.22" y="587.42" width="3.2" height="3.2" fill="#444444" stroke="none" stroke-width="1" />
<rect x="161.43" y="587.36" width="3.2" height="3.2" fill="#444444" stroke="none" stroke-width="1" />
<rect x="171.64" y="587.31" width="3.2" height="3.2" fill="#444444" stroke="none" stroke-width="1" />
<rect x="181.86" y="587.25" width="3.2" height="3.2" fill="#444444" stroke="none" stroke-width="1" />
<rect x="192.07" y="587.19" width="3.2" height="3.2" fill="#444444" stroke="none" stroke-width="1" />
<rect x="202.28" y="587.13" width="3.2" height="3.2" fill="#444444" stroke="none" stroke-width="1" />
<rect x="212.49" y="587.07" width="3.2" height="3.2" fill="#444444" stroke="none" stroke-width="1" />
<rect x="222.7" y="587.02" width="3.2" height="3.2" fill="#444444" stroke="none" stroke-width="1" />
<rect x="232.92" y="586.96" width="3.2" height="3.2" fill="#444444" stroke="none" stroke-width="1" />
<polyline points="60.91,589.52 63.85,589.49 66.8,589.46 69.74,589.43 72.68,589.39 75.62,589.35 78.57,589.31 81.51,589.26 84.45,589.22 87.39,589.17 90.34,589.11 93.28,589.06 96.22,589 99.16,588.94 102.11,588.88 105.05,588.81 107.99,588.74 110.93,588.67 113.88,588.6 116.82,588.52 119.76,588.44 122.7,588.36 125.65,588.28 128.59,588.19 131.53,588.1 134.47,588.01 137.42,587.92 140.36,587.82 143.3,587.72 146.24,587.62 149.19,587.51 152.13,587.4 155.07,587.29 158.01,587.18 160.95,587.06 163.9,586.94 166.84,586.82 169.78,586.7 172.72,586.57 175.67,586.44 178.61,586.31 181.55,586.18 184.49,586.04 187.44,585.9 190.38,585.76 193.32,585.61 196.26,585.46 199.21,585.31 202.15,585.16 205.09,585.01 208.03,584.85 210.98,584.69 213.92,584.52 216.86,584.36 219.8,584.19 222.75,584.02 225.69,583.84 228.63,583.67 231.57,583.49 234.52,583.3" fill="none" stroke="#ee4040" stroke-width="0.9" />
<circle cx="60.91" cy="589.52" r="1.8" fill="#ee3030"/>
<circle cx="71.12" cy="589.41" r="1.8" fill="#ee3030"/>
<circle cx="81.34" cy="589.27" r="1.8" fill="#ee3030"/>
<circle cx="91.55" cy="589.09" r="1.8" fill="#ee3030"/>
<circle cx="101.76" cy="588.89" r="1.8" fill="#ee3030"/>
<circle cx="111.97" cy="588.65" r="1.8" fill="#ee3030"/>
<circle cx="122.18" cy="588.38" r="1.8" fill="#ee3030"/>
<circle cx="132.4" cy="588.08" r="1.8" fill="#ee3030"/>
<circle cx="142.61" cy="587.74" r="1.8" fill="#ee3030"/>
<circle cx="152.82" cy="587.38" r="1.8" fill="#ee3030"/>
<circle cx="163.03" cy="586.98" r="1.8" fill="#ee3030"/>
<circle cx="173.24" cy="586.55" r="1.8" fill="#ee3030"/>
<circle cx="183.46" cy="586.09" r="1.8" fill="#ee3030"/>
<circle cx="193.67" cy="585.59" r="1.8" fill="#ee3030"/>
<circle cx="203.88" cy="585.07" r="1.8" fill="#ee3030"/>
<circle cx="214.09" cy="584.51" r="1.8" fill="#ee3030"/>
<circle cx="224.3" cy="583.92" r="1.8" fill="#ee3030"/>
<circle cx="234.52" cy="583.3" r="1.8" fill="#ee3030"/>
<polyline points="60.91,589.37 63.85,589.28 66.8,589.17 69.74,589.05 72.68,588.92 75.62,588.78 78.57,588.62 81.51,588.45 84.45,588.27 87.39,588.08 90.34,587.88 93.28,587.66 96.22,587.43 99.16,587.18 102.11,586.93 105.05,586.66 107.99,586.38 110.93,586.09 113.88,585.78 116.82,585.47 119.76,585.14 122.7,584.79 125.65,584.44 128.59,584.07 131.53,583.69 134.47,583.3 137.42,582.9 140.36,582.48 143.3,582.05 146.24,581.61 149.19,581.15 152.13,580.69 155.07,580.21 158.01,579.72 160.95,579.21 163.9,578.7 166.84,578.17 169.78,577.63 172.72,577.07 175.67,576.51 178.61,575.93 181.55,575.34 184.49,574.73 187.44,574.12 190.38,573.49 193.32,572.85 196.26,572.2 199.21,571.53 202.15,570.85 205.09,570.16 208.03,569.46 210.98,568.74 213.92,568.02 216.86,567.28 219.8,566.52 222.75,565.76 225.69,564.98 228.63,564.19 231.57,563.39 234.52,562.58" fill="none" stroke="#4477ee" stroke-width="0.9" />
<path d="M60.91,587.17 L63.11,590.97 L58.71,590.97 Z" fill="#3366ee"/>
<path d="M71.12,586.79 L73.32,590.59 L68.92,590.59 Z" fill="#3366ee"/>
<path d="M81.34,586.26 L83.54,590.06 L79.14,590.06 Z" fill="#3366ee"/>
<path d="M91.55,585.59 L93.75,589.39 L89.35,589.39 Z" fill="#3366ee"/>
<path d="M101.76,584.76 L103.96,588.56 L99.56,588.56 Z" fill="#3366ee"/>
<path d="M111.97,583.78 L114.17,587.58 L109.77,587.58 Z" fill="#3366ee"/>
<path d="M122.18,582.66 L124.38,586.46 L119.98,586.46 Z" fill="#3366ee"/>
<path d="M132.4,581.38 L134.6,585.18 L130.2,585.18 Z" fill="#3366ee"/>
<path d="M142.61,579.95 L144.81,583.75 L140.41,583.75 Z" fill="#3366ee"/>
<path d="M152.82,578.38 L155.02,582.18 L150.62,582.18 Z" fill="#3366ee"/>
<path d="M163.03,576.65 L165.23,580.45 L160.83,580.45 Z" fill="#3366ee"/>
<path d="M173.24,574.77 L175.44,578.57 L171.04,578.57 Z" fill="#3366ee"/>
<path d="M183.46,572.75 L185.66,576.55 L181.26,576.55 Z" fill="#3366ee"/>
<path d="M193.67,570.57 L195.87,574.37 L191.47,574.37 Z" fill="#3366ee"/>
<path d="M203.88,568.25 L206.08,572.05 L201.68,572.05 Z" fill="#3366ee"/>
<path d="M214.09,565.77 L216.29,569.57 L211.89,569.57 Z" fill="#3366ee"/>
<path d="M224.3,563.15 L226.5,566.95 L222.1,566.95 Z" fill="#3366ee"/>
<path d="M234.52,560.38 L236.72,564.18 L232.32,564.18 Z" fill="#3366ee"/>
<polyline points="60.91,588.9 63.85,588.56 66.8,588.16 69.74,587.69 72.68,587.17 75.62,586.58 78.57,585.93 81.51,585.21 84.45,584.44 87.39,583.6 90.34,582.7 93.28,581.74 96.22,580.72 99.16,579.63 102.11,578.49 105.05,577.28 107.99,576.01 110.93,574.67 113.88,573.28 116.82,571.82 119.76,570.3 122.7,568.72 125.65,567.08 128.59,565.37 131.53,563.6 134.47,561.77 137.42,559.88 140.36,557.93 143.3,555.91 146.24,553.83 149.19,551.69 152.13,549.49 155.07,547.23 158.01,544.9 160.95,542.51 163.9,540.06 166.84,537.55 169.78,534.98 172.72,532.34 175.67,529.64 178.61,526.88 181.55,524.06 184.49,521.17 187.44,518.23 190.38,515.22 193.32,512.15 196.26,509.02 199.21,505.82 202.15,502.56 205.09,499.24 208.03,495.86 210.98,492.42 213.92,488.92 216.86,485.35 219.8,481.72 222.75,478.03 225.69,474.27 228.63,470.46 231.57,466.58 234.52,462.64" fill="none" stroke="#66cc77" stroke-width="0.9" />
<path d="M60.91,591.1 L63.11,587.3 L58.71,587.3 Z" fill="#44bb55"/>
<path d="M71.12,589.65 L73.32,585.85 L68.92,585.85 Z" fill="#44bb55"/>
<path d="M81.34,587.46 L83.54,583.66 L79.14,583.66 Z" fill="#44bb55"/>
<path d="M91.55,584.51 L93.75,580.71 L89.35,580.71 Z" fill="#44bb55"/>
<path d="M101.76,580.83 L103.96,577.03 L99.56,577.03 Z" fill="#44bb55"/>
<path d="M111.97,576.39 L114.17,572.59 L109.77,572.59 Z" fill="#44bb55"/>
<path d="M122.18,571.2 L124.38,567.4 L119.98,567.4 Z" fill="#44bb55"/>
<path d="M132.4,565.27 L134.6,561.47 L130.2,561.47 Z" fill="#44bb55"/>
<path d="M142.61,558.59 L144.81,554.79 L140.41,554.79 Z" fill="#44bb55"/>
<path d="M152.82,551.16 L155.02,547.36 L150.62,547.36 Z" fill="#44bb55"/>
<path d="M163.03,542.99 L165.23,539.19 L160.83,539.19 Z" fill="#44bb55"/>
<path d="M173.24,534.07 L175.44,530.27 L171.04,530.27 Z" fill="#44bb55"/>
<path d="M183.46,524.4 L185.66,520.6 L181.26,520.6 Z" fill="#44bb55"/>
<path d="M193.67,513.98 L195.87,510.18 L191.47,510.18 Z" fill="#44bb55"/>
<path d="M203.88,502.82 L206.08,499.02 L201.68,499.02 Z" fill="#44bb55"/>
<path d="M214.09,490.91 L216.29,487.11 L211.89,487.11 Z" fill="#44bb55"/>
<path d="M224.3,478.25 L226.5,474.45 L222.1,474.45 Z" fill="#44bb55"/>
<path d="M234.52,464.84 L236.72,461.04 L232.32,461.04 Z" fill="#44bb55"/>
<rect x="62.82" y="453.42" width="3.36" height="3.36" fill="#444444" stroke="none" stroke-width="1" />
<text transform="translate(78.8,459) scale(1,1.14)" font-size="9.8" font-weight="bold" text-anchor="start" fill="#111" font-family='"Liberation Sans", sans-serif' >0 W</text>
<circle cx="64.5" cy="467.43" r="1.89" fill="#ee3030"/>
<text transform="translate(78.8,471.33) scale(1,1.14)" font-size="9.8" font-weight="bold" text-anchor="start" fill="#111" font-family='"Liberation Sans", sans-serif' >0.5 W</text>
<path d="M64.5,477.45 L66.81,481.44 L62.19,481.44 Z" fill="#3366ee"/>
<text transform="translate(78.8,483.66) scale(1,1.14)" font-size="9.8" font-weight="bold" text-anchor="start" fill="#111" font-family='"Liberation Sans", sans-serif' >0.75 W</text>
<path d="M64.5,494.4 L66.81,490.41 L62.19,490.41 Z" fill="#44bb55"/>
<text transform="translate(78.8,495.99) scale(1,1.14)" font-size="9.8" font-weight="bold" text-anchor="start" fill="#111" font-family='"Liberation Sans", sans-serif' >1 W</text>
<text x="165.7" y="458.8" font-size="10.6" font-weight="bold" fill="#3a8a2a" font-family='"Liberation Sans", sans-serif'>V<tspan font-size="7.4" dy="2.4">1 W</tspan><tspan dy="-2.4"> = 108.77 ± 11.87 μm s</tspan><tspan font-size="7" dy="-4">-1</tspan></text>
<text x="167.2" y="545.0" font-size="10.6" font-weight="bold" fill="#2020e6" font-family='"Liberation Sans", sans-serif'>V<tspan font-size="7.4" dy="2.4">0.75 W</tspan><tspan dy="-2.4"> = 48.68 ± 4.98 μm s</tspan><tspan font-size="7" dy="-4">-1</tspan></text>
<text x="166.1" y="559.7" font-size="10.6" font-weight="bold" fill="#f02020" font-family='"Liberation Sans", sans-serif'>V<tspan font-size="7.4" dy="2.4">0.5 W</tspan><tspan dy="-2.4"> = 22.46 ± 1.77 μm s</tspan><tspan font-size="7" dy="-4">-1</tspan></text>
<text x="238.7" y="593.0" font-size="10.6" font-weight="bold" fill="#111" font-family='"Liberation Sans", sans-serif'>Δr<tspan font-size="7" dy="-4">2</tspan><tspan dy="4"> = 4D(Δt)</tspan></text>
<rect x="62.9" y="499.9" width="64.2" height="63.8" fill="#000" stroke="none" stroke-width="1" />
<path d="M63,500 L72,500 L94,524 L84,537 Z" fill="#c04a14" filter="url(#blur1)" opacity="0.95"/>
<circle cx="86" cy="530" r="6" fill="#ff3010" filter="url(#blur1)" opacity="0.8"/>
<circle cx="80" cy="512" r="2.8" fill="#ff3010" filter="url(#blur1)" opacity="0.8"/>
<circle cx="83.4" cy="507.6" r="5.4" fill="url(#sph)" stroke="none" stroke-width="0.6"/>
<circle cx="96.5" cy="537" r="14.5" fill="url(#sph)" stroke="#b0b8b8" stroke-width="0.6"/>
<circle cx="86" cy="528.5" r="6.2" fill="none" stroke="#ff2a10" stroke-width="2" opacity="0.9" filter="url(#blur1)"/>
<circle cx="86" cy="528.5" r="5.2" fill="#d08060" opacity="0.8"/>
<circle cx="73.1" cy="554.6" r="5.2" fill="url(#sph)" stroke="none" stroke-width="0.6"/>
<path d="M78.5,553 L80.5,554.6 L78.5,556.2 Z" fill="#6aa8e8"/>
<path d="M115.4,553 L110.9,552.2 L112.2,550.9 L109.4,548.1 L110.9,546.6 L113.7,549.4 L115,548.1 Z" fill="#a8c8ff"/>
<text transform="translate(115.5,563.5) rotate(-57)" font-size="5.8" font-weight="bold" fill="#fff" font-family='"Liberation Sans", sans-serif'>Motion</text>
<text transform="translate(31.2,572) rotate(-90)" font-size="12.6" font-family='"Liberation Sans", sans-serif' fill="#111" font-weight="bold">MSD (<tspan font-family='"Liberation Serif", serif' font-weight="normal">×</tspan>100 <tspan font-family='"Liberation Serif", serif' font-weight="normal">μ</tspan>m<tspan font-size="8" dy="-5">2</tspan><tspan dy="5">)</tspan></text>
<text x="128.2" y="631.2" font-size="12.6" font-family='"Liberation Sans", sans-serif' fill="#111" font-weight="bold"><tspan font-weight="normal">Δ</tspan>t (s)</text>
<text x="-0.5" y="667.2" font-size="24" font-weight="normal" text-anchor="start" fill="#000" font-family='"Liberation Sans", sans-serif' >g</text>
<line x1="50.6" y1="655.2" x2="50.6" y2="808.1" stroke="#222" stroke-width="1.2" />
<line x1="50.1" y1="807.6" x2="240.6" y2="807.6" stroke="#222" stroke-width="1.2" />
<line x1="47.6" y1="796.7" x2="50.6" y2="796.7" stroke="#222" stroke-width="1" />
<text x="46" y="800.3" font-size="10" font-weight="bold" text-anchor="end" fill="#111" font-family='"Liberation Sans", sans-serif' >0</text>
<line x1="47.6" y1="749.5" x2="50.6" y2="749.5" stroke="#222" stroke-width="1" />
<text x="46" y="753.1" font-size="10" font-weight="bold" text-anchor="end" fill="#111" font-family='"Liberation Sans", sans-serif' >10</text>
<line x1="47.6" y1="702.3" x2="50.6" y2="702.3" stroke="#222" stroke-width="1" />
<text x="46" y="705.9" font-size="10" font-weight="bold" text-anchor="end" fill="#111" font-family='"Liberation Sans", sans-serif' >20</text>
<line x1="47.6" y1="655.1" x2="50.6" y2="655.1" stroke="#222" stroke-width="1" />
<text x="46" y="658.7" font-size="10" font-weight="bold" text-anchor="end" fill="#111" font-family='"Liberation Sans", sans-serif' >30</text>
<line x1="48.8" y1="773.1" x2="50.6" y2="773.1" stroke="#222" stroke-width="0.8" />
<line x1="48.8" y1="725.9" x2="50.6" y2="725.9" stroke="#222" stroke-width="0.8" />
<line x1="48.8" y1="678.7" x2="50.6" y2="678.7" stroke="#222" stroke-width="0.8" />
<line x1="50.9" y1="807.6" x2="50.9" y2="810.6" stroke="#222" stroke-width="1" />
<text x="50.9" y="820.8" font-size="10" font-weight="bold" text-anchor="middle" fill="#111" font-family='"Liberation Sans", sans-serif' >0.0</text>
<line x1="82.5" y1="807.6" x2="82.5" y2="810.6" stroke="#222" stroke-width="1" />
<text x="82.5" y="820.8" font-size="10" font-weight="bold" text-anchor="middle" fill="#111" font-family='"Liberation Sans", sans-serif' >0.1</text>
<line x1="114.1" y1="807.6" x2="114.1" y2="810.6" stroke="#222" stroke-width="1" />
<text x="114.1" y="820.8" font-size="10" font-weight="bold" text-anchor="middle" fill="#111" font-family='"Liberation Sans", sans-serif' >0.2</text>
<line x1="145.7" y1="807.6" x2="145.7" y2="810.6" stroke="#222" stroke-width="1" />
<text x="145.7" y="820.8" font-size="10" font-weight="bold" text-anchor="middle" fill="#111" font-family='"Liberation Sans", sans-serif' >0.3</text>
<line x1="177.3" y1="807.6" x2="177.3" y2="810.6" stroke="#222" stroke-width="1" />
<text x="177.3" y="820.8" font-size="10" font-weight="bold" text-anchor="middle" fill="#111" font-family='"Liberation Sans", sans-serif' >0.4</text>
<line x1="208.9" y1="807.6" x2="208.9" y2="810.6" stroke="#222" stroke-width="1" />
<text x="208.9" y="820.8" font-size="10" font-weight="bold" text-anchor="middle" fill="#111" font-family='"Liberation Sans", sans-serif' >0.5</text>
<line x1="240.5" y1="807.6" x2="240.5" y2="810.6" stroke="#222" stroke-width="1" />
<text x="240.5" y="820.8" font-size="10" font-weight="bold" text-anchor="middle" fill="#111" font-family='"Liberation Sans", sans-serif' >0.6</text>
<line x1="66.7" y1="807.6" x2="66.7" y2="809.4" stroke="#222" stroke-width="0.8" />
<line x1="98.3" y1="807.6" x2="98.3" y2="809.4" stroke="#222" stroke-width="0.8" />
<line x1="129.9" y1="807.6" x2="129.9" y2="809.4" stroke="#222" stroke-width="0.8" />
<line x1="161.5" y1="807.6" x2="161.5" y2="809.4" stroke="#222" stroke-width="0.8" />
<line x1="193.1" y1="807.6" x2="193.1" y2="809.4" stroke="#222" stroke-width="0.8" />
<line x1="224.7" y1="807.6" x2="224.7" y2="809.4" stroke="#222" stroke-width="0.8" />
<polyline points="60.38,795.96 63.11,795.63 65.84,795.25 68.57,794.82 71.31,794.33 74.04,793.79 76.77,793.2 79.5,792.56 82.23,791.86 84.96,791.11 87.7,790.32 90.43,789.46 93.16,788.56 95.89,787.6 98.62,786.6 101.35,785.54 104.08,784.42 106.82,783.26 109.55,782.04 112.28,780.77 115.01,779.45 117.74,778.08 120.47,776.65 123.21,775.17 125.94,773.64 128.67,772.06 131.4,770.43 134.13,768.74 136.86,767 139.59,765.21 142.33,763.37 145.06,761.47 147.79,759.52 150.52,757.52 153.25,755.47 155.98,753.37 158.71,751.21 161.45,749 164.18,746.74 166.91,744.43 169.64,742.06 172.37,739.64 175.1,737.17 177.84,734.65 180.57,732.08 183.3,729.45 186.03,726.77 188.76,724.04 191.49,721.26 194.22,718.43 196.96,715.54 199.69,712.6 202.42,709.61 205.15,706.56 207.88,703.47 210.61,700.32 213.35,697.12 216.08,693.87 218.81,690.56 221.54,687.2" fill="none" stroke="#111111" stroke-width="1.0" />
<polyline points="60.38,796.32 63.11,796.11 65.84,795.86 68.57,795.56 71.31,795.22 74.04,794.83 76.77,794.4 79.5,793.92 82.23,793.4 84.96,792.84 87.7,792.23 90.43,791.58 93.16,790.88 95.89,790.13 98.62,789.35 101.35,788.52 104.08,787.64 106.82,786.72 109.55,785.76 112.28,784.75 115.01,783.69 117.74,782.6 120.47,781.45 123.21,780.27 125.94,779.04 128.67,777.76 131.4,776.44 134.13,775.08 136.86,773.67 139.59,772.21 142.33,770.72 145.06,769.17 147.79,767.59 150.52,765.96 153.25,764.28 155.98,762.56 158.71,760.8 161.45,758.99 164.18,757.13 166.91,755.24 169.64,753.29 172.37,751.31 175.1,749.28 177.84,747.2 180.57,745.08 183.3,742.92 186.03,740.71 188.76,738.46 191.49,736.16 194.22,733.82 196.96,731.43 199.69,729 202.42,726.52 205.15,724 207.88,721.44 210.61,718.83 213.35,716.18 216.08,713.48 218.81,710.74 221.54,707.95" fill="none" stroke="#ee3333" stroke-width="1.0" />
<polyline points="60.38,796.04 63.11,795.74 65.84,795.38 68.57,794.98 71.31,794.52 74.04,794.01 76.77,793.46 79.5,792.85 82.23,792.19 84.96,791.48 87.7,790.72 90.43,789.91 93.16,789.04 95.89,788.13 98.62,787.17 101.35,786.15 104.08,785.09 106.82,783.97 109.55,782.8 112.28,781.59 115.01,780.32 117.74,779 120.47,777.63 123.21,776.21 125.94,774.74 128.67,773.21 131.4,771.64 134.13,770.02 136.86,768.34 139.59,766.62 142.33,764.84 145.06,763.01 147.79,761.13 150.52,759.2 153.25,757.23 155.98,755.19 158.71,753.11 161.45,750.98 164.18,748.8 166.91,746.57 169.64,744.28 172.37,741.95 175.1,739.56 177.84,737.12 180.57,734.64 183.3,732.1 186.03,729.51 188.76,726.87 191.49,724.18 194.22,721.44 196.96,718.65 199.69,715.8 202.42,712.91 205.15,709.96 207.88,706.97 210.61,703.92 213.35,700.83 216.08,697.68 218.81,694.48 221.54,691.23" fill="none" stroke="#3a6ee8" stroke-width="1.0" />
<polyline points="60.38,795.94 63.11,795.6 65.84,795.2 68.57,794.74 71.31,794.23 74.04,793.66 76.77,793.04 79.5,792.36 82.23,791.63 84.96,790.84 87.7,790 90.43,789.09 93.16,788.14 95.89,787.13 98.62,786.06 101.35,784.93 104.08,783.75 106.82,782.52 109.55,781.23 112.28,779.88 115.01,778.48 117.74,777.02 120.47,775.51 123.21,773.94 125.94,772.31 128.67,770.63 131.4,768.89 134.13,767.1 136.86,765.25 139.59,763.35 142.33,761.39 145.06,759.38 147.79,757.3 150.52,755.18 153.25,752.99 155.98,750.76 158.71,748.46 161.45,746.11 164.18,743.71 166.91,741.25 169.64,738.73 172.37,736.16 175.1,733.53 177.84,730.84 180.57,728.1 183.3,725.31 186.03,722.46 188.76,719.55 191.49,716.59 194.22,713.57 196.96,710.5 199.69,707.37 202.42,704.18 205.15,700.94 207.88,697.64 210.61,694.29 213.35,690.88 216.08,687.42 218.81,683.9 221.54,680.32" fill="none" stroke="#66c070" stroke-width="1.0" />
<polyline points="60.38,796.56 63.11,796.52 65.84,796.48 68.57,796.44 71.31,796.4 74.04,796.35 76.77,796.31 79.5,796.27 82.23,796.23 84.96,796.19 87.7,796.15 90.43,796.11 93.16,796.07 95.89,796.03 98.62,795.99 101.35,795.95 104.08,795.91 106.82,795.86 109.55,795.82 112.28,795.78 115.01,795.74 117.74,795.7 120.47,795.66 123.21,795.62 125.94,795.58 128.67,795.54 131.4,795.5 134.13,795.46 136.86,795.42 139.59,795.38 142.33,795.33 145.06,795.29 147.79,795.25 150.52,795.21 153.25,795.17 155.98,795.13 158.71,795.09 161.45,795.05 164.18,795.01 166.91,794.97 169.64,794.93 172.37,794.89 175.1,794.84 177.84,794.8 180.57,794.76 183.3,794.72 186.03,794.68 188.76,794.64 191.49,794.6 194.22,794.56 196.96,794.52 199.69,794.48 202.42,794.44 205.15,794.4 207.88,794.36 210.61,794.31 213.35,794.27 216.08,794.23 218.81,794.19 221.54,794.15" fill="none" stroke="#b070f0" stroke-width="1.0" />
<polyline points="60.38,796.56 63.11,796.52 65.84,796.48 68.57,796.44 71.31,796.4 74.04,796.35 76.77,796.31 79.5,796.27 82.23,796.23 84.96,796.19 87.7,796.15 90.43,796.11 93.16,796.07 95.89,796.03 98.62,795.99 101.35,795.95 104.08,795.91 106.82,795.86 109.55,795.82 112.28,795.78 115.01,795.74 117.74,795.7 120.47,795.66 123.21,795.62 125.94,795.58 128.67,795.54 131.4,795.5 134.13,795.46 136.86,795.42 139.59,795.38 142.33,795.33 145.06,795.29 147.79,795.25 150.52,795.21 153.25,795.17 155.98,795.13 158.71,795.09 161.45,795.05 164.18,795.01 166.91,794.97 169.64,794.93 172.37,794.89 175.1,794.84 177.84,794.8 180.57,794.76 183.3,794.72 186.03,794.68 188.76,794.64 191.49,794.6 194.22,794.56 196.96,794.52 199.69,794.48 202.42,794.44 205.15,794.4 207.88,794.36 210.61,794.31 213.35,794.27 216.08,794.23 218.81,794.19 221.54,794.15" fill="none" stroke="#c89a20" stroke-width="1.0" />
<polyline points="60.38,796.56 63.11,796.52 65.84,796.48 68.57,796.44 71.31,796.4 74.04,796.35 76.77,796.31 79.5,796.27 82.23,796.23 84.96,796.19 87.7,796.15 90.43,796.11 93.16,796.07 95.89,796.03 98.62,795.99 101.35,795.95 104.08,795.91 106.82,795.86 109.55,795.82 112.28,795.78 115.01,795.74 117.74,795.7 120.47,795.66 123.21,795.62 125.94,795.58 128.67,795.54 131.4,795.5 134.13,795.46 136.86,795.42 139.59,795.38 142.33,795.33 145.06,795.29 147.79,795.25 150.52,795.21 153.25,795.17 155.98,795.13 158.71,795.09 161.45,795.05 164.18,795.01 166.91,794.97 169.64,794.93 172.37,794.89 175.1,794.84 177.84,794.8 180.57,794.76 183.3,794.72 186.03,794.68 188.76,794.64 191.49,794.6 194.22,794.56 196.96,794.52 199.69,794.48 202.42,794.44 205.15,794.4 207.88,794.36 210.61,794.31 213.35,794.27 216.08,794.23 218.81,794.19 221.54,794.15" fill="none" stroke="#40e0e0" stroke-width="1.0" />
<polyline points="60.38,796.56 63.11,796.52 65.84,796.48 68.57,796.44 71.31,796.4 74.04,796.35 76.77,796.31 79.5,796.27 82.23,796.23 84.96,796.19 87.7,796.15 90.43,796.11 93.16,796.07 95.89,796.03 98.62,795.99 101.35,795.95 104.08,795.91 106.82,795.86 109.55,795.82 112.28,795.78 115.01,795.74 117.74,795.7 120.47,795.66 123.21,795.62 125.94,795.58 128.67,795.54 131.4,795.5 134.13,795.46 136.86,795.42 139.59,795.38 142.33,795.33 145.06,795.29 147.79,795.25 150.52,795.21 153.25,795.17 155.98,795.13 158.71,795.09 161.45,795.05 164.18,795.01 166.91,794.97 169.64,794.93 172.37,794.89 175.1,794.84 177.84,794.8 180.57,794.76 183.3,794.72 186.03,794.68 188.76,794.64 191.49,794.6 194.22,794.56 196.96,794.52 199.69,794.48 202.42,794.44 205.15,794.4 207.88,794.36 210.61,794.31 213.35,794.27 216.08,794.23 218.81,794.19 221.54,794.15" fill="none" stroke="#7a4a4a" stroke-width="1.0" />
<rect x="58.86" y="794.44" width="3.04" height="3.04" fill="#333333" stroke="none" stroke-width="1" />
<rect x="68.34" y="793.07" width="3.04" height="3.04" fill="#333333" stroke="none" stroke-width="1" />
<rect x="77.82" y="791.08" width="3.04" height="3.04" fill="#333333" stroke="none" stroke-width="1" />
<rect x="87.3" y="788.45" width="3.04" height="3.04" fill="#333333" stroke="none" stroke-width="1" />
<rect x="96.78" y="785.2" width="3.04" height="3.04" fill="#333333" stroke="none" stroke-width="1" />
<rect x="106.26" y="781.31" width="3.04" height="3.04" fill="#333333" stroke="none" stroke-width="1" />
<rect x="115.74" y="776.8" width="3.04" height="3.04" fill="#333333" stroke="none" stroke-width="1" />
<rect x="125.22" y="771.66" width="3.04" height="3.04" fill="#333333" stroke="none" stroke-width="1" />
<rect x="134.7" y="765.89" width="3.04" height="3.04" fill="#333333" stroke="none" stroke-width="1" />
<rect x="144.18" y="759.5" width="3.04" height="3.04" fill="#333333" stroke="none" stroke-width="1" />
<rect x="153.66" y="752.47" width="3.04" height="3.04" fill="#333333" stroke="none" stroke-width="1" />
<rect x="163.14" y="744.82" width="3.04" height="3.04" fill="#333333" stroke="none" stroke-width="1" />
<rect x="172.62" y="736.53" width="3.04" height="3.04" fill="#333333" stroke="none" stroke-width="1" />
<rect x="182.1" y="727.62" width="3.04" height="3.04" fill="#333333" stroke="none" stroke-width="1" />
<rect x="191.58" y="718.08" width="3.04" height="3.04" fill="#333333" stroke="none" stroke-width="1" />
<rect x="201.06" y="707.91" width="3.04" height="3.04" fill="#333333" stroke="none" stroke-width="1" />
<rect x="210.54" y="697.11" width="3.04" height="3.04" fill="#333333" stroke="none" stroke-width="1" />
<rect x="220.02" y="685.68" width="3.04" height="3.04" fill="#333333" stroke="none" stroke-width="1" />
<circle cx="60.38" cy="796.32" r="1.71" fill="#ee3333"/>
<circle cx="69.86" cy="795.4" r="1.71" fill="#ee3333"/>
<circle cx="79.34" cy="793.95" r="1.71" fill="#ee3333"/>
<circle cx="88.82" cy="791.96" r="1.71" fill="#ee3333"/>
<circle cx="98.3" cy="789.44" r="1.71" fill="#ee3333"/>
<circle cx="107.78" cy="786.39" r="1.71" fill="#ee3333"/>
<circle cx="117.26" cy="782.79" r="1.71" fill="#ee3333"/>
<circle cx="126.74" cy="778.67" r="1.71" fill="#ee3333"/>
<circle cx="136.22" cy="774" r="1.71" fill="#ee3333"/>
<circle cx="145.7" cy="768.8" r="1.71" fill="#ee3333"/>
<circle cx="155.18" cy="763.07" r="1.71" fill="#ee3333"/>
<circle cx="164.66" cy="756.8" r="1.71" fill="#ee3333"/>
<circle cx="174.14" cy="750" r="1.71" fill="#ee3333"/>
<circle cx="183.62" cy="742.66" r="1.71" fill="#ee3333"/>
<circle cx="193.1" cy="734.79" r="1.71" fill="#ee3333"/>
<circle cx="202.58" cy="726.38" r="1.71" fill="#ee3333"/>
<circle cx="212.06" cy="717.43" r="1.71" fill="#ee3333"/>
<circle cx="221.54" cy="707.95" r="1.71" fill="#ee3333"/>
<path d="M60.38,793.95 L62.47,797.56 L58.29,797.56 Z" fill="#3a6ee8"/>
<path d="M69.86,792.68 L71.95,796.29 L67.77,796.29 Z" fill="#3a6ee8"/>
<path d="M79.34,790.8 L81.43,794.41 L77.25,794.41 Z" fill="#3a6ee8"/>
<path d="M88.82,788.3 L90.91,791.91 L86.73,791.91 Z" fill="#3a6ee8"/>
<path d="M98.3,785.19 L100.39,788.8 L96.21,788.8 Z" fill="#3a6ee8"/>
<path d="M107.78,781.48 L109.87,785.09 L105.69,785.09 Z" fill="#3a6ee8"/>
<path d="M117.26,777.15 L119.35,780.76 L115.17,780.76 Z" fill="#3a6ee8"/>
<path d="M126.74,772.2 L128.83,775.81 L124.65,775.81 Z" fill="#3a6ee8"/>
<path d="M136.22,766.65 L138.31,770.26 L134.13,770.26 Z" fill="#3a6ee8"/>
<path d="M145.7,760.48 L147.79,764.09 L143.61,764.09 Z" fill="#3a6ee8"/>
<path d="M155.18,753.71 L157.27,757.32 L153.09,757.32 Z" fill="#3a6ee8"/>
<path d="M164.66,746.32 L166.75,749.93 L162.57,749.93 Z" fill="#3a6ee8"/>
<path d="M174.14,738.32 L176.23,741.93 L172.05,741.93 Z" fill="#3a6ee8"/>
<path d="M183.62,729.71 L185.71,733.32 L181.53,733.32 Z" fill="#3a6ee8"/>
<path d="M193.1,720.48 L195.19,724.09 L191.01,724.09 Z" fill="#3a6ee8"/>
<path d="M202.58,710.65 L204.67,714.26 L200.49,714.26 Z" fill="#3a6ee8"/>
<path d="M212.06,700.2 L214.15,703.81 L209.97,703.81 Z" fill="#3a6ee8"/>
<path d="M221.54,689.14 L223.63,692.75 L219.45,692.75 Z" fill="#3a6ee8"/>
<path d="M60.38,798.03 L62.47,794.42 L58.29,794.42 Z" fill="#44bb55"/>
<path d="M69.86,796.6 L71.95,792.99 L67.77,792.99 Z" fill="#44bb55"/>
<path d="M79.34,794.5 L81.43,790.89 L77.25,790.89 Z" fill="#44bb55"/>
<path d="M88.82,791.72 L90.91,788.11 L86.73,788.11 Z" fill="#44bb55"/>
<path d="M98.3,788.28 L100.39,784.67 L96.21,784.67 Z" fill="#44bb55"/>
<path d="M107.78,784.16 L109.87,780.55 L105.69,780.55 Z" fill="#44bb55"/>
<path d="M117.26,779.37 L119.35,775.76 L115.17,775.76 Z" fill="#44bb55"/>
<path d="M126.74,773.91 L128.83,770.3 L124.65,770.3 Z" fill="#44bb55"/>
<path d="M136.22,767.78 L138.31,764.17 L134.13,764.17 Z" fill="#44bb55"/>
<path d="M145.7,760.98 L147.79,757.37 L143.61,757.37 Z" fill="#44bb55"/>
<path d="M155.18,753.51 L157.27,749.9 L153.09,749.9 Z" fill="#44bb55"/>
<path d="M164.66,745.37 L166.75,741.76 L162.57,741.76 Z" fill="#44bb55"/>
<path d="M174.14,736.55 L176.23,732.94 L172.05,732.94 Z" fill="#44bb55"/>
<path d="M183.62,727.07 L185.71,723.46 L181.53,723.46 Z" fill="#44bb55"/>
<path d="M193.1,716.91 L195.19,713.3 L191.01,713.3 Z" fill="#44bb55"/>
<path d="M202.58,706.08 L204.67,702.47 L200.49,702.47 Z" fill="#44bb55"/>
<path d="M212.06,694.58 L214.15,690.97 L209.97,690.97 Z" fill="#44bb55"/>
<path d="M221.54,682.41 L223.63,678.8 L219.45,678.8 Z" fill="#44bb55"/>
<path d="M60.38,794.47 L62.28,796.56 L60.38,798.65 L58.48,796.56 Z" fill="#b060f0"/>
<path d="M69.86,794.33 L71.76,796.42 L69.86,798.51 L67.96,796.42 Z" fill="#b060f0"/>
<path d="M79.34,794.19 L81.24,796.28 L79.34,798.37 L77.44,796.28 Z" fill="#b060f0"/>
<path d="M88.82,794.04 L90.72,796.13 L88.82,798.22 L86.92,796.13 Z" fill="#b060f0"/>
<path d="M98.3,793.9 L100.2,795.99 L98.3,798.08 L96.4,795.99 Z" fill="#b060f0"/>
<path d="M107.78,793.76 L109.68,795.85 L107.78,797.94 L105.88,795.85 Z" fill="#b060f0"/>
<path d="M117.26,793.62 L119.16,795.71 L117.26,797.8 L115.36,795.71 Z" fill="#b060f0"/>
<path d="M126.74,793.48 L128.64,795.57 L126.74,797.66 L124.84,795.57 Z" fill="#b060f0"/>
<path d="M136.22,793.34 L138.12,795.43 L136.22,797.52 L134.32,795.43 Z" fill="#b060f0"/>
<path d="M145.7,793.19 L147.6,795.28 L145.7,797.37 L143.8,795.28 Z" fill="#b060f0"/>
<path d="M155.18,793.05 L157.08,795.14 L155.18,797.23 L153.28,795.14 Z" fill="#b060f0"/>
<path d="M164.66,792.91 L166.56,795 L164.66,797.09 L162.76,795 Z" fill="#b060f0"/>
<path d="M174.14,792.77 L176.04,794.86 L174.14,796.95 L172.24,794.86 Z" fill="#b060f0"/>
<path d="M183.62,792.63 L185.52,794.72 L183.62,796.81 L181.72,794.72 Z" fill="#b060f0"/>
<path d="M193.1,792.49 L195,794.58 L193.1,796.67 L191.2,794.58 Z" fill="#b060f0"/>
<path d="M202.58,792.34 L204.48,794.43 L202.58,796.52 L200.68,794.43 Z" fill="#b060f0"/>
<path d="M212.06,792.2 L213.96,794.29 L212.06,796.38 L210.16,794.29 Z" fill="#b060f0"/>
<path d="M221.54,792.06 L223.44,794.15 L221.54,796.24 L219.64,794.15 Z" fill="#b060f0"/>
<path d="M58.29,796.56 L61.9,794.47 L61.9,798.65 Z" fill="#c89a20"/>
<path d="M67.77,796.42 L71.38,794.33 L71.38,798.51 Z" fill="#c89a20"/>
<path d="M77.25,796.28 L80.86,794.19 L80.86,798.37 Z" fill="#c89a20"/>
<path d="M86.73,796.13 L90.34,794.04 L90.34,798.22 Z" fill="#c89a20"/>
<path d="M96.21,795.99 L99.82,793.9 L99.82,798.08 Z" fill="#c89a20"/>
<path d="M105.69,795.85 L109.3,793.76 L109.3,797.94 Z" fill="#c89a20"/>
<path d="M115.17,795.71 L118.78,793.62 L118.78,797.8 Z" fill="#c89a20"/>
<path d="M124.65,795.57 L128.26,793.48 L128.26,797.66 Z" fill="#c89a20"/>
<path d="M134.13,795.43 L137.74,793.34 L137.74,797.52 Z" fill="#c89a20"/>
<path d="M143.61,795.28 L147.22,793.19 L147.22,797.37 Z" fill="#c89a20"/>
<path d="M153.09,795.14 L156.7,793.05 L156.7,797.23 Z" fill="#c89a20"/>
<path d="M162.57,795 L166.18,792.91 L166.18,797.09 Z" fill="#c89a20"/>
<path d="M172.05,794.86 L175.66,792.77 L175.66,796.95 Z" fill="#c89a20"/>
<path d="M181.53,794.72 L185.14,792.63 L185.14,796.81 Z" fill="#c89a20"/>
<path d="M191.01,794.58 L194.62,792.49 L194.62,796.67 Z" fill="#c89a20"/>
<path d="M200.49,794.43 L204.1,792.34 L204.1,796.52 Z" fill="#c89a20"/>
<path d="M209.97,794.29 L213.58,792.2 L213.58,796.38 Z" fill="#c89a20"/>
<path d="M219.45,794.15 L223.06,792.06 L223.06,796.24 Z" fill="#c89a20"/>
<path d="M62.47,796.56 L58.86,794.47 L58.86,798.65 Z" fill="#40e0e0"/>
<path d="M71.95,796.42 L68.34,794.33 L68.34,798.51 Z" fill="#40e0e0"/>
<path d="M81.43,796.28 L77.82,794.19 L77.82,798.37 Z" fill="#40e0e0"/>
<path d="M90.91,796.13 L87.3,794.04 L87.3,798.22 Z" fill="#40e0e0"/>
<path d="M100.39,795.99 L96.78,793.9 L96.78,798.08 Z" fill="#40e0e0"/>
<path d="M109.87,795.85 L106.26,793.76 L106.26,797.94 Z" fill="#40e0e0"/>
<path d="M119.35,795.71 L115.74,793.62 L115.74,797.8 Z" fill="#40e0e0"/>
<path d="M128.83,795.57 L125.22,793.48 L125.22,797.66 Z" fill="#40e0e0"/>
<path d="M138.31,795.43 L134.7,793.34 L134.7,797.52 Z" fill="#40e0e0"/>
<path d="M147.79,795.28 L144.18,793.19 L144.18,797.37 Z" fill="#40e0e0"/>
<path d="M157.27,795.14 L153.66,793.05 L153.66,797.23 Z" fill="#40e0e0"/>
<path d="M166.75,795 L163.14,792.91 L163.14,797.09 Z" fill="#40e0e0"/>
<path d="M176.23,794.86 L172.62,792.77 L172.62,796.95 Z" fill="#40e0e0"/>
<path d="M185.71,794.72 L182.1,792.63 L182.1,796.81 Z" fill="#40e0e0"/>
<path d="M195.19,794.58 L191.58,792.49 L191.58,796.67 Z" fill="#40e0e0"/>
<path d="M204.67,794.43 L201.06,792.34 L201.06,796.52 Z" fill="#40e0e0"/>
<path d="M214.15,794.29 L210.54,792.2 L210.54,796.38 Z" fill="#40e0e0"/>
<path d="M223.63,794.15 L220.02,792.06 L220.02,796.24 Z" fill="#40e0e0"/>
<circle cx="60.38" cy="796.56" r="1.71" fill="#7a4a4a"/>
<circle cx="69.86" cy="796.42" r="1.71" fill="#7a4a4a"/>
<circle cx="79.34" cy="796.28" r="1.71" fill="#7a4a4a"/>
<circle cx="88.82" cy="796.13" r="1.71" fill="#7a4a4a"/>
<circle cx="98.3" cy="795.99" r="1.71" fill="#7a4a4a"/>
<circle cx="107.78" cy="795.85" r="1.71" fill="#7a4a4a"/>
<circle cx="117.26" cy="795.71" r="1.71" fill="#7a4a4a"/>
<circle cx="126.74" cy="795.57" r="1.71" fill="#7a4a4a"/>
<circle cx="136.22" cy="795.43" r="1.71" fill="#7a4a4a"/>
<circle cx="145.7" cy="795.28" r="1.71" fill="#7a4a4a"/>
<circle cx="155.18" cy="795.14" r="1.71" fill="#7a4a4a"/>
<circle cx="164.66" cy="795" r="1.71" fill="#7a4a4a"/>
<circle cx="174.14" cy="794.86" r="1.71" fill="#7a4a4a"/>
<circle cx="183.62" cy="794.72" r="1.71" fill="#7a4a4a"/>
<circle cx="193.1" cy="794.58" r="1.71" fill="#7a4a4a"/>
<circle cx="202.58" cy="794.43" r="1.71" fill="#7a4a4a"/>
<circle cx="212.06" cy="794.29" r="1.71" fill="#7a4a4a"/>
<circle cx="221.54" cy="794.15" r="1.71" fill="#7a4a4a"/>
<polyline points="60.38,796.56 65.94,796.48 71.49,796.39 77.05,796.31 82.61,796.23 88.17,796.14 93.72,796.06 99.28,795.98 104.84,795.89 110.4,795.81 115.95,795.73 121.51,795.65 127.07,795.56 132.62,795.48 138.18,795.4 143.74,795.31 149.3,795.23 154.85,795.15 160.41,795.06 165.97,794.98 171.52,794.9 177.08,794.82 182.64,794.73 188.2,794.65 193.75,794.57 199.31,794.48 204.87,794.4 210.43,794.32 215.98,794.23 221.54,794.15" fill="none" stroke="#b070f0" stroke-width="1.1" />
<rect x="61.32" y="659.22" width="3.36" height="3.36" fill="#333333" stroke="none" stroke-width="1" />
<text x="75.9" y="664.3" font-size="9.3" font-weight="bold" text-anchor="start" fill="#111" font-family='"Liberation Sans", sans-serif' >Laser on-1</text>
<circle cx="63" cy="672.75" r="1.89" fill="#ee3333"/>
<text x="75.9" y="676.15" font-size="9.3" font-weight="bold" text-anchor="start" fill="#111" font-family='"Liberation Sans", sans-serif' >Laser on-2</text>
<path d="M63,682.29 L65.31,686.28 L60.69,686.28 Z" fill="#3a6ee8"/>
<text x="75.9" y="688" font-size="9.3" font-weight="bold" text-anchor="start" fill="#111" font-family='"Liberation Sans", sans-serif' >Laser on-3</text>
<path d="M63,698.76 L65.31,694.77 L60.69,694.77 Z" fill="#44bb55"/>
<text x="75.9" y="699.85" font-size="9.3" font-weight="bold" text-anchor="start" fill="#111" font-family='"Liberation Sans", sans-serif' >Laser on-4</text>
<path d="M63,705.99 L65.1,708.3 L63,710.61 L60.9,708.3 Z" fill="#b060f0"/>
<text x="75.9" y="711.7" font-size="9.3" font-weight="bold" text-anchor="start" fill="#111" font-family='"Liberation Sans", sans-serif' >Laser off-1</text>
<path d="M60.69,720.15 L64.68,717.84 L64.68,722.46 Z" fill="#c89a20"/>
<text x="75.9" y="723.55" font-size="9.3" font-weight="bold" text-anchor="start" fill="#111" font-family='"Liberation Sans", sans-serif' >Laser off-2</text>
<path d="M65.31,732 L61.32,729.69 L61.32,734.31 Z" fill="#40e0e0"/>
<text x="75.9" y="735.4" font-size="9.3" font-weight="bold" text-anchor="start" fill="#111" font-family='"Liberation Sans", sans-serif' >Laser off-3</text>
<circle cx="63" cy="743.85" r="1.89" fill="#7a4a4a"/>
<text x="75.9" y="747.25" font-size="9.3" font-weight="bold" text-anchor="start" fill="#111" font-family='"Liberation Sans", sans-serif' >Laser off-4</text>
<text transform="translate(30.0,779) rotate(-90)" font-size="12.6" font-family='"Liberation Sans", sans-serif' fill="#111" font-weight="bold">MSD <tspan font-family='"Liberation Serif", serif' font-weight="normal" font-size="13.5">(×100 μm<tspan font-size="8.5" dy="-5.5">2</tspan><tspan dy="5.5">)</tspan></tspan></text>
<text x="129.4" y="839.1" font-size="12.6" font-family='"Liberation Sans", sans-serif' fill="#111" font-weight="bold">Δt (s)</text>
<path d="M251,650.5 L255,650.5 L255,729.8 L251,729.8" fill="none" stroke="#4cc65a" stroke-width="1.8"/>
<path d="M250.5,737.8 L254.2,737.8 L254.2,817.6 L250.5,817.6" fill="none" stroke="#f22a22" stroke-width="1.8"/>
<rect x="265.5" y="650.6" width="417.6" height="78.5" fill="#000" stroke="#4cc65a" stroke-width="3" />
<rect x="265.5" y="738.1" width="417.6" height="78.6" fill="#000" stroke="#f22a22" stroke-width="3" />
<path d="M266,671 L292,681 L292,698 L266,709 Z" fill="url(#cone2)" filter="url(#blur2)"/>
<circle cx="293.8" cy="689.6" r="12" fill="url(#glow3)" filter="url(#blur1)"/>
<circle cx="315.4" cy="690.5" r="20.1" fill="url(#sph)" stroke="#b4ccd8" stroke-width="0.9"/>
<circle cx="296" cy="689.6" r="9" fill="#ff2020" opacity="0.35" filter="url(#blur2)"/>
<circle cx="293.8" cy="689.4" r="5.5" fill="url(#capp)" stroke="#c09ab0" stroke-width="0.4"/>
<circle cx="376.5" cy="695.8" r="11" fill="url(#glow3)" filter="url(#blur1)"/>
<circle cx="399.1" cy="695.8" r="20.3" fill="url(#sph)" stroke="#b4ccd8" stroke-width="0.9"/>
<circle cx="376.5" cy="695.8" r="5.5" fill="url(#cap)" stroke="#7ab0d0" stroke-width="0.4"/>
<path d="M336.2,682.2 C346,681 355,686 365,698" fill="none" stroke="#fff" stroke-width="1.7" stroke-dasharray="1.6,2.1"/>
<path d="M362.5,695 L368.5,699.5 L362,701 Z" fill="#f4d8dc"/>
<circle cx="297.4" cy="769.4" r="19.8" fill="url(#sph)" stroke="#a8b8c0" stroke-width="0.8"/>
<circle cx="275.6" cy="768.5" r="5.5" fill="url(#cap)" stroke="#7ab0d0" stroke-width="0.4"/>
<circle cx="340.4" cy="789.4" r="20.4" fill="url(#sph)" stroke="#a8b8c0" stroke-width="0.8"/>
<circle cx="319.7" cy="788.8" r="5.5" fill="url(#cap)" stroke="#7ab0d0" stroke-width="0.4"/>
<rect x="424.8" y="659.9" width="61.7" height="61.3" fill="#fff" stroke="none" stroke-width="1" />
<line x1="456.1" y1="675.2" x2="456.1" y2="707.2" stroke="#333" stroke-width="0.75" stroke-dasharray="1,0.7"/>
<line x1="439.1" y1="691.2" x2="473.1" y2="691.2" stroke="#333" stroke-width="0.75" stroke-dasharray="1,0.7"/>
<polyline points="456.26,691.62 454.15,692.98 451.68,693.47 450.49,694.97 448.99,697.5 446.31,698.16 443.91,700.04 440.66,700.65 439.23,700.54 437.72,703.01 435.98,703.5 433.54,703.86 431.4,705.81 430.15,705.15" fill="none" stroke="#e6194b" stroke-width="0.5" />
<polyline points="455.81,689.2 453.75,690.66 451.52,691.63 450.06,691.49 447.58,692.85 448.14,693.28 446.56,695.72 444.96,697.46 443.76,697.03 441.95,697.7 440.99,699.08 438.98,700.27 435.74,702.06 432.2,702.94" fill="none" stroke="#3cb44b" stroke-width="0.5" />
<polyline points="456.12,690.51 454.76,692.87 452.01,694.95 449.55,695.7 447.48,695.78 446.9,697.37 445.49,697.19 444.13,697.4 443.35,696.88 442.04,696.54 438.92,697.66 437.72,699.52 435.48,700.01 434.33,699.99" fill="none" stroke="#4363d8" stroke-width="0.5" />
<polyline points="456.49,691.29 455.74,690.27 454.35,692.42 452.24,691.72 451.49,692.53 450.72,693.46 448.59,693.64 445.85,696.15 443.32,696.22 441,696.95 440.41,696.89 439.03,697.85 439.08,698.03 437.55,699.75" fill="none" stroke="#f58231" stroke-width="0.5" />
<polyline points="456.21,690.32 454.3,691.74 453.47,693.75 451.27,694.22 450.31,694.22 448.11,694.53 445.05,695.98 442.12,696.7 441.38,699.21 438.5,699.67 436.02,699.8 435.32,701.75 433.95,702.17 432.79,703.54" fill="none" stroke="#911eb4" stroke-width="0.5" />
<polyline points="457.22,691.16 455.3,691.38 454.85,692.83 451.29,694 450.35,693.76 447.54,695.66 445.71,695.51 444.13,696.85 441.75,697.25 440.18,698.24 440.01,700.37 438.83,700.87 436.72,700.09 435.05,700.8" fill="none" stroke="#46a0a0" stroke-width="0.5" />
<polyline points="457.12,689.69 454.75,690.85 451.54,691.07 450.24,692.47 449.28,692.65 445.72,693.23 443.73,695.11 442.62,695.39 438.75,697 436.79,698.27 435.28,698.42 431.27,700.91 428.82,701.47 426.79,704.1" fill="none" stroke="#f032e6" stroke-width="0.5" />
<polyline points="456.18,692.77 454.17,694.12 452,694.97 450.02,694.98 447.94,695.92 445.69,695.84 443.87,697.38 441.63,696.91 438.75,697.29 437.93,696.79 436.69,696.99 433.97,696.91 432.74,696.88 431.68,698.89" fill="none" stroke="#7a9a1a" stroke-width="0.5" />
<polyline points="454.66,691.63 452.65,692.38 450.71,694.75 449.96,696.5 447.24,697.06 445.9,698.21 444.85,700.77 444.1,702.68 442.69,703.59 440.99,704.75 438.34,705.52 437.05,706.37 435.7,706.1 433.93,707.35" fill="none" stroke="#e08080" stroke-width="0.5" />
<polyline points="455.89,690.7 454.55,691.46 453.77,692.2 452.93,692.86 450.35,692.85 449.71,693.56 447.93,696.8 445.6,697.94 443.1,698.6 442.14,699.51 442.29,699.91 440.33,699.94 438.96,700.47 437.45,700.97" fill="none" stroke="#008080" stroke-width="0.5" />
<polyline points="456.12,691.05 453.81,691.99 452.1,693.36 448.8,695.51 447.21,696.8 445.95,696.64 444.85,697.84 442.77,699.46 440.88,699.6 439.91,701.2 438.51,702.06 438.12,702.57 436.63,703.4 434.82,704.76" fill="none" stroke="#9a6324" stroke-width="0.5" />
<polyline points="456.32,690.93 454.06,690.33 452.44,692.19 450.26,691.96 448.04,692.68 446.76,693.47 445.04,692.99 444.19,693.23 442.83,693.82 441.16,694.98 439.6,697.16 439.11,698.41 437.23,699.59 435.85,700.7" fill="none" stroke="#800000" stroke-width="0.5" />
<polyline points="455.36,691.17 454.49,692.27 452.45,693.28 451.43,694.04 449.45,695.28 448.42,695.46 446.54,696.6 444.63,698.16 443.75,698.71 444.11,700.17 443.81,701.92 440.79,702.05 439.44,703.62 438.37,703.19" fill="none" stroke="#308030" stroke-width="0.5" />
<polyline points="457.14,691.64 453.84,692.52 451.39,693.5 450.03,695.76 448.87,696.2 445.67,696.31 443.27,697.7 439.98,699.22 437.97,700.37 436.14,700.89 433.08,703.37 430.58,705.46 427.86,704.95 426.09,705.27" fill="none" stroke="#808000" stroke-width="0.5" />
<polyline points="454.88,690.99 453.92,693.1 451.25,693.72 448.85,695.19 446.58,696.75 443.71,697.87 443.02,698.89 441.16,698.99 438.23,700.24 437.1,701.01 434.21,700.77 432.21,702.63 431.83,703.89 428.8,702.71" fill="none" stroke="#000075" stroke-width="0.5" />
<polyline points="457.4,690.46 455.99,691.61 454.14,692.57 451.42,693.49 448.93,694.1 445.92,695.71 442.58,696.8 439.77,697.99 438.4,698.8 437.4,698.71 434.35,700.69 430.08,701.92 428.12,702.19 427.02,705.12" fill="none" stroke="#505050" stroke-width="0.5" />
<polyline points="456.74,691.99 454.9,692.38 455.07,693.3 453.47,693.33 449.62,693.94 448.19,694.61 446.55,695.99 445.31,696.87 443.68,697.32 442.29,697.48 441.74,698.43 440.27,700.8 439.45,700.6 437.28,701.26" fill="none" stroke="#20a0e0" stroke-width="0.5" />
<polyline points="456.72,691.93 455.25,693.32 451.46,692.87 448.31,693.94 446.15,696.09 444.85,697.84 441.98,698.44 440.45,698.22 437.57,700.34 436.95,699.57 434.56,699.25 430.6,699.21 428.68,700.37 426.54,702.06" fill="none" stroke="#c0a000" stroke-width="0.5" />
<polyline points="457.3,691.79 454.84,691.76 453.07,692.89 451.51,693.73 449.79,694.18 447.92,694.62 445.08,695.67 442.61,695.99 441.25,697.23 440.96,699.58 438.84,700.32 436.49,700.17 435.94,701.68 433.66,704.1" fill="none" stroke="#ff6060" stroke-width="0.5" />
<polyline points="455.71,689.24 454.53,689.7 451.61,691.23 450.38,691.54 448.64,693.02 446.95,693.63 446.46,694.47 445.69,695.49 443.74,697.61 441.52,698.99 440.24,701 438.5,700.83 435.4,700.46 432.75,701.43" fill="none" stroke="#60c060" stroke-width="0.5" />
<polyline points="455.97,690.56 453.54,691.94 452.91,693.03 450.33,694.08 447.27,696.05 443.83,699.01 440.15,700.26 438.59,702 436.83,702.08 435.18,703.87 434.1,705.18 431.82,705.2 429.92,705.66 427.87,708.46" fill="none" stroke="#6060ff" stroke-width="0.5" />
<polyline points="455.66,690.71 452.23,691.33 450.62,693.35 450.02,694.19 448.91,695.08 446.3,695.67 445.13,697.2 441.85,698.6 439.7,700.07 437.96,700 434.97,700.9 433.1,701.96 430.26,704.07 426.44,706.11" fill="none" stroke="#a0a000" stroke-width="0.5" />
<text x="456.1" y="673.1" font-size="10.5" font-weight="bold" text-anchor="middle" fill="#4cc65a" font-family='"Liberation Sans", sans-serif' >On-1</text>
<rect x="424.8" y="747" width="61.7" height="61.3" fill="#fff" stroke="none" stroke-width="1" />
<line x1="456.1" y1="762.3" x2="456.1" y2="794.3" stroke="#333" stroke-width="0.75" stroke-dasharray="1,0.7"/>
<line x1="439.1" y1="778.3" x2="473.1" y2="778.3" stroke="#333" stroke-width="0.75" stroke-dasharray="1,0.7"/>
<polyline points="455.95,777.91 457.15,777.81 457.18,777.42 457.55,777.81 458.61,778.64 458.61,778.19 458.31,777.64 457.99,777.23" fill="none" stroke="#e6194b" stroke-width="0.5" />
<polyline points="456.32,778.39 455.8,778.57 454.21,778.49 452.54,778.19 452.96,778.3 452.14,778.12 451.99,777.66 452.05,777.15" fill="none" stroke="#3cb44b" stroke-width="0.5" />
<polyline points="455.45,777.55 455.72,776.83 454.59,777.34 454,776.25 454.37,775.74 453.89,775.07 454.28,775.47 454.91,774.91" fill="none" stroke="#4363d8" stroke-width="0.5" />
<polyline points="457.71,777.79 456.83,777.48 455.48,776.84 455.1,776.89 455.99,777.16 455.75,777.16 454.88,778.16 455,778.47" fill="none" stroke="#f58231" stroke-width="0.5" />
<polyline points="455.69,777.68 454.96,777.04 454.52,777.6 453.99,777.99 454.55,778.23 455.13,776.59 455.3,776.25 456.24,776.49" fill="none" stroke="#911eb4" stroke-width="0.5" />
<polyline points="455.86,778.32 456,779.56 455.72,779.76 455.34,779.95 455.6,780.1 455.5,781.19 456.28,781.55 455.89,781.89" fill="none" stroke="#46a0a0" stroke-width="0.5" />
<polyline points="456.23,778.99 456.66,778.56 457.11,779.91 457.54,779.19 457.28,779.92 458.22,778.92 459.03,780.17 460.15,779.34" fill="none" stroke="#f032e6" stroke-width="0.5" />
<polyline points="456.2,779.34 456.84,779.17 456.26,779.22 456.73,778.61 456.7,779.6 457.72,779.82 458.78,779.81 458.42,779.43" fill="none" stroke="#7a9a1a" stroke-width="0.5" />
<polyline points="455.43,778.05 455.26,779.62 456.03,781.28 455.4,781.85 455.14,780.91 455.63,780.5 456.22,782.39 456.36,782.38" fill="none" stroke="#e08080" stroke-width="0.5" />
<polyline points="455.67,777.29 455.55,776.75 455.72,776.56 455.99,776.95 456.88,776.2 456.36,777.26 457.04,776.8 458.86,774.85" fill="none" stroke="#008080" stroke-width="0.5" />
<polyline points="455.85,778.1 456.22,777.18 456.24,777.35 457.08,776.02 456.62,775.59 457.32,776.96 458.53,776.46 458.68,776.34" fill="none" stroke="#9a6324" stroke-width="0.5" />
<polyline points="456.07,777.79 456.19,777.72 456.59,777.6 458.38,776.42 457.96,776.02 458.08,776.67 458.05,778.81 458.32,779.84" fill="none" stroke="#800000" stroke-width="0.5" />
<polyline points="456.07,777.8 457.84,777.22 456.79,776.73 456.94,777.74 456.77,777.58 456.98,778.16 456.42,778.39 456.05,778.72" fill="none" stroke="#308030" stroke-width="0.5" />
<polyline points="456.48,779.05 457.79,778.72 457.19,778.86 457.27,778.94 457.91,779.11 458.59,779.22 458.58,778.7 459.13,778.81" fill="none" stroke="#808000" stroke-width="0.5" />
<text x="456.1" y="760.2" font-size="10.5" font-weight="bold" text-anchor="middle" fill="#f22a22" font-family='"Liberation Sans", sans-serif' >Off-1</text>
<rect x="489" y="659.9" width="61.7" height="61.3" fill="#fff" stroke="none" stroke-width="1" />
<line x1="520.3" y1="675.2" x2="520.3" y2="707.2" stroke="#333" stroke-width="0.75" stroke-dasharray="1,0.7"/>
<line x1="503.3" y1="691.2" x2="537.3" y2="691.2" stroke="#333" stroke-width="0.75" stroke-dasharray="1,0.7"/>
<polyline points="519.96,691.46 518.86,692.57 516.74,693.94 515.78,694.18 514.98,695.68 513.04,695.98 512.2,697.78 511.39,697.55 509.47,699.16 507.6,701.17 507.43,701.69 506.56,703.43 505.87,704.24 504.64,705.34" fill="none" stroke="#e6194b" stroke-width="0.5" />
<polyline points="521.24,691.42 520.88,693.25 519.95,693.81 519.46,694.62 518.23,695.15 516.33,696.38 514.78,696.9 513.73,697.06 513.33,698.88 511.64,699.71 510.65,700.64 509.9,702.04 508.58,703.74 506.25,704.05" fill="none" stroke="#3cb44b" stroke-width="0.5" />
<polyline points="520.58,692.14 521.37,692.23 520.22,692.61 519.1,693.78 517.03,695.07 516.43,697.18 514.66,698.63 513.78,699.02 513.89,700.66 512.26,702.26 511.47,702.9 510.52,703.78 509.48,704.8 507,706.47" fill="none" stroke="#4363d8" stroke-width="0.5" />
<polyline points="520.59,691.03 520.07,692.81 519.44,691.39 519.48,692.4 519.02,692.74 517.89,693.51 517.33,695.03 516.61,696.19 516.3,698.01 515.83,698.7 515.48,699.17 514.67,701.26 512.52,701.31 509.75,703.72" fill="none" stroke="#f58231" stroke-width="0.5" />
<polyline points="520.45,691.03 518.74,691.99 516.96,693.26 517.16,695.81 515.42,696.27 513.69,695.71 511.71,696.35 511.43,698.06 509.67,699.33 508.46,700.27 508.22,701.81 507.92,702.83 507.12,703.82 506.57,704.55" fill="none" stroke="#911eb4" stroke-width="0.5" />
<polyline points="521.32,690.4 520.15,691.68 519.21,691.16 519.18,693.52 517.01,693.68 517.16,693.72 516.38,694.85 515.18,696.34 513.46,696.29 512.12,697.34 511.4,699.18 511.68,700.79 510.75,702.36 508.93,702.99" fill="none" stroke="#46a0a0" stroke-width="0.5" />
<polyline points="520.84,690.32 518.95,690.84 519.32,693.11 518.74,694.92 516.52,695.5 515.96,695.97 514.05,696.67 513.85,699.09 512.24,701.43 510.46,702.8 509.62,703.79 510.14,705.69 509.38,707.8 508.07,709.42" fill="none" stroke="#f032e6" stroke-width="0.5" />
<polyline points="521.75,690.29 519.58,691.59 518.2,692.69 518.1,694.49 516.12,695.48 515.26,696.04 514.34,696.75 513.09,698.46 510.73,699.61 509.21,701.21 508.57,702.66 506.28,703.84 504.36,705.18 503.89,707.39" fill="none" stroke="#7a9a1a" stroke-width="0.5" />
<polyline points="518.91,690.39 517.9,690.98 515.97,691.99 515.93,692.81 515.25,695.5 513.83,697.2 511.7,697.62 510.59,699.56 509.74,700.27 509.27,702.55 509.47,702.98 509.01,703.64 508.61,705.61 506.78,708.4" fill="none" stroke="#e08080" stroke-width="0.5" />
<polyline points="518.9,690.78 518.74,693.03 518.86,694.01 516.72,694.48 517.65,696.51 515.52,697.75 514.08,699.74 512.23,699.58 510.24,701.25 508.93,702.03 506.54,704.21 505.64,704.76 503.82,707.44 502.22,709.73" fill="none" stroke="#008080" stroke-width="0.5" />
<polyline points="519.92,691.66 519.25,692.24 519.56,693.2 518.08,695.4 516.44,696.53 515.6,698.53 513.27,699.05 510.32,700.75 509.47,702.47 508.64,703.22 508.04,703.63 506.22,704.62 505.94,704.83 507.22,705.49" fill="none" stroke="#9a6324" stroke-width="0.5" />
<polyline points="519.57,691.68 518.9,691.91 517.95,692.49 516.8,693.13 515.33,694.41 515.11,695.11 514.36,697.36 512.36,699.25 510.76,700.55 509.77,701.37 509.59,703.41 508.35,704.41 507.05,705.89 506.14,705.83" fill="none" stroke="#800000" stroke-width="0.5" />
<polyline points="519.98,690.55 517.75,692.17 516.33,693.19 517.47,693.39 515.03,695.33 512.71,696.23 511.8,696.8 511.79,698.14 510.97,698.9 509.21,700.02 509.75,701.26 509.24,702.94 507.58,704.84 506.21,704.76" fill="none" stroke="#308030" stroke-width="0.5" />
<polyline points="521.71,691.62 521.28,692.05 517.65,694.81 517.12,694.87 516.01,696.19 514.6,696.7 513.62,698.61 511.25,700.27 508.78,702.16 507.31,704.24 506.39,704.31 504.25,705.73 503.42,708.05 501.19,709.31" fill="none" stroke="#808000" stroke-width="0.5" />
<polyline points="519.49,689.72 518.81,691.53 517.17,693.29 517.04,695.52 516.58,696.41 514.99,698.25 512.9,700.57 512.41,701.45 509.95,701.87 507.74,702.11 507.11,705 505.25,705.43 505.9,706.59 505.16,707.12" fill="none" stroke="#000075" stroke-width="0.5" />
<polyline points="520.85,691.81 520.93,693.64 519.29,695.59 518.06,695.69 516.4,695.97 515.1,697.09 513.64,697.26 512.89,698.9 512.56,699.43 510.97,700.38 510.14,701.31 509.39,701.9 508.55,703.5 507.31,704.84" fill="none" stroke="#505050" stroke-width="0.5" />
<polyline points="521.04,691.85 519.95,692.71 518.27,693.79 517.01,694.61 514.85,695.05 514.25,695.77 513,696.69 512.02,697.75 511.7,699.17 509.58,700.43 507.49,701.39 506.98,701.54 506.18,702.73 505.77,704" fill="none" stroke="#20a0e0" stroke-width="0.5" />
<polyline points="521.14,691.29 519.24,692.95 517.96,695.85 516.04,696.16 515.73,697.17 513.09,697.96 511.18,699.14 511.6,700.46 510.79,702.35 509.02,702.48 509.18,703.6 507.2,705.55 505.2,706.62 504.65,707.75" fill="none" stroke="#c0a000" stroke-width="0.5" />
<polyline points="521.38,689.83 517.94,691.14 516.45,694.61 515.29,695.93 514.68,697.41 513.94,697.93 512.47,700.33 510.3,701.27 509.38,703.11 508.2,704.87 507.63,706.22 505.85,707.85 504.19,708.68 503.98,710.32" fill="none" stroke="#ff6060" stroke-width="0.5" />
<polyline points="519.59,691.32 518.52,692.92 518.56,694.44 516.23,695.98 515.42,697.94 514.15,700.6 513.44,703.46 511.58,705.42 510.28,707.2 510.27,709.28 509.19,710.06 507.51,712.19 506.18,713.14 505.23,714.83" fill="none" stroke="#60c060" stroke-width="0.5" />
<polyline points="521.14,690.57 519.56,692.09 520.82,693.49 520.27,694.06 520.91,695.2 519.92,696.42 518.56,697.85 517.71,698.63 515.62,698.64 514.35,697.75 512.64,698.58 511.57,701.11 508.93,701.76 507.55,702.79" fill="none" stroke="#6060ff" stroke-width="0.5" />
<polyline points="520.49,691.01 520.78,692.21 519.75,694.42 518.69,695.76 517.24,697.08 515.17,698.61 515.06,701.25 512.99,703.4 511.59,704.77 510,706.93 507.9,707.71 507.48,707.81 505.68,709.63 504.24,710.88" fill="none" stroke="#a0a000" stroke-width="0.5" />
<text x="520.3" y="673.1" font-size="10.5" font-weight="bold" text-anchor="middle" fill="#4cc65a" font-family='"Liberation Sans", sans-serif' >On-2</text>
<rect x="489" y="747" width="61.7" height="61.3" fill="#fff" stroke="none" stroke-width="1" />
<line x1="520.3" y1="762.3" x2="520.3" y2="794.3" stroke="#333" stroke-width="0.75" stroke-dasharray="1,0.7"/>
<line x1="503.3" y1="778.3" x2="537.3" y2="778.3" stroke="#333" stroke-width="0.75" stroke-dasharray="1,0.7"/>
<polyline points="521.63,779.26 521.91,780 521.93,779.83 522.82,780.84 522.07,781.96 523.57,782.7 522.86,783.29 522.51,784.22" fill="none" stroke="#e6194b" stroke-width="0.5" />
<polyline points="520.37,778.32 519.85,778.35 520.04,777.48 519.7,776.86 520.49,777.04 520.21,777.83 520.35,777.73 520.13,778.59" fill="none" stroke="#3cb44b" stroke-width="0.5" />
<polyline points="520.43,777.15 520.05,777.01 518.49,777.71 519.42,777.13 520.2,777.53 520.4,776.97 521.73,777.26 521.27,777.86" fill="none" stroke="#4363d8" stroke-width="0.5" />
<polyline points="520.43,777.75 520.98,778.06 519.68,778.07 520.01,778.74 520.84,778.89 521.09,778.15 521.05,777.71 521.67,778.58" fill="none" stroke="#f58231" stroke-width="0.5" />
<polyline points="519.95,776.83 520.21,777.58 520.07,776.63 520.57,776.09 520.66,775.99 521.2,775.09 522.08,775.34 523.61,774.66" fill="none" stroke="#911eb4" stroke-width="0.5" />
<polyline points="518.83,778.25 517.86,778.28 516.51,778.87 516.58,779.37 516.52,778.44 517.28,779.34 518.37,779.01 518.5,779.43" fill="none" stroke="#46a0a0" stroke-width="0.5" />
<polyline points="519.95,778.35 520.06,779.01 518.81,780.09 518.89,780.2 518.56,780.99 519.08,781.11 519.83,780.78 520.46,780.25" fill="none" stroke="#f032e6" stroke-width="0.5" />
<polyline points="520.12,779.63 519.75,779.17 519.68,779.39 520.13,779.54 520.22,779.66 522.11,778.65 522.43,779.35 521.88,779.89" fill="none" stroke="#7a9a1a" stroke-width="0.5" />
<polyline points="520.82,776.55 522.3,777.4 522.78,776.96 522.78,776.61 522.41,777.47 521.02,776.01 520.71,776.64 520.11,777.27" fill="none" stroke="#e08080" stroke-width="0.5" />
<polyline points="519.94,778.33 520,778.68 520.51,778.65 519.94,777.76 520.9,778.13 521.75,777.76 522.29,778.52 523.29,778.61" fill="none" stroke="#008080" stroke-width="0.5" />
<polyline points="521.34,777.51 521.3,776.93 520.5,777.12 521.28,776.71 521.04,776.41 520.76,777.1 521.59,776.16 522.03,776.56" fill="none" stroke="#9a6324" stroke-width="0.5" />
<polyline points="520.06,777.19 520.01,776.41 520.39,776.77 521.47,776.48 521.7,776.34 522.1,776 521.84,775.32 521.96,775.49" fill="none" stroke="#800000" stroke-width="0.5" />
<polyline points="521.59,778.66 521.52,779.47 522.28,779.26 522.5,779.12 522.41,779.25 522.34,778.86 522.68,778.56 521.43,778.17" fill="none" stroke="#308030" stroke-width="0.5" />
<polyline points="521.09,778.57 521.55,778.76 521.01,777.74 520.09,777.76 519.91,777.88 519.51,779.47 518.96,780.46 518.73,781.42" fill="none" stroke="#808000" stroke-width="0.5" />
<text x="520.3" y="760.2" font-size="10.5" font-weight="bold" text-anchor="middle" fill="#f22a22" font-family='"Liberation Sans", sans-serif' >Off-2</text>
<rect x="553.2" y="659.9" width="61.7" height="61.3" fill="#fff" stroke="none" stroke-width="1" />
<line x1="584.5" y1="675.2" x2="584.5" y2="707.2" stroke="#333" stroke-width="0.75" stroke-dasharray="1,0.7"/>
<line x1="567.5" y1="691.2" x2="601.5" y2="691.2" stroke="#333" stroke-width="0.75" stroke-dasharray="1,0.7"/>
<polyline points="585.75,691.7 583.13,691.34 581.92,693.07 579.42,695 578.05,695.11 576.82,697.95 574.94,699.19 573.83,699.86 573.35,702.04 572.47,704.28 571.21,705.91 568.95,707.82 567.44,707.38 565.96,707.15" fill="none" stroke="#e6194b" stroke-width="0.5" />
<polyline points="585.1,690.34 582.51,691.91 580.76,693.58 580.6,695 581.52,696.69 580.66,697.38 579.89,698.72 578.04,699.54 577.29,699.34 575.42,700.63 573.45,702.68 573.1,703.98 571.77,704.18 571.16,705.54" fill="none" stroke="#3cb44b" stroke-width="0.5" />
<polyline points="584.83,691.77 583.78,693.7 582.76,694.92 581.05,697.14 580.6,698.47 579.78,700.37 580.44,703.2 580.06,704.17 580.03,704.44 580.78,706.72 579.84,708.21 578.74,710.18 577.49,711.88 576.45,712.05" fill="none" stroke="#4363d8" stroke-width="0.5" />
<polyline points="583.71,690.09 582.51,690.78 581.07,691.33 580.06,691.66 579.95,692.99 579.68,693.34 578.54,694.55 577.73,695.1 576.47,696.67 576.45,699.04 575.48,700.73 575.39,702.07 574.77,703.2 574.74,705.03" fill="none" stroke="#f58231" stroke-width="0.5" />
<polyline points="583.81,691.33 581.91,693.42 581.52,694.83 580.88,696.83 579.26,698.53 577.68,700.9 577.69,702.81 575.96,705.59 575.03,706.83 574.24,708.42 572.96,710.83 571.05,712.52 569.94,713.18 568.16,713.55" fill="none" stroke="#911eb4" stroke-width="0.5" />
<polyline points="583.65,690.6 581.18,692.09 579.38,693.71 578.97,694.91 577.01,697.49 575.41,699.96 574.67,702.48 573.2,702.73 571.69,704.42 572.02,705.34 571.31,705.88 569.94,708.33 569.62,710.28 568.61,712.27" fill="none" stroke="#46a0a0" stroke-width="0.5" />
<polyline points="584.37,691.31 583.53,691.17 582.23,692.14 581.07,692.86 580.78,694.7 579.75,698.34 579.3,700.63 578.49,702.38 578.25,703.1 576.01,705.98 573.62,706.18 572.34,706.95 571.36,709.48 570.93,709.09" fill="none" stroke="#f032e6" stroke-width="0.5" />
<polyline points="584.36,689.6 582.72,691.78 581.56,692.65 579.34,694.75 580.16,695.44 579.82,696.81 577.81,696.98 576.95,698.21 575.24,699.74 574.47,703.11 573.25,703.86 571.31,705.6 570.83,706.8 570.5,708.25" fill="none" stroke="#7a9a1a" stroke-width="0.5" />
<polyline points="584.56,691.42 583.28,692.32 581.42,694.98 579.97,698.17 577.87,699.84 576.61,700.51 574.18,701.53 574.1,702.51 573.31,704.52 572.75,704.34 571.16,704.37 570.44,706.6 570.24,708.86 570.15,711.36" fill="none" stroke="#e08080" stroke-width="0.5" />
<polyline points="583.78,691.35 581.85,692.36 580.85,694.99 579.57,697.03 578.51,699.62 577.97,700.74 577.65,702.52 576.45,705.42 575.36,706.44 572.52,706.75 572.13,705.63 571.81,706.2 569.74,708.48 567.2,709.49" fill="none" stroke="#008080" stroke-width="0.5" />
<polyline points="585.39,692.66 582.84,692.81 583.7,694.43 584.16,696.99 583.08,697.4 582.66,698.78 582.77,700.2 583.61,699.94 581.11,700.58 579.03,701.7 577.31,703.79 576.28,705.18 574.69,706.2 573.22,706.48" fill="none" stroke="#9a6324" stroke-width="0.5" />
<polyline points="584.12,690.68 584.17,692.15 581.81,693.75 581.17,695.84 580.95,698.2 580.43,701.04 579.24,703.22 578.48,705.28 577.97,706.77 576.87,708.54 574.15,710.57 574,712.14 572.77,713.68 572.74,714.99" fill="none" stroke="#800000" stroke-width="0.5" />
<polyline points="584,692.42 582.63,693.32 581.93,694.99 580.95,697.49 579.64,699.9 578.51,701.98 577.37,702.94 575.75,704.46 575.43,705.84 573.69,708.02 573.34,710.15 572.15,710.97 571.57,713.9 570.43,716.13" fill="none" stroke="#308030" stroke-width="0.5" />
<polyline points="584.6,691.07 583.85,692.84 582.32,693.96 581.59,694.62 580.83,695.94 578.56,696.79 577.08,700.36 575.8,700.94 575.38,701.7 573.12,703.58 572.74,706.77 571.85,707.74 570.72,710.43 570.86,711.37" fill="none" stroke="#808000" stroke-width="0.5" />
<polyline points="583.54,691.73 582.86,691.72 581.28,692.91 580.85,693.18 580.94,693.65 579.37,695.38 579.55,696.29 578.57,697.74 578.67,698.56 577.72,699.23 575.57,700.93 574.43,702.89 573.23,705.12 572.61,707.1" fill="none" stroke="#000075" stroke-width="0.5" />
<polyline points="584.03,692.69 583.68,693.73 581.18,694.4 581.55,695.45 581.33,695.56 580.94,697.85 580.58,698.5 579,700.41 577.44,700.7 576.85,701.24 575.19,702.51 574.38,702.83 573.66,705.25 573.5,707.52" fill="none" stroke="#505050" stroke-width="0.5" />
<polyline points="584.66,690.38 582.67,691.2 580.47,694.2 580.27,694.39 579.52,695.89 578.6,697.66 578.09,698.14 576.06,699.23 575.54,700.7 574.24,701.96 573.61,703.7 573.5,706.69 572.78,707.47 570.57,708.84" fill="none" stroke="#20a0e0" stroke-width="0.5" />
<polyline points="584.75,691.24 584.69,692.89 584.54,694.74 583.12,696.5 581.56,698.27 578.67,700 578.29,702.56 576.57,703.38 576.4,703.94 575.17,705.35 574.24,707.74 574.16,707.84 572.7,707.84 570.96,708.25" fill="none" stroke="#c0a000" stroke-width="0.5" />
<polyline points="584.66,691.59 584.01,693.3 584.15,694.33 583.38,694.85 581.9,696.54 582.39,697.8 580.45,698.33 579.89,699.54 578.41,700.8 577.75,700.8 576.22,702.42 574.74,703.38 574.97,705.17 574.77,705.33" fill="none" stroke="#ff6060" stroke-width="0.5" />
<polyline points="584.39,691.74 583.39,694.11 582.98,695.57 580.63,697.83 579.2,699.53 577.28,700.96 577.6,701.05 576.63,702.87 575.63,704.05 574.12,705.26 572.37,706.48 572.16,708.91 571.1,710.84 569.14,711.23" fill="none" stroke="#60c060" stroke-width="0.5" />
<polyline points="584.04,690.44 582.41,691.87 582.19,694.89 580.93,697.19 579.65,699.27 578.05,701.43 575.54,701.29 575.77,703.26 574.53,705.55 573.4,708.04 571.27,709.37 571.04,711.43 569.2,712.19 569.38,714.86" fill="none" stroke="#6060ff" stroke-width="0.5" />
<polyline points="583.97,690.24 581.77,690.78 580.77,693.46 579.02,695.25 578.62,696.81 578.06,698.59 577.32,700.53 577.24,700.77 576.42,703.24 577.15,703.58 576.79,705.95 576.56,706.47 576.45,707.64 574.48,709.07" fill="none" stroke="#a0a000" stroke-width="0.5" />
<text x="584.5" y="673.1" font-size="10.5" font-weight="bold" text-anchor="middle" fill="#4cc65a" font-family='"Liberation Sans", sans-serif' >On-3</text>
<rect x="553.2" y="747" width="61.7" height="61.3" fill="#fff" stroke="none" stroke-width="1" />
<line x1="584.5" y1="762.3" x2="584.5" y2="794.3" stroke="#333" stroke-width="0.75" stroke-dasharray="1,0.7"/>
<line x1="567.5" y1="778.3" x2="601.5" y2="778.3" stroke="#333" stroke-width="0.75" stroke-dasharray="1,0.7"/>
<polyline points="584.64,778.77 585.92,780.05 587.04,781.23 586.38,780.51 586.66,780.51 586.98,780.2 587.41,781.34 587.35,781.29" fill="none" stroke="#e6194b" stroke-width="0.5" />
<polyline points="584.15,776.85 584,776.71 584.19,776.22 585.18,776.97 586.53,775.09 586.15,775.58 586.49,775.9 586.52,776.68" fill="none" stroke="#3cb44b" stroke-width="0.5" />
<polyline points="584.31,778.22 586.12,778.08 586.87,778.25 587.49,778.34 588.23,779.25 588.21,778.96 587.85,778.4 588.98,779.76" fill="none" stroke="#4363d8" stroke-width="0.5" />
<polyline points="583.28,777.8 583.45,778.5 582.67,778.18 582.83,778.86 582.26,779.63 581.71,780.34 581.32,780.15 581.92,780.49" fill="none" stroke="#f58231" stroke-width="0.5" />
<polyline points="585.08,778.24 584.94,779.16 586.32,779.52 586.67,779.02 588.03,778.81 588.36,779.82 586.43,779.63 585.51,779.34" fill="none" stroke="#911eb4" stroke-width="0.5" />
<polyline points="584.53,777.29 585.35,778.98 585.16,779 586.39,779.3 585.63,779.72 585.21,780.67 584.76,781.72 583.89,781.6" fill="none" stroke="#46a0a0" stroke-width="0.5" />
<polyline points="583.03,780.14 583.09,779.94 583.41,780.08 583.78,781.73 584.97,781.45 585.24,781.43 585.63,780.73 585.4,779.67" fill="none" stroke="#f032e6" stroke-width="0.5" />
<polyline points="584.92,777.86 585.8,778.01 584.82,779.27 583.4,781.36 584.67,782.6 585.99,783.52 585.98,783.07 586.12,781.35" fill="none" stroke="#7a9a1a" stroke-width="0.5" />
<polyline points="584.84,778.29 585.03,777.98 584,778.06 583.7,777.78 583.75,778.4 584.69,777.55 584.83,776.14 584,775.34" fill="none" stroke="#e08080" stroke-width="0.5" />
<polyline points="584.3,778.24 584.51,778.25 584.42,777.25 584.74,776.52 585.17,776.26 586.57,775.52 586.91,776.28 586.56,776.04" fill="none" stroke="#008080" stroke-width="0.5" />
<polyline points="585.7,778.99 585.94,778.6 585.57,777.47 586.77,777.53 587.25,778.54 587.86,778.49 588.9,777.22 589.87,777.64" fill="none" stroke="#9a6324" stroke-width="0.5" />
<polyline points="584.51,778.85 585.38,778.44 585.67,778.25 585.67,778.93 585.46,778.28 585.34,779.49 586.38,780.16 587.61,780.14" fill="none" stroke="#800000" stroke-width="0.5" />
<polyline points="584.15,777.82 584.53,778.25 583.76,780.08 584.44,779.05 583.2,779.24 583.36,778.43 583.34,778.38 583.21,779.23" fill="none" stroke="#308030" stroke-width="0.5" />
<polyline points="583.53,778.17 582.57,778.18 582.67,779.7 581.94,779.79 581.77,779.79 581.21,778.88 580.68,778.25 581.31,778.06" fill="none" stroke="#808000" stroke-width="0.5" />
<text x="584.5" y="760.2" font-size="10.5" font-weight="bold" text-anchor="middle" fill="#f22a22" font-family='"Liberation Sans", sans-serif' >Off-3</text>
<rect x="617.6" y="659.9" width="61.7" height="61.3" fill="#fff" stroke="none" stroke-width="1" />
<line x1="648.9" y1="675.2" x2="648.9" y2="707.2" stroke="#333" stroke-width="0.75" stroke-dasharray="1,0.7"/>
<line x1="631.9" y1="691.2" x2="665.9" y2="691.2" stroke="#333" stroke-width="0.75" stroke-dasharray="1,0.7"/>
<polyline points="647.37,690.66 645.52,693.75 643.07,695.82 641.26,696.7 640.51,697.61 640.53,699.57 639.7,700.84 638.56,703.11 636.47,704.5 634.27,705.69 632.93,705.6 631.45,706.52 630.61,706.97 628.8,708.17" fill="none" stroke="#e6194b" stroke-width="0.5" />
<polyline points="650.14,691.86 648.36,691.93 647.13,693.54 645.94,693.81 645.26,694.66 643.49,695.95 642.24,695.72 641.03,697.14 639.28,697.01 638.7,698.93 637.42,700.14 635.68,701.24 633.41,702 632.45,702.52" fill="none" stroke="#3cb44b" stroke-width="0.5" />
<polyline points="649.79,690.63 647.56,690.84 645.85,692.02 645.76,691.83 644.74,693.02 643.38,693.69 641.58,695.44 640.96,695.37 640.02,695.13 639.21,696.65 636.54,697.16 635.22,699.69 634.58,701.06 633.39,702.03" fill="none" stroke="#4363d8" stroke-width="0.5" />
<polyline points="649.28,691 646.54,692.61 644.88,692.82 642.32,693.75 641.73,695.61 641.29,695.21 639.84,697.82 637.74,699.57 635.28,701.26 633.51,701.49 632.69,702.94 631.33,703.01 630.3,703.97 629.21,704.52" fill="none" stroke="#f58231" stroke-width="0.5" />
<polyline points="648.93,690.77 645.9,691.8 645.17,694 643.21,696.23 641.43,696.51 639.69,697.76 638.84,697.24 638.14,699.14 636.97,699.26 634.07,701.29 632.17,703.31 629.56,705.05 628.32,705.2 626.41,707.84" fill="none" stroke="#911eb4" stroke-width="0.5" />
<polyline points="648.89,690.43 646.89,690.94 646.72,691.02 644.18,692.36 643.39,692.63 641.11,693.76 639.25,695.11 637.14,696.4 636.14,696.79 633.26,697.5 631.76,700.91 630.85,702.63 626.92,702.43 625.84,703.27" fill="none" stroke="#46a0a0" stroke-width="0.5" />
<polyline points="649.82,691.62 648.31,691.32 646.48,693.17 644.66,693.14 641.06,694.01 639.85,694.58 638.02,696.07 635.96,697.14 633.79,697.71 632.53,699.33 630.7,699.35 629.38,701.17 628.32,702.92 626.69,703.91" fill="none" stroke="#f032e6" stroke-width="0.5" />
<polyline points="649.37,690.5 646.22,691.86 644.79,693.15 643.51,692.99 641.31,694.57 639.23,695.5 638.68,697.17 636.59,698.47 634.32,699.89 631.56,699.65 631.08,701.53 628.68,702.99 625.08,704.11 624.29,705.79" fill="none" stroke="#7a9a1a" stroke-width="0.5" />
<polyline points="649.09,692.86 647.31,694.24 646.5,694.76 646.29,694.45 644.69,695.31 643.22,695.49 641.49,696.92 639.42,698.82 636.43,699.9 636.28,700.35 634.91,701.26 633.04,702.97 630.56,704.58 628.03,705.56" fill="none" stroke="#e08080" stroke-width="0.5" />
<polyline points="648.93,692.97 647.3,694.3 646.06,695.86 644.31,696.75 642.74,698.14 642.04,699.3 640.92,701.96 637.87,702.88 635.91,703.85 635.26,704.73 633.65,707.15 630.21,707.24 627.53,708.36 626.19,708.76" fill="none" stroke="#008080" stroke-width="0.5" />
<polyline points="648.27,690.76 646.1,692.05 644.38,693.59 643.9,694.39 641.88,693.18 640.78,694.38 639.46,694.5 638.95,695.25 638.12,696.67 637.54,698 634.92,699.08 633.49,699.45 631.42,699.48 629.68,700.03" fill="none" stroke="#9a6324" stroke-width="0.5" />
<polyline points="648.18,691.72 647.93,691.93 646.44,693.85 644.51,695.1 644.07,695.83 643.81,696.8 642.59,697.81 643.49,698.41 643.2,700.37 641.39,700.81 639.53,701.36 638.04,702.75 636.74,703.75 635.81,704.56" fill="none" stroke="#800000" stroke-width="0.5" />
<polyline points="648.84,691.05 646.43,692.64 644.25,693.27 642.43,692.69 641.58,693.54 640.56,693.77 637.15,694.24 635.66,696.45 634.96,698.54 632.56,699.33 631.06,701.11 628.51,701.55 625.65,703.71 623.12,705.14" fill="none" stroke="#308030" stroke-width="0.5" />
<polyline points="647.68,691.24 646.96,692.3 645.25,693.48 644.03,693.81 642.67,696.21 640.88,695.58 640.01,696.8 639.02,697.3 638.41,699.47 638.17,698.41 636.09,699.21 632.97,701.22 632.21,701.2 630,702.73" fill="none" stroke="#808000" stroke-width="0.5" />
<polyline points="648.08,690.34 646.28,691.51 645.49,692.23 644.67,692.99 642.53,693.78 640.7,693.92 637.77,695.45 636.48,697.15 633.77,697.99 631.23,700.16 631.12,701.77 630.78,701.73 629.21,703.02 628.21,704.23" fill="none" stroke="#000075" stroke-width="0.5" />
<polyline points="648.69,692.22 646.5,693.54 645.13,693.4 642.95,695.82 641.15,697.13 638.99,698.78 637.24,700.35 636.16,700.48 634.38,701.8 631.81,702.65 629.84,703.97 627.23,705.12 626.17,705.52 624.06,706.9" fill="none" stroke="#505050" stroke-width="0.5" />
<polyline points="649.96,690.26 649.02,691.97 646.56,692.87 645.62,693.29 644.51,693.2 643.21,693.34 642.44,694.08 641.16,695.56 640.14,695.79 638.62,695.96 637.72,697.7 637.92,699.08 636.01,700.4 633.86,700.04" fill="none" stroke="#20a0e0" stroke-width="0.5" />
<polyline points="647.7,691.71 646.34,694.16 645.06,694.97 642.92,695.43 641.83,695.44 638.47,696.1 637.05,696.99 635.46,697.39 632.94,699.61 632.21,700.97 630.53,701.43 629.03,703 627.79,704.05 626.94,704.6" fill="none" stroke="#c0a000" stroke-width="0.5" />
<polyline points="648.78,692.62 648.88,692.95 646.56,694.13 643.32,694.81 642.66,695.37 640.57,697.38 640.26,698.36 638.54,699.75 637.54,699.53 636.08,700.36 634.59,702.02 631.02,703.98 629.38,704.87 628.08,706.45" fill="none" stroke="#ff6060" stroke-width="0.5" />
<polyline points="649.6,691.44 648.59,691.77 647.64,692.94 646.74,694.66 644.06,696.02 643.06,697.85 639.94,699.16 637.3,699.59 635.99,701.03 634.48,701.76 632.57,703.36 631.64,704.45 628.67,703.65 625.83,704.25" fill="none" stroke="#60c060" stroke-width="0.5" />
<polyline points="648.47,691.07 647.62,691.6 646.35,691.94 645.54,692.83 644.44,694.4 642.93,695.67 641.73,697.05 640.28,697.94 640.39,699.47 639.08,699.88 637.51,700.49 635.62,701.06 634.3,701.85 633.44,702.66" fill="none" stroke="#6060ff" stroke-width="0.5" />
<polyline points="648.66,690.74 647.55,689.56 644.81,690.01 644.08,691.78 642.56,693.06 640.91,695.46 637.63,696.03 636.05,696.66 634.73,698.58 633.69,698.57 631.9,700.71 629.65,702.82 627.51,703.2 626.93,703.36" fill="none" stroke="#a0a000" stroke-width="0.5" />
<text x="648.9" y="673.1" font-size="10.5" font-weight="bold" text-anchor="middle" fill="#4cc65a" font-family='"Liberation Sans", sans-serif' >On-4</text>
<rect x="617.6" y="747" width="61.7" height="61.3" fill="#fff" stroke="none" stroke-width="1" />
<line x1="648.9" y1="762.3" x2="648.9" y2="794.3" stroke="#333" stroke-width="0.75" stroke-dasharray="1,0.7"/>
<line x1="631.9" y1="778.3" x2="665.9" y2="778.3" stroke="#333" stroke-width="0.75" stroke-dasharray="1,0.7"/>
<polyline points="648.98,778.21 648.56,777.8 647.36,777.98 646.6,779.27 646.3,778.12 646.55,778.71 647.34,778.47 647.3,778.36" fill="none" stroke="#e6194b" stroke-width="0.5" />
<polyline points="649.3,779.26 649.98,778.99 649.86,778.93 649.44,778.18 649.13,778.53 649.48,777.79 649.68,777.61 649.88,778.08" fill="none" stroke="#3cb44b" stroke-width="0.5" />
<polyline points="649.21,778.92 649.67,779.48 649.57,778.29 648,778.14 647.8,777.01 646.77,775.41 647.55,773.74 646.01,774.07" fill="none" stroke="#4363d8" stroke-width="0.5" />
<polyline points="649.44,777.84 649.72,778.18 649.28,779.97 649.64,780.25 649.65,780.57 649.01,780.53 649.13,780.76 648.88,780.94" fill="none" stroke="#f58231" stroke-width="0.5" />
<polyline points="648.56,779.28 647.77,778.29 647.75,778.78 647.36,778.82 647.36,779.03 648.39,778.28 647.88,778.27 647.65,778.49" fill="none" stroke="#911eb4" stroke-width="0.5" />
<polyline points="650.05,778.75 649.74,779.29 650.17,780.7 649.52,780.95 650.26,781.56 650.44,781.12 649.84,780.45 650,780.8" fill="none" stroke="#46a0a0" stroke-width="0.5" />
<polyline points="648.72,777.87 648.85,776.82 650.55,776.32 650.75,776.34 650.77,776.6 650.07,777.97 650.29,776.96 651.35,777.5" fill="none" stroke="#f032e6" stroke-width="0.5" />
<polyline points="648.91,778.51 648.4,780.04 648.59,779.74 647.56,779.12 646.31,779.04 645.99,778.44 645.82,778.67 645.81,778.27" fill="none" stroke="#7a9a1a" stroke-width="0.5" />
<polyline points="649.33,778.17 649.48,778.05 649.18,779.36 648.59,778.07 647.51,777.29 648.83,779.38 647.47,780.05 647.44,781.45" fill="none" stroke="#e08080" stroke-width="0.5" />
<polyline points="649.23,777.94 649.93,778.11 650.07,776.91 650.33,777.11 650.43,776.99 650.79,776.92 649.93,777.2 648.96,777.42" fill="none" stroke="#008080" stroke-width="0.5" />
<polyline points="649.06,779.6 649.75,780.46 650.5,780.23 651.11,780.91 650.35,780.61 651.47,781.83 652.82,782.8 651.44,782.27" fill="none" stroke="#9a6324" stroke-width="0.5" />
<polyline points="647.72,777.29 648.2,776.94 647.67,776.37 647.17,775.58 646.27,776.25 646.23,775.04 645.82,775.02 645.24,775.36" fill="none" stroke="#800000" stroke-width="0.5" />
<polyline points="648.51,778.53 648.92,778.6 648.68,779.01 649.35,780.01 649.68,778.98 650.69,777.92 649.95,779.47 650.21,780.96" fill="none" stroke="#308030" stroke-width="0.5" />
<polyline points="648.96,778.26 647.4,778.24 647.88,778.5 649.66,779.14 650.08,779.95 650.48,780.42 650.03,779.18 649.91,778.94" fill="none" stroke="#808000" stroke-width="0.5" />
<text x="648.9" y="760.2" font-size="10.5" font-weight="bold" text-anchor="middle" fill="#f22a22" font-family='"Liberation Sans", sans-serif' >Off-4</text></svg>
</body></html>
